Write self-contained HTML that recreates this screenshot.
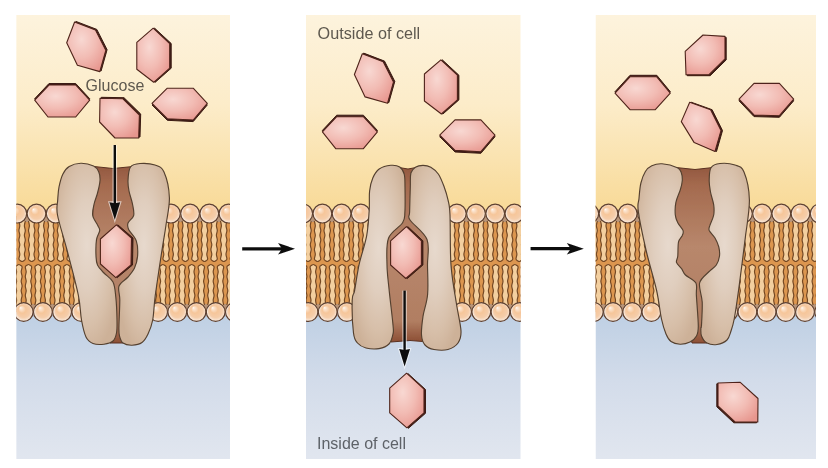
<!DOCTYPE html><html><head><meta charset="utf-8"><style>html,body{margin:0;padding:0;background:#fff;width:828px;height:468px;overflow:hidden}svg{display:block}text{font-family:"Liberation Sans",sans-serif}</style></head><body>
<svg width="828" height="468" viewBox="0 0 828 468">
<defs>
<linearGradient id="bgTop" x1="0" y1="15" x2="0" y2="215" gradientUnits="userSpaceOnUse"><stop offset="0" stop-color="#fdf3dd"/><stop offset="0.45" stop-color="#fcecc9"/><stop offset="1" stop-color="#f8d995"/></linearGradient>
<linearGradient id="bgBot" x1="0" y1="305" x2="0" y2="459" gradientUnits="userSpaceOnUse"><stop offset="0" stop-color="#bccee3"/><stop offset="0.5" stop-color="#d3dcea"/><stop offset="1" stop-color="#e1e6ef"/></linearGradient>
<radialGradient id="head" cx="0.55" cy="0.5" r="0.5" fx="0.33" fy="0.27"><stop offset="0" stop-color="#ffffff"/><stop offset="0.1" stop-color="#fce8d6"/><stop offset="0.4" stop-color="#f6c69a"/><stop offset="0.72" stop-color="#f5cdaa"/><stop offset="1" stop-color="#faede2"/></radialGradient>
<radialGradient id="hex" cx="0.38" cy="0.35" r="0.75"><stop offset="0" stop-color="#f8d8d2"/><stop offset="0.5" stop-color="#f2bcb4"/><stop offset="1" stop-color="#e7968e"/></radialGradient>
<radialGradient id="lobe" cx="0.5" cy="0.45" r="0.6"><stop offset="0" stop-color="#e7d9cd"/><stop offset="0.4" stop-color="#e0cebe"/><stop offset="0.75" stop-color="#d7bfa9"/><stop offset="1" stop-color="#cdb198"/></radialGradient>
<linearGradient id="chan" x1="0" y1="0" x2="0" y2="1"><stop offset="0" stop-color="#935840"/><stop offset="0.1" stop-color="#a46a4e"/><stop offset="0.45" stop-color="#b8876c"/><stop offset="0.88" stop-color="#b17e62"/><stop offset="1" stop-color="#8c4e34"/></linearGradient>
<clipPath id="cp0"><rect x="16.2" y="15" width="213.8" height="444"/></clipPath>
<clipPath id="cp1"><rect x="306.0" y="15" width="214.5" height="444"/></clipPath>
<clipPath id="cp2"><rect x="595.5" y="15" width="220.5" height="444"/></clipPath>
<filter id="soft" x="-1%" y="-1%" width="102%" height="102%"><feGaussianBlur stdDeviation="0.6"/></filter>
</defs>
<g filter="url(#soft)">
<g clip-path="url(#cp0)">
<rect x="16.2" y="15" width="213.8" height="215" fill="url(#bgTop)"/>
<rect x="16.2" y="300" width="213.8" height="159" fill="url(#bgBot)"/>
<rect x="16.2" y="216" width="213.8" height="96" fill="#dc9650"/>
<rect x="16.2" y="216" width="213.8" height="6" fill="#b89478"/>
<rect x="16.2" y="304" width="213.8" height="6" fill="#b89478"/>
<path d="M-9.9,221.0 C-9.7,221.8 -9.0,224.2 -9.0,225.8 C-9.0,227.3 -9.9,228.9 -9.9,230.5 C-9.9,232.1 -9.0,233.7 -9.0,235.2 C-9.0,236.8 -9.9,238.4 -9.9,240.0 C-9.9,241.6 -9.0,243.2 -9.0,244.8 C-9.0,246.3 -9.9,247.9 -9.9,249.5 C-9.9,251.1 -9.0,252.7 -9.0,254.2 C-9.0,255.8 -10.0,257.9 -9.9,259.0 C-9.8,260.1 -8.8,260.3 -8.3,260.7 C-7.8,261.1 -7.2,261.5 -6.7,261.5 C-6.2,261.5 -5.6,261.1 -5.1,260.7 C-4.6,260.3 -3.6,260.1 -3.5,259.0 C-3.4,257.9 -4.4,255.8 -4.4,254.2 C-4.4,252.7 -3.5,251.1 -3.5,249.5 C-3.5,247.9 -4.4,246.3 -4.4,244.8 C-4.4,243.2 -3.5,241.6 -3.5,240.0 C-3.5,238.4 -4.4,236.8 -4.4,235.2 C-4.4,233.7 -3.5,232.1 -3.5,230.5 C-3.5,228.9 -4.4,227.3 -4.4,225.8 C-4.4,224.2 -3.6,221.8 -3.5,221.0" fill="#f3cf9f" stroke="#744824" stroke-width="1.2"/>
<path d="M-0.3,221.0 C-0.1,221.8 0.6,224.2 0.6,225.8 C0.6,227.3 -0.3,228.9 -0.3,230.5 C-0.3,232.1 0.6,233.7 0.6,235.2 C0.6,236.8 -0.3,238.4 -0.3,240.0 C-0.3,241.6 0.6,243.2 0.6,244.8 C0.6,246.3 -0.3,247.9 -0.3,249.5 C-0.3,251.1 0.6,252.7 0.6,254.2 C0.6,255.8 -0.4,257.9 -0.3,259.0 C-0.2,260.1 0.8,260.3 1.3,260.7 C1.8,261.1 2.4,261.5 2.9,261.5 C3.4,261.5 4.0,261.1 4.5,260.7 C5.0,260.3 6.0,260.1 6.1,259.0 C6.2,257.9 5.2,255.8 5.2,254.2 C5.2,252.7 6.1,251.1 6.1,249.5 C6.1,247.9 5.2,246.3 5.2,244.8 C5.2,243.2 6.1,241.6 6.1,240.0 C6.1,238.4 5.2,236.8 5.2,235.2 C5.2,233.7 6.1,232.1 6.1,230.5 C6.1,228.9 5.2,227.3 5.2,225.8 C5.2,224.2 6.0,221.8 6.1,221.0" fill="#f3cf9f" stroke="#744824" stroke-width="1.2"/>
<path d="M9.3,221.0 C9.5,221.8 10.2,224.2 10.2,225.8 C10.2,227.3 9.3,228.9 9.3,230.5 C9.3,232.1 10.2,233.7 10.2,235.2 C10.2,236.8 9.3,238.4 9.3,240.0 C9.3,241.6 10.2,243.2 10.2,244.8 C10.2,246.3 9.3,247.9 9.3,249.5 C9.3,251.1 10.2,252.7 10.2,254.2 C10.2,255.8 9.2,257.9 9.3,259.0 C9.4,260.1 10.4,260.3 10.9,260.7 C11.4,261.1 12.0,261.5 12.5,261.5 C13.0,261.5 13.6,261.1 14.1,260.7 C14.6,260.3 15.6,260.1 15.7,259.0 C15.8,257.9 14.8,255.8 14.8,254.2 C14.8,252.7 15.7,251.1 15.7,249.5 C15.7,247.9 14.8,246.3 14.8,244.8 C14.8,243.2 15.7,241.6 15.7,240.0 C15.7,238.4 14.8,236.8 14.8,235.2 C14.8,233.7 15.7,232.1 15.7,230.5 C15.7,228.9 14.8,227.3 14.8,225.8 C14.8,224.2 15.5,221.8 15.7,221.0" fill="#f3cf9f" stroke="#744824" stroke-width="1.2"/>
<path d="M18.9,221.0 C19.1,221.8 19.8,224.2 19.8,225.8 C19.8,227.3 18.9,228.9 18.9,230.5 C18.9,232.1 19.8,233.7 19.8,235.2 C19.8,236.8 18.9,238.4 18.9,240.0 C18.9,241.6 19.8,243.2 19.8,244.8 C19.8,246.3 18.9,247.9 18.9,249.5 C18.9,251.1 19.8,252.7 19.8,254.2 C19.8,255.8 18.8,257.9 18.9,259.0 C19.0,260.1 20.0,260.3 20.5,260.7 C21.0,261.1 21.6,261.5 22.1,261.5 C22.6,261.5 23.2,261.1 23.7,260.7 C24.2,260.3 25.2,260.1 25.3,259.0 C25.4,257.9 24.4,255.8 24.4,254.2 C24.4,252.7 25.3,251.1 25.3,249.5 C25.3,247.9 24.4,246.3 24.4,244.8 C24.4,243.2 25.3,241.6 25.3,240.0 C25.3,238.4 24.4,236.8 24.4,235.2 C24.4,233.7 25.3,232.1 25.3,230.5 C25.3,228.9 24.4,227.3 24.4,225.8 C24.4,224.2 25.2,221.8 25.3,221.0" fill="#f3cf9f" stroke="#744824" stroke-width="1.2"/>
<path d="M28.5,221.0 C28.6,221.8 29.4,224.2 29.4,225.8 C29.4,227.3 28.5,228.9 28.5,230.5 C28.5,232.1 29.4,233.7 29.4,235.2 C29.4,236.8 28.5,238.4 28.5,240.0 C28.5,241.6 29.4,243.2 29.4,244.8 C29.4,246.3 28.5,247.9 28.5,249.5 C28.5,251.1 29.4,252.7 29.4,254.2 C29.4,255.8 28.4,257.9 28.5,259.0 C28.6,260.1 29.6,260.3 30.1,260.7 C30.6,261.1 31.2,261.5 31.7,261.5 C32.2,261.5 32.8,261.1 33.3,260.7 C33.8,260.3 34.8,260.1 34.9,259.0 C35.0,257.9 34.0,255.8 34.0,254.2 C34.0,252.7 34.9,251.1 34.9,249.5 C34.9,247.9 34.0,246.3 34.0,244.8 C34.0,243.2 34.9,241.6 34.9,240.0 C34.9,238.4 34.0,236.8 34.0,235.2 C34.0,233.7 34.9,232.1 34.9,230.5 C34.9,228.9 34.0,227.3 34.0,225.8 C34.0,224.2 34.8,221.8 34.9,221.0" fill="#f3cf9f" stroke="#744824" stroke-width="1.2"/>
<path d="M38.1,221.0 C38.2,221.8 39.0,224.2 39.0,225.8 C39.0,227.3 38.1,228.9 38.1,230.5 C38.1,232.1 39.0,233.7 39.0,235.2 C39.0,236.8 38.1,238.4 38.1,240.0 C38.1,241.6 39.0,243.2 39.0,244.8 C39.0,246.3 38.1,247.9 38.1,249.5 C38.1,251.1 39.0,252.7 39.0,254.2 C39.0,255.8 38.0,257.9 38.1,259.0 C38.2,260.1 39.2,260.3 39.7,260.7 C40.2,261.1 40.8,261.5 41.3,261.5 C41.8,261.5 42.4,261.1 42.9,260.7 C43.4,260.3 44.4,260.1 44.5,259.0 C44.6,257.9 43.6,255.8 43.6,254.2 C43.6,252.7 44.5,251.1 44.5,249.5 C44.5,247.9 43.6,246.3 43.6,244.8 C43.6,243.2 44.5,241.6 44.5,240.0 C44.5,238.4 43.6,236.8 43.6,235.2 C43.6,233.7 44.5,232.1 44.5,230.5 C44.5,228.9 43.6,227.3 43.6,225.8 C43.6,224.2 44.4,221.8 44.5,221.0" fill="#f3cf9f" stroke="#744824" stroke-width="1.2"/>
<path d="M47.7,221.0 C47.9,221.8 48.6,224.2 48.6,225.8 C48.6,227.3 47.7,228.9 47.7,230.5 C47.7,232.1 48.6,233.7 48.6,235.2 C48.6,236.8 47.7,238.4 47.7,240.0 C47.7,241.6 48.6,243.2 48.6,244.8 C48.6,246.3 47.7,247.9 47.7,249.5 C47.7,251.1 48.6,252.7 48.6,254.2 C48.6,255.8 47.6,257.9 47.7,259.0 C47.8,260.1 48.8,260.3 49.3,260.7 C49.8,261.1 50.4,261.5 50.9,261.5 C51.4,261.5 52.0,261.1 52.5,260.7 C53.0,260.3 54.0,260.1 54.1,259.0 C54.2,257.9 53.2,255.8 53.2,254.2 C53.2,252.7 54.1,251.1 54.1,249.5 C54.1,247.9 53.2,246.3 53.2,244.8 C53.2,243.2 54.1,241.6 54.1,240.0 C54.1,238.4 53.2,236.8 53.2,235.2 C53.2,233.7 54.1,232.1 54.1,230.5 C54.1,228.9 53.2,227.3 53.2,225.8 C53.2,224.2 54.0,221.8 54.1,221.0" fill="#f3cf9f" stroke="#744824" stroke-width="1.2"/>
<path d="M57.3,221.0 C57.4,221.8 58.2,224.2 58.2,225.8 C58.2,227.3 57.3,228.9 57.3,230.5 C57.3,232.1 58.2,233.7 58.2,235.2 C58.2,236.8 57.3,238.4 57.3,240.0 C57.3,241.6 58.2,243.2 58.2,244.8 C58.2,246.3 57.3,247.9 57.3,249.5 C57.3,251.1 58.2,252.7 58.2,254.2 C58.2,255.8 57.2,257.9 57.3,259.0 C57.4,260.1 58.4,260.3 58.9,260.7 C59.4,261.1 60.0,261.5 60.5,261.5 C61.0,261.5 61.6,261.1 62.1,260.7 C62.6,260.3 63.6,260.1 63.7,259.0 C63.8,257.9 62.8,255.8 62.8,254.2 C62.8,252.7 63.7,251.1 63.7,249.5 C63.7,247.9 62.8,246.3 62.8,244.8 C62.8,243.2 63.7,241.6 63.7,240.0 C63.7,238.4 62.8,236.8 62.8,235.2 C62.8,233.7 63.7,232.1 63.7,230.5 C63.7,228.9 62.8,227.3 62.8,225.8 C62.8,224.2 63.6,221.8 63.7,221.0" fill="#f3cf9f" stroke="#744824" stroke-width="1.2"/>
<path d="M66.9,221.0 C67.1,221.8 67.8,224.2 67.8,225.8 C67.8,227.3 66.9,228.9 66.9,230.5 C66.9,232.1 67.8,233.7 67.8,235.2 C67.8,236.8 66.9,238.4 66.9,240.0 C66.9,241.6 67.8,243.2 67.8,244.8 C67.8,246.3 66.9,247.9 66.9,249.5 C66.9,251.1 67.8,252.7 67.8,254.2 C67.8,255.8 66.8,257.9 66.9,259.0 C67.0,260.1 68.0,260.3 68.5,260.7 C69.0,261.1 69.6,261.5 70.1,261.5 C70.6,261.5 71.2,261.1 71.7,260.7 C72.2,260.3 73.2,260.1 73.3,259.0 C73.4,257.9 72.4,255.8 72.4,254.2 C72.4,252.7 73.3,251.1 73.3,249.5 C73.3,247.9 72.4,246.3 72.4,244.8 C72.4,243.2 73.3,241.6 73.3,240.0 C73.3,238.4 72.4,236.8 72.4,235.2 C72.4,233.7 73.3,232.1 73.3,230.5 C73.3,228.9 72.4,227.3 72.4,225.8 C72.4,224.2 73.2,221.8 73.3,221.0" fill="#f3cf9f" stroke="#744824" stroke-width="1.2"/>
<path d="M76.5,221.0 C76.7,221.8 77.4,224.2 77.4,225.8 C77.4,227.3 76.5,228.9 76.5,230.5 C76.5,232.1 77.4,233.7 77.4,235.2 C77.4,236.8 76.5,238.4 76.5,240.0 C76.5,241.6 77.4,243.2 77.4,244.8 C77.4,246.3 76.5,247.9 76.5,249.5 C76.5,251.1 77.4,252.7 77.4,254.2 C77.4,255.8 76.4,257.9 76.5,259.0 C76.6,260.1 77.6,260.3 78.1,260.7 C78.6,261.1 79.2,261.5 79.7,261.5 C80.2,261.5 80.8,261.1 81.3,260.7 C81.8,260.3 82.8,260.1 82.9,259.0 C83.0,257.9 82.0,255.8 82.0,254.2 C82.0,252.7 82.9,251.1 82.9,249.5 C82.9,247.9 82.0,246.3 82.0,244.8 C82.0,243.2 82.9,241.6 82.9,240.0 C82.9,238.4 82.0,236.8 82.0,235.2 C82.0,233.7 82.9,232.1 82.9,230.5 C82.9,228.9 82.0,227.3 82.0,225.8 C82.0,224.2 82.8,221.8 82.9,221.0" fill="#f3cf9f" stroke="#744824" stroke-width="1.2"/>
<path d="M86.1,221.0 C86.3,221.8 87.0,224.2 87.0,225.8 C87.0,227.3 86.1,228.9 86.1,230.5 C86.1,232.1 87.0,233.7 87.0,235.2 C87.0,236.8 86.1,238.4 86.1,240.0 C86.1,241.6 87.0,243.2 87.0,244.8 C87.0,246.3 86.1,247.9 86.1,249.5 C86.1,251.1 87.0,252.7 87.0,254.2 C87.0,255.8 86.0,257.9 86.1,259.0 C86.2,260.1 87.2,260.3 87.7,260.7 C88.2,261.1 88.8,261.5 89.3,261.5 C89.8,261.5 90.4,261.1 90.9,260.7 C91.4,260.3 92.4,260.1 92.5,259.0 C92.6,257.9 91.6,255.8 91.6,254.2 C91.6,252.7 92.5,251.1 92.5,249.5 C92.5,247.9 91.6,246.3 91.6,244.8 C91.6,243.2 92.5,241.6 92.5,240.0 C92.5,238.4 91.6,236.8 91.6,235.2 C91.6,233.7 92.5,232.1 92.5,230.5 C92.5,228.9 91.6,227.3 91.6,225.8 C91.6,224.2 92.4,221.8 92.5,221.0" fill="#f3cf9f" stroke="#744824" stroke-width="1.2"/>
<path d="M95.7,221.0 C95.9,221.8 96.6,224.2 96.6,225.8 C96.6,227.3 95.7,228.9 95.7,230.5 C95.7,232.1 96.6,233.7 96.6,235.2 C96.6,236.8 95.7,238.4 95.7,240.0 C95.7,241.6 96.6,243.2 96.6,244.8 C96.6,246.3 95.7,247.9 95.7,249.5 C95.7,251.1 96.6,252.7 96.6,254.2 C96.6,255.8 95.6,257.9 95.7,259.0 C95.8,260.1 96.8,260.3 97.3,260.7 C97.8,261.1 98.4,261.5 98.9,261.5 C99.4,261.5 100.0,261.1 100.5,260.7 C101.0,260.3 102.0,260.1 102.1,259.0 C102.2,257.9 101.2,255.8 101.2,254.2 C101.2,252.7 102.1,251.1 102.1,249.5 C102.1,247.9 101.2,246.3 101.2,244.8 C101.2,243.2 102.1,241.6 102.1,240.0 C102.1,238.4 101.2,236.8 101.2,235.2 C101.2,233.7 102.1,232.1 102.1,230.5 C102.1,228.9 101.2,227.3 101.2,225.8 C101.2,224.2 102.0,221.8 102.1,221.0" fill="#f3cf9f" stroke="#744824" stroke-width="1.2"/>
<path d="M105.3,221.0 C105.5,221.8 106.2,224.2 106.2,225.8 C106.2,227.3 105.3,228.9 105.3,230.5 C105.3,232.1 106.2,233.7 106.2,235.2 C106.2,236.8 105.3,238.4 105.3,240.0 C105.3,241.6 106.2,243.2 106.2,244.8 C106.2,246.3 105.3,247.9 105.3,249.5 C105.3,251.1 106.2,252.7 106.2,254.2 C106.2,255.8 105.2,257.9 105.3,259.0 C105.4,260.1 106.4,260.3 106.9,260.7 C107.4,261.1 108.0,261.5 108.5,261.5 C109.0,261.5 109.6,261.1 110.1,260.7 C110.6,260.3 111.6,260.1 111.7,259.0 C111.8,257.9 110.8,255.8 110.8,254.2 C110.8,252.7 111.7,251.1 111.7,249.5 C111.7,247.9 110.8,246.3 110.8,244.8 C110.8,243.2 111.7,241.6 111.7,240.0 C111.7,238.4 110.8,236.8 110.8,235.2 C110.8,233.7 111.7,232.1 111.7,230.5 C111.7,228.9 110.8,227.3 110.8,225.8 C110.8,224.2 111.6,221.8 111.7,221.0" fill="#f3cf9f" stroke="#744824" stroke-width="1.2"/>
<path d="M114.9,221.0 C115.1,221.8 115.8,224.2 115.8,225.8 C115.8,227.3 114.9,228.9 114.9,230.5 C114.9,232.1 115.8,233.7 115.8,235.2 C115.8,236.8 114.9,238.4 114.9,240.0 C114.9,241.6 115.8,243.2 115.8,244.8 C115.8,246.3 114.9,247.9 114.9,249.5 C114.9,251.1 115.8,252.7 115.8,254.2 C115.8,255.8 114.8,257.9 114.9,259.0 C115.0,260.1 116.0,260.3 116.5,260.7 C117.0,261.1 117.6,261.5 118.1,261.5 C118.6,261.5 119.2,261.1 119.7,260.7 C120.2,260.3 121.2,260.1 121.3,259.0 C121.4,257.9 120.4,255.8 120.4,254.2 C120.4,252.7 121.3,251.1 121.3,249.5 C121.3,247.9 120.4,246.3 120.4,244.8 C120.4,243.2 121.3,241.6 121.3,240.0 C121.3,238.4 120.4,236.8 120.4,235.2 C120.4,233.7 121.3,232.1 121.3,230.5 C121.3,228.9 120.4,227.3 120.4,225.8 C120.4,224.2 121.2,221.8 121.3,221.0" fill="#f3cf9f" stroke="#744824" stroke-width="1.2"/>
<path d="M124.5,221.0 C124.7,221.8 125.4,224.2 125.4,225.8 C125.4,227.3 124.5,228.9 124.5,230.5 C124.5,232.1 125.4,233.7 125.4,235.2 C125.4,236.8 124.5,238.4 124.5,240.0 C124.5,241.6 125.4,243.2 125.4,244.8 C125.4,246.3 124.5,247.9 124.5,249.5 C124.5,251.1 125.4,252.7 125.4,254.2 C125.4,255.8 124.4,257.9 124.5,259.0 C124.6,260.1 125.6,260.3 126.1,260.7 C126.6,261.1 127.2,261.5 127.7,261.5 C128.2,261.5 128.8,261.1 129.3,260.7 C129.8,260.3 130.8,260.1 130.9,259.0 C131.0,257.9 130.0,255.8 130.0,254.2 C130.0,252.7 130.9,251.1 130.9,249.5 C130.9,247.9 130.0,246.3 130.0,244.8 C130.0,243.2 130.9,241.6 130.9,240.0 C130.9,238.4 130.0,236.8 130.0,235.2 C130.0,233.7 130.9,232.1 130.9,230.5 C130.9,228.9 130.0,227.3 130.0,225.8 C130.0,224.2 130.8,221.8 130.9,221.0" fill="#f3cf9f" stroke="#744824" stroke-width="1.2"/>
<path d="M134.1,221.0 C134.3,221.8 135.0,224.2 135.0,225.8 C135.0,227.3 134.1,228.9 134.1,230.5 C134.1,232.1 135.0,233.7 135.0,235.2 C135.0,236.8 134.1,238.4 134.1,240.0 C134.1,241.6 135.0,243.2 135.0,244.8 C135.0,246.3 134.1,247.9 134.1,249.5 C134.1,251.1 135.0,252.7 135.0,254.2 C135.0,255.8 134.0,257.9 134.1,259.0 C134.2,260.1 135.2,260.3 135.7,260.7 C136.2,261.1 136.8,261.5 137.3,261.5 C137.8,261.5 138.4,261.1 138.9,260.7 C139.4,260.3 140.4,260.1 140.5,259.0 C140.6,257.9 139.6,255.8 139.6,254.2 C139.6,252.7 140.5,251.1 140.5,249.5 C140.5,247.9 139.6,246.3 139.6,244.8 C139.6,243.2 140.5,241.6 140.5,240.0 C140.5,238.4 139.6,236.8 139.6,235.2 C139.6,233.7 140.5,232.1 140.5,230.5 C140.5,228.9 139.6,227.3 139.6,225.8 C139.6,224.2 140.3,221.8 140.5,221.0" fill="#f3cf9f" stroke="#744824" stroke-width="1.2"/>
<path d="M143.7,221.0 C143.8,221.8 144.6,224.2 144.6,225.8 C144.6,227.3 143.7,228.9 143.7,230.5 C143.7,232.1 144.6,233.7 144.6,235.2 C144.6,236.8 143.7,238.4 143.7,240.0 C143.7,241.6 144.6,243.2 144.6,244.8 C144.6,246.3 143.7,247.9 143.7,249.5 C143.7,251.1 144.6,252.7 144.6,254.2 C144.6,255.8 143.6,257.9 143.7,259.0 C143.8,260.1 144.8,260.3 145.3,260.7 C145.8,261.1 146.4,261.5 146.9,261.5 C147.4,261.5 148.0,261.1 148.5,260.7 C149.0,260.3 150.0,260.1 150.1,259.0 C150.2,257.9 149.2,255.8 149.2,254.2 C149.2,252.7 150.1,251.1 150.1,249.5 C150.1,247.9 149.2,246.3 149.2,244.8 C149.2,243.2 150.1,241.6 150.1,240.0 C150.1,238.4 149.2,236.8 149.2,235.2 C149.2,233.7 150.1,232.1 150.1,230.5 C150.1,228.9 149.2,227.3 149.2,225.8 C149.2,224.2 149.9,221.8 150.1,221.0" fill="#f3cf9f" stroke="#744824" stroke-width="1.2"/>
<path d="M153.3,221.0 C153.5,221.8 154.2,224.2 154.2,225.8 C154.2,227.3 153.3,228.9 153.3,230.5 C153.3,232.1 154.2,233.7 154.2,235.2 C154.2,236.8 153.3,238.4 153.3,240.0 C153.3,241.6 154.2,243.2 154.2,244.8 C154.2,246.3 153.3,247.9 153.3,249.5 C153.3,251.1 154.2,252.7 154.2,254.2 C154.2,255.8 153.2,257.9 153.3,259.0 C153.4,260.1 154.4,260.3 154.9,260.7 C155.4,261.1 156.0,261.5 156.5,261.5 C157.0,261.5 157.6,261.1 158.1,260.7 C158.6,260.3 159.6,260.1 159.7,259.0 C159.8,257.9 158.8,255.8 158.8,254.2 C158.8,252.7 159.7,251.1 159.7,249.5 C159.7,247.9 158.8,246.3 158.8,244.8 C158.8,243.2 159.7,241.6 159.7,240.0 C159.7,238.4 158.8,236.8 158.8,235.2 C158.8,233.7 159.7,232.1 159.7,230.5 C159.7,228.9 158.8,227.3 158.8,225.8 C158.8,224.2 159.5,221.8 159.7,221.0" fill="#f3cf9f" stroke="#744824" stroke-width="1.2"/>
<path d="M162.9,221.0 C163.0,221.8 163.8,224.2 163.8,225.8 C163.8,227.3 162.9,228.9 162.9,230.5 C162.9,232.1 163.8,233.7 163.8,235.2 C163.8,236.8 162.9,238.4 162.9,240.0 C162.9,241.6 163.8,243.2 163.8,244.8 C163.8,246.3 162.9,247.9 162.9,249.5 C162.9,251.1 163.8,252.7 163.8,254.2 C163.8,255.8 162.8,257.9 162.9,259.0 C163.0,260.1 164.0,260.3 164.5,260.7 C165.0,261.1 165.6,261.5 166.1,261.5 C166.6,261.5 167.2,261.1 167.7,260.7 C168.2,260.3 169.2,260.1 169.3,259.0 C169.4,257.9 168.4,255.8 168.4,254.2 C168.4,252.7 169.3,251.1 169.3,249.5 C169.3,247.9 168.4,246.3 168.4,244.8 C168.4,243.2 169.3,241.6 169.3,240.0 C169.3,238.4 168.4,236.8 168.4,235.2 C168.4,233.7 169.3,232.1 169.3,230.5 C169.3,228.9 168.4,227.3 168.4,225.8 C168.4,224.2 169.1,221.8 169.3,221.0" fill="#f3cf9f" stroke="#744824" stroke-width="1.2"/>
<path d="M172.5,221.0 C172.7,221.8 173.4,224.2 173.4,225.8 C173.4,227.3 172.5,228.9 172.5,230.5 C172.5,232.1 173.4,233.7 173.4,235.2 C173.4,236.8 172.5,238.4 172.5,240.0 C172.5,241.6 173.4,243.2 173.4,244.8 C173.4,246.3 172.5,247.9 172.5,249.5 C172.5,251.1 173.4,252.7 173.4,254.2 C173.4,255.8 172.4,257.9 172.5,259.0 C172.6,260.1 173.6,260.3 174.1,260.7 C174.6,261.1 175.2,261.5 175.7,261.5 C176.2,261.5 176.8,261.1 177.3,260.7 C177.8,260.3 178.8,260.1 178.9,259.0 C179.0,257.9 178.0,255.8 178.0,254.2 C178.0,252.7 178.9,251.1 178.9,249.5 C178.9,247.9 178.0,246.3 178.0,244.8 C178.0,243.2 178.9,241.6 178.9,240.0 C178.9,238.4 178.0,236.8 178.0,235.2 C178.0,233.7 178.9,232.1 178.9,230.5 C178.9,228.9 178.0,227.3 178.0,225.8 C178.0,224.2 178.7,221.8 178.9,221.0" fill="#f3cf9f" stroke="#744824" stroke-width="1.2"/>
<path d="M182.1,221.0 C182.2,221.8 183.0,224.2 183.0,225.8 C183.0,227.3 182.1,228.9 182.1,230.5 C182.1,232.1 183.0,233.7 183.0,235.2 C183.0,236.8 182.1,238.4 182.1,240.0 C182.1,241.6 183.0,243.2 183.0,244.8 C183.0,246.3 182.1,247.9 182.1,249.5 C182.1,251.1 183.0,252.7 183.0,254.2 C183.0,255.8 182.0,257.9 182.1,259.0 C182.2,260.1 183.2,260.3 183.7,260.7 C184.2,261.1 184.8,261.5 185.3,261.5 C185.8,261.5 186.4,261.1 186.9,260.7 C187.4,260.3 188.4,260.1 188.5,259.0 C188.6,257.9 187.6,255.8 187.6,254.2 C187.6,252.7 188.5,251.1 188.5,249.5 C188.5,247.9 187.6,246.3 187.6,244.8 C187.6,243.2 188.5,241.6 188.5,240.0 C188.5,238.4 187.6,236.8 187.6,235.2 C187.6,233.7 188.5,232.1 188.5,230.5 C188.5,228.9 187.6,227.3 187.6,225.8 C187.6,224.2 188.3,221.8 188.5,221.0" fill="#f3cf9f" stroke="#744824" stroke-width="1.2"/>
<path d="M191.7,221.0 C191.8,221.8 192.6,224.2 192.6,225.8 C192.6,227.3 191.7,228.9 191.7,230.5 C191.7,232.1 192.6,233.7 192.6,235.2 C192.6,236.8 191.7,238.4 191.7,240.0 C191.7,241.6 192.6,243.2 192.6,244.8 C192.6,246.3 191.7,247.9 191.7,249.5 C191.7,251.1 192.6,252.7 192.6,254.2 C192.6,255.8 191.6,257.9 191.7,259.0 C191.8,260.1 192.8,260.3 193.3,260.7 C193.8,261.1 194.4,261.5 194.9,261.5 C195.4,261.5 196.0,261.1 196.5,260.7 C197.0,260.3 198.0,260.1 198.1,259.0 C198.2,257.9 197.2,255.8 197.2,254.2 C197.2,252.7 198.1,251.1 198.1,249.5 C198.1,247.9 197.2,246.3 197.2,244.8 C197.2,243.2 198.1,241.6 198.1,240.0 C198.1,238.4 197.2,236.8 197.2,235.2 C197.2,233.7 198.1,232.1 198.1,230.5 C198.1,228.9 197.2,227.3 197.2,225.8 C197.2,224.2 197.9,221.8 198.1,221.0" fill="#f3cf9f" stroke="#744824" stroke-width="1.2"/>
<path d="M201.3,221.0 C201.4,221.8 202.2,224.2 202.2,225.8 C202.2,227.3 201.3,228.9 201.3,230.5 C201.3,232.1 202.2,233.7 202.2,235.2 C202.2,236.8 201.3,238.4 201.3,240.0 C201.3,241.6 202.2,243.2 202.2,244.8 C202.2,246.3 201.3,247.9 201.3,249.5 C201.3,251.1 202.2,252.7 202.2,254.2 C202.2,255.8 201.2,257.9 201.3,259.0 C201.4,260.1 202.4,260.3 202.9,260.7 C203.4,261.1 204.0,261.5 204.5,261.5 C205.0,261.5 205.6,261.1 206.1,260.7 C206.6,260.3 207.6,260.1 207.7,259.0 C207.8,257.9 206.8,255.8 206.8,254.2 C206.8,252.7 207.7,251.1 207.7,249.5 C207.7,247.9 206.8,246.3 206.8,244.8 C206.8,243.2 207.7,241.6 207.7,240.0 C207.7,238.4 206.8,236.8 206.8,235.2 C206.8,233.7 207.7,232.1 207.7,230.5 C207.7,228.9 206.8,227.3 206.8,225.8 C206.8,224.2 207.5,221.8 207.7,221.0" fill="#f3cf9f" stroke="#744824" stroke-width="1.2"/>
<path d="M210.9,221.0 C211.0,221.8 211.8,224.2 211.8,225.8 C211.8,227.3 210.9,228.9 210.9,230.5 C210.9,232.1 211.8,233.7 211.8,235.2 C211.8,236.8 210.9,238.4 210.9,240.0 C210.9,241.6 211.8,243.2 211.8,244.8 C211.8,246.3 210.9,247.9 210.9,249.5 C210.9,251.1 211.8,252.7 211.8,254.2 C211.8,255.8 210.8,257.9 210.9,259.0 C211.0,260.1 212.0,260.3 212.5,260.7 C213.0,261.1 213.6,261.5 214.1,261.5 C214.6,261.5 215.2,261.1 215.7,260.7 C216.2,260.3 217.2,260.1 217.3,259.0 C217.4,257.9 216.4,255.8 216.4,254.2 C216.4,252.7 217.3,251.1 217.3,249.5 C217.3,247.9 216.4,246.3 216.4,244.8 C216.4,243.2 217.3,241.6 217.3,240.0 C217.3,238.4 216.4,236.8 216.4,235.2 C216.4,233.7 217.3,232.1 217.3,230.5 C217.3,228.9 216.4,227.3 216.4,225.8 C216.4,224.2 217.1,221.8 217.3,221.0" fill="#f3cf9f" stroke="#744824" stroke-width="1.2"/>
<path d="M220.5,221.0 C220.6,221.8 221.4,224.2 221.4,225.8 C221.4,227.3 220.5,228.9 220.5,230.5 C220.5,232.1 221.4,233.7 221.4,235.2 C221.4,236.8 220.5,238.4 220.5,240.0 C220.5,241.6 221.4,243.2 221.4,244.8 C221.4,246.3 220.5,247.9 220.5,249.5 C220.5,251.1 221.4,252.7 221.4,254.2 C221.4,255.8 220.4,257.9 220.5,259.0 C220.6,260.1 221.6,260.3 222.1,260.7 C222.6,261.1 223.2,261.5 223.7,261.5 C224.2,261.5 224.8,261.1 225.3,260.7 C225.8,260.3 226.8,260.1 226.9,259.0 C227.0,257.9 226.0,255.8 226.0,254.2 C226.0,252.7 226.9,251.1 226.9,249.5 C226.9,247.9 226.0,246.3 226.0,244.8 C226.0,243.2 226.9,241.6 226.9,240.0 C226.9,238.4 226.0,236.8 226.0,235.2 C226.0,233.7 226.9,232.1 226.9,230.5 C226.9,228.9 226.0,227.3 226.0,225.8 C226.0,224.2 226.7,221.8 226.9,221.0" fill="#f3cf9f" stroke="#744824" stroke-width="1.2"/>
<path d="M230.1,221.0 C230.2,221.8 231.0,224.2 231.0,225.8 C231.0,227.3 230.1,228.9 230.1,230.5 C230.1,232.1 231.0,233.7 231.0,235.2 C231.0,236.8 230.1,238.4 230.1,240.0 C230.1,241.6 231.0,243.2 231.0,244.8 C231.0,246.3 230.1,247.9 230.1,249.5 C230.1,251.1 231.0,252.7 231.0,254.2 C231.0,255.8 230.0,257.9 230.1,259.0 C230.2,260.1 231.2,260.3 231.7,260.7 C232.2,261.1 232.8,261.5 233.3,261.5 C233.8,261.5 234.4,261.1 234.9,260.7 C235.4,260.3 236.4,260.1 236.5,259.0 C236.6,257.9 235.6,255.8 235.6,254.2 C235.6,252.7 236.5,251.1 236.5,249.5 C236.5,247.9 235.6,246.3 235.6,244.8 C235.6,243.2 236.5,241.6 236.5,240.0 C236.5,238.4 235.6,236.8 235.6,235.2 C235.6,233.7 236.5,232.1 236.5,230.5 C236.5,228.9 235.6,227.3 235.6,225.8 C235.6,224.2 236.3,221.8 236.5,221.0" fill="#f3cf9f" stroke="#744824" stroke-width="1.2"/>
<path d="M239.7,221.0 C239.8,221.8 240.6,224.2 240.6,225.8 C240.6,227.3 239.7,228.9 239.7,230.5 C239.7,232.1 240.6,233.7 240.6,235.2 C240.6,236.8 239.7,238.4 239.7,240.0 C239.7,241.6 240.6,243.2 240.6,244.8 C240.6,246.3 239.7,247.9 239.7,249.5 C239.7,251.1 240.6,252.7 240.6,254.2 C240.6,255.8 239.6,257.9 239.7,259.0 C239.8,260.1 240.8,260.3 241.3,260.7 C241.8,261.1 242.4,261.5 242.9,261.5 C243.4,261.5 244.0,261.1 244.5,260.7 C245.0,260.3 246.0,260.1 246.1,259.0 C246.2,257.9 245.2,255.8 245.2,254.2 C245.2,252.7 246.1,251.1 246.1,249.5 C246.1,247.9 245.2,246.3 245.2,244.8 C245.2,243.2 246.1,241.6 246.1,240.0 C246.1,238.4 245.2,236.8 245.2,235.2 C245.2,233.7 246.1,232.1 246.1,230.5 C246.1,228.9 245.2,227.3 245.2,225.8 C245.2,224.2 245.9,221.8 246.1,221.0" fill="#f3cf9f" stroke="#744824" stroke-width="1.2"/>
<path d="M249.3,221.0 C249.4,221.8 250.2,224.2 250.2,225.8 C250.2,227.3 249.3,228.9 249.3,230.5 C249.3,232.1 250.2,233.7 250.2,235.2 C250.2,236.8 249.3,238.4 249.3,240.0 C249.3,241.6 250.2,243.2 250.2,244.8 C250.2,246.3 249.3,247.9 249.3,249.5 C249.3,251.1 250.2,252.7 250.2,254.2 C250.2,255.8 249.2,257.9 249.3,259.0 C249.4,260.1 250.4,260.3 250.9,260.7 C251.4,261.1 252.0,261.5 252.5,261.5 C253.0,261.5 253.6,261.1 254.1,260.7 C254.6,260.3 255.6,260.1 255.7,259.0 C255.8,257.9 254.8,255.8 254.8,254.2 C254.8,252.7 255.7,251.1 255.7,249.5 C255.7,247.9 254.8,246.3 254.8,244.8 C254.8,243.2 255.7,241.6 255.7,240.0 C255.7,238.4 254.8,236.8 254.8,235.2 C254.8,233.7 255.7,232.1 255.7,230.5 C255.7,228.9 254.8,227.3 254.8,225.8 C254.8,224.2 255.5,221.8 255.7,221.0" fill="#f3cf9f" stroke="#744824" stroke-width="1.2"/>
<path d="M-3.5,305.0 C-3.4,304.2 -2.6,301.8 -2.6,300.2 C-2.6,298.7 -3.5,297.1 -3.5,295.5 C-3.5,293.9 -2.6,292.3 -2.6,290.8 C-2.6,289.2 -3.5,287.6 -3.5,286.0 C-3.5,284.4 -2.6,282.8 -2.6,281.2 C-2.6,279.7 -3.5,278.1 -3.5,276.5 C-3.5,274.9 -2.6,273.3 -2.6,271.8 C-2.6,270.2 -3.6,268.1 -3.5,267.0 C-3.4,265.9 -2.4,265.7 -1.9,265.3 C-1.4,264.9 -0.8,264.5 -0.3,264.5 C0.2,264.5 0.8,264.9 1.3,265.3 C1.8,265.7 2.8,265.9 2.9,267.0 C3.0,268.1 2.0,270.2 2.0,271.8 C2.0,273.3 2.9,274.9 2.9,276.5 C2.9,278.1 2.0,279.7 2.0,281.2 C2.0,282.8 2.9,284.4 2.9,286.0 C2.9,287.6 2.0,289.2 2.0,290.8 C2.0,292.3 2.9,293.9 2.9,295.5 C2.9,297.1 2.0,298.7 2.0,300.2 C2.0,301.8 2.7,304.2 2.9,305.0" fill="#f3cf9f" stroke="#744824" stroke-width="1.2"/>
<path d="M6.1,305.0 C6.2,304.2 7.0,301.8 7.0,300.2 C7.0,298.7 6.1,297.1 6.1,295.5 C6.1,293.9 7.0,292.3 7.0,290.8 C7.0,289.2 6.1,287.6 6.1,286.0 C6.1,284.4 7.0,282.8 7.0,281.2 C7.0,279.7 6.1,278.1 6.1,276.5 C6.1,274.9 7.0,273.3 7.0,271.8 C7.0,270.2 6.0,268.1 6.1,267.0 C6.2,265.9 7.2,265.7 7.7,265.3 C8.2,264.9 8.8,264.5 9.3,264.5 C9.8,264.5 10.4,264.9 10.9,265.3 C11.4,265.7 12.4,265.9 12.5,267.0 C12.6,268.1 11.6,270.2 11.6,271.8 C11.6,273.3 12.5,274.9 12.5,276.5 C12.5,278.1 11.6,279.7 11.6,281.2 C11.6,282.8 12.5,284.4 12.5,286.0 C12.5,287.6 11.6,289.2 11.6,290.8 C11.6,292.3 12.5,293.9 12.5,295.5 C12.5,297.1 11.6,298.7 11.6,300.2 C11.6,301.8 12.3,304.2 12.5,305.0" fill="#f3cf9f" stroke="#744824" stroke-width="1.2"/>
<path d="M15.7,305.0 C15.8,304.2 16.6,301.8 16.6,300.2 C16.6,298.7 15.7,297.1 15.7,295.5 C15.7,293.9 16.6,292.3 16.6,290.8 C16.6,289.2 15.7,287.6 15.7,286.0 C15.7,284.4 16.6,282.8 16.6,281.2 C16.6,279.7 15.7,278.1 15.7,276.5 C15.7,274.9 16.6,273.3 16.6,271.8 C16.6,270.2 15.6,268.1 15.7,267.0 C15.8,265.9 16.8,265.7 17.3,265.3 C17.8,264.9 18.4,264.5 18.9,264.5 C19.4,264.5 20.0,264.9 20.5,265.3 C21.0,265.7 22.0,265.9 22.1,267.0 C22.2,268.1 21.2,270.2 21.2,271.8 C21.2,273.3 22.1,274.9 22.1,276.5 C22.1,278.1 21.2,279.7 21.2,281.2 C21.2,282.8 22.1,284.4 22.1,286.0 C22.1,287.6 21.2,289.2 21.2,290.8 C21.2,292.3 22.1,293.9 22.1,295.5 C22.1,297.1 21.2,298.7 21.2,300.2 C21.2,301.8 21.9,304.2 22.1,305.0" fill="#f3cf9f" stroke="#744824" stroke-width="1.2"/>
<path d="M25.3,305.0 C25.4,304.2 26.2,301.8 26.2,300.2 C26.2,298.7 25.3,297.1 25.3,295.5 C25.3,293.9 26.2,292.3 26.2,290.8 C26.2,289.2 25.3,287.6 25.3,286.0 C25.3,284.4 26.2,282.8 26.2,281.2 C26.2,279.7 25.3,278.1 25.3,276.5 C25.3,274.9 26.2,273.3 26.2,271.8 C26.2,270.2 25.2,268.1 25.3,267.0 C25.4,265.9 26.4,265.7 26.9,265.3 C27.4,264.9 28.0,264.5 28.5,264.5 C29.0,264.5 29.6,264.9 30.1,265.3 C30.6,265.7 31.6,265.9 31.7,267.0 C31.8,268.1 30.8,270.2 30.8,271.8 C30.8,273.3 31.7,274.9 31.7,276.5 C31.7,278.1 30.8,279.7 30.8,281.2 C30.8,282.8 31.7,284.4 31.7,286.0 C31.7,287.6 30.8,289.2 30.8,290.8 C30.8,292.3 31.7,293.9 31.7,295.5 C31.7,297.1 30.8,298.7 30.8,300.2 C30.8,301.8 31.5,304.2 31.7,305.0" fill="#f3cf9f" stroke="#744824" stroke-width="1.2"/>
<path d="M34.9,305.0 C35.0,304.2 35.8,301.8 35.8,300.2 C35.8,298.7 34.9,297.1 34.9,295.5 C34.9,293.9 35.8,292.3 35.8,290.8 C35.8,289.2 34.9,287.6 34.9,286.0 C34.9,284.4 35.8,282.8 35.8,281.2 C35.8,279.7 34.9,278.1 34.9,276.5 C34.9,274.9 35.8,273.3 35.8,271.8 C35.8,270.2 34.8,268.1 34.9,267.0 C35.0,265.9 36.0,265.7 36.5,265.3 C37.0,264.9 37.6,264.5 38.1,264.5 C38.6,264.5 39.2,264.9 39.7,265.3 C40.2,265.7 41.2,265.9 41.3,267.0 C41.4,268.1 40.4,270.2 40.4,271.8 C40.4,273.3 41.3,274.9 41.3,276.5 C41.3,278.1 40.4,279.7 40.4,281.2 C40.4,282.8 41.3,284.4 41.3,286.0 C41.3,287.6 40.4,289.2 40.4,290.8 C40.4,292.3 41.3,293.9 41.3,295.5 C41.3,297.1 40.4,298.7 40.4,300.2 C40.4,301.8 41.1,304.2 41.3,305.0" fill="#f3cf9f" stroke="#744824" stroke-width="1.2"/>
<path d="M44.5,305.0 C44.6,304.2 45.4,301.8 45.4,300.2 C45.4,298.7 44.5,297.1 44.5,295.5 C44.5,293.9 45.4,292.3 45.4,290.8 C45.4,289.2 44.5,287.6 44.5,286.0 C44.5,284.4 45.4,282.8 45.4,281.2 C45.4,279.7 44.5,278.1 44.5,276.5 C44.5,274.9 45.4,273.3 45.4,271.8 C45.4,270.2 44.4,268.1 44.5,267.0 C44.6,265.9 45.6,265.7 46.1,265.3 C46.6,264.9 47.2,264.5 47.7,264.5 C48.2,264.5 48.8,264.9 49.3,265.3 C49.8,265.7 50.8,265.9 50.9,267.0 C51.0,268.1 50.0,270.2 50.0,271.8 C50.0,273.3 50.9,274.9 50.9,276.5 C50.9,278.1 50.0,279.7 50.0,281.2 C50.0,282.8 50.9,284.4 50.9,286.0 C50.9,287.6 50.0,289.2 50.0,290.8 C50.0,292.3 50.9,293.9 50.9,295.5 C50.9,297.1 50.0,298.7 50.0,300.2 C50.0,301.8 50.7,304.2 50.9,305.0" fill="#f3cf9f" stroke="#744824" stroke-width="1.2"/>
<path d="M54.1,305.0 C54.2,304.2 55.0,301.8 55.0,300.2 C55.0,298.7 54.1,297.1 54.1,295.5 C54.1,293.9 55.0,292.3 55.0,290.8 C55.0,289.2 54.1,287.6 54.1,286.0 C54.1,284.4 55.0,282.8 55.0,281.2 C55.0,279.7 54.1,278.1 54.1,276.5 C54.1,274.9 55.0,273.3 55.0,271.8 C55.0,270.2 54.0,268.1 54.1,267.0 C54.2,265.9 55.2,265.7 55.7,265.3 C56.2,264.9 56.8,264.5 57.3,264.5 C57.8,264.5 58.4,264.9 58.9,265.3 C59.4,265.7 60.4,265.9 60.5,267.0 C60.6,268.1 59.6,270.2 59.6,271.8 C59.6,273.3 60.5,274.9 60.5,276.5 C60.5,278.1 59.6,279.7 59.6,281.2 C59.6,282.8 60.5,284.4 60.5,286.0 C60.5,287.6 59.6,289.2 59.6,290.8 C59.6,292.3 60.5,293.9 60.5,295.5 C60.5,297.1 59.6,298.7 59.6,300.2 C59.6,301.8 60.3,304.2 60.5,305.0" fill="#f3cf9f" stroke="#744824" stroke-width="1.2"/>
<path d="M63.7,305.0 C63.8,304.2 64.6,301.8 64.6,300.2 C64.6,298.7 63.7,297.1 63.7,295.5 C63.7,293.9 64.6,292.3 64.6,290.8 C64.6,289.2 63.7,287.6 63.7,286.0 C63.7,284.4 64.6,282.8 64.6,281.2 C64.6,279.7 63.7,278.1 63.7,276.5 C63.7,274.9 64.6,273.3 64.6,271.8 C64.6,270.2 63.6,268.1 63.7,267.0 C63.8,265.9 64.8,265.7 65.3,265.3 C65.8,264.9 66.4,264.5 66.9,264.5 C67.4,264.5 68.0,264.9 68.5,265.3 C69.0,265.7 70.0,265.9 70.1,267.0 C70.2,268.1 69.2,270.2 69.2,271.8 C69.2,273.3 70.1,274.9 70.1,276.5 C70.1,278.1 69.2,279.7 69.2,281.2 C69.2,282.8 70.1,284.4 70.1,286.0 C70.1,287.6 69.2,289.2 69.2,290.8 C69.2,292.3 70.1,293.9 70.1,295.5 C70.1,297.1 69.2,298.7 69.2,300.2 C69.2,301.8 69.9,304.2 70.1,305.0" fill="#f3cf9f" stroke="#744824" stroke-width="1.2"/>
<path d="M73.3,305.0 C73.4,304.2 74.2,301.8 74.2,300.2 C74.2,298.7 73.3,297.1 73.3,295.5 C73.3,293.9 74.2,292.3 74.2,290.8 C74.2,289.2 73.3,287.6 73.3,286.0 C73.3,284.4 74.2,282.8 74.2,281.2 C74.2,279.7 73.3,278.1 73.3,276.5 C73.3,274.9 74.2,273.3 74.2,271.8 C74.2,270.2 73.2,268.1 73.3,267.0 C73.4,265.9 74.4,265.7 74.9,265.3 C75.4,264.9 76.0,264.5 76.5,264.5 C77.0,264.5 77.6,264.9 78.1,265.3 C78.6,265.7 79.6,265.9 79.7,267.0 C79.8,268.1 78.8,270.2 78.8,271.8 C78.8,273.3 79.7,274.9 79.7,276.5 C79.7,278.1 78.8,279.7 78.8,281.2 C78.8,282.8 79.7,284.4 79.7,286.0 C79.7,287.6 78.8,289.2 78.8,290.8 C78.8,292.3 79.7,293.9 79.7,295.5 C79.7,297.1 78.8,298.7 78.8,300.2 C78.8,301.8 79.5,304.2 79.7,305.0" fill="#f3cf9f" stroke="#744824" stroke-width="1.2"/>
<path d="M82.9,305.0 C83.0,304.2 83.8,301.8 83.8,300.2 C83.8,298.7 82.9,297.1 82.9,295.5 C82.9,293.9 83.8,292.3 83.8,290.8 C83.8,289.2 82.9,287.6 82.9,286.0 C82.9,284.4 83.8,282.8 83.8,281.2 C83.8,279.7 82.9,278.1 82.9,276.5 C82.9,274.9 83.8,273.3 83.8,271.8 C83.8,270.2 82.8,268.1 82.9,267.0 C83.0,265.9 84.0,265.7 84.5,265.3 C85.0,264.9 85.6,264.5 86.1,264.5 C86.6,264.5 87.2,264.9 87.7,265.3 C88.2,265.7 89.2,265.9 89.3,267.0 C89.4,268.1 88.4,270.2 88.4,271.8 C88.4,273.3 89.3,274.9 89.3,276.5 C89.3,278.1 88.4,279.7 88.4,281.2 C88.4,282.8 89.3,284.4 89.3,286.0 C89.3,287.6 88.4,289.2 88.4,290.8 C88.4,292.3 89.3,293.9 89.3,295.5 C89.3,297.1 88.4,298.7 88.4,300.2 C88.4,301.8 89.1,304.2 89.3,305.0" fill="#f3cf9f" stroke="#744824" stroke-width="1.2"/>
<path d="M92.5,305.0 C92.6,304.2 93.4,301.8 93.4,300.2 C93.4,298.7 92.5,297.1 92.5,295.5 C92.5,293.9 93.4,292.3 93.4,290.8 C93.4,289.2 92.5,287.6 92.5,286.0 C92.5,284.4 93.4,282.8 93.4,281.2 C93.4,279.7 92.5,278.1 92.5,276.5 C92.5,274.9 93.4,273.3 93.4,271.8 C93.4,270.2 92.4,268.1 92.5,267.0 C92.6,265.9 93.6,265.7 94.1,265.3 C94.6,264.9 95.2,264.5 95.7,264.5 C96.2,264.5 96.8,264.9 97.3,265.3 C97.8,265.7 98.8,265.9 98.9,267.0 C99.0,268.1 98.0,270.2 98.0,271.8 C98.0,273.3 98.9,274.9 98.9,276.5 C98.9,278.1 98.0,279.7 98.0,281.2 C98.0,282.8 98.9,284.4 98.9,286.0 C98.9,287.6 98.0,289.2 98.0,290.8 C98.0,292.3 98.9,293.9 98.9,295.5 C98.9,297.1 98.0,298.7 98.0,300.2 C98.0,301.8 98.7,304.2 98.9,305.0" fill="#f3cf9f" stroke="#744824" stroke-width="1.2"/>
<path d="M102.1,305.0 C102.2,304.2 103.0,301.8 103.0,300.2 C103.0,298.7 102.1,297.1 102.1,295.5 C102.1,293.9 103.0,292.3 103.0,290.8 C103.0,289.2 102.1,287.6 102.1,286.0 C102.1,284.4 103.0,282.8 103.0,281.2 C103.0,279.7 102.1,278.1 102.1,276.5 C102.1,274.9 103.0,273.3 103.0,271.8 C103.0,270.2 102.0,268.1 102.1,267.0 C102.2,265.9 103.2,265.7 103.7,265.3 C104.2,264.9 104.8,264.5 105.3,264.5 C105.8,264.5 106.4,264.9 106.9,265.3 C107.4,265.7 108.4,265.9 108.5,267.0 C108.6,268.1 107.6,270.2 107.6,271.8 C107.6,273.3 108.5,274.9 108.5,276.5 C108.5,278.1 107.6,279.7 107.6,281.2 C107.6,282.8 108.5,284.4 108.5,286.0 C108.5,287.6 107.6,289.2 107.6,290.8 C107.6,292.3 108.5,293.9 108.5,295.5 C108.5,297.1 107.6,298.7 107.6,300.2 C107.6,301.8 108.3,304.2 108.5,305.0" fill="#f3cf9f" stroke="#744824" stroke-width="1.2"/>
<path d="M111.7,305.0 C111.8,304.2 112.6,301.8 112.6,300.2 C112.6,298.7 111.7,297.1 111.7,295.5 C111.7,293.9 112.6,292.3 112.6,290.8 C112.6,289.2 111.7,287.6 111.7,286.0 C111.7,284.4 112.6,282.8 112.6,281.2 C112.6,279.7 111.7,278.1 111.7,276.5 C111.7,274.9 112.6,273.3 112.6,271.8 C112.6,270.2 111.6,268.1 111.7,267.0 C111.8,265.9 112.8,265.7 113.3,265.3 C113.8,264.9 114.4,264.5 114.9,264.5 C115.4,264.5 116.0,264.9 116.5,265.3 C117.0,265.7 118.0,265.9 118.1,267.0 C118.2,268.1 117.2,270.2 117.2,271.8 C117.2,273.3 118.1,274.9 118.1,276.5 C118.1,278.1 117.2,279.7 117.2,281.2 C117.2,282.8 118.1,284.4 118.1,286.0 C118.1,287.6 117.2,289.2 117.2,290.8 C117.2,292.3 118.1,293.9 118.1,295.5 C118.1,297.1 117.2,298.7 117.2,300.2 C117.2,301.8 117.9,304.2 118.1,305.0" fill="#f3cf9f" stroke="#744824" stroke-width="1.2"/>
<path d="M121.3,305.0 C121.4,304.2 122.2,301.8 122.2,300.2 C122.2,298.7 121.3,297.1 121.3,295.5 C121.3,293.9 122.2,292.3 122.2,290.8 C122.2,289.2 121.3,287.6 121.3,286.0 C121.3,284.4 122.2,282.8 122.2,281.2 C122.2,279.7 121.3,278.1 121.3,276.5 C121.3,274.9 122.2,273.3 122.2,271.8 C122.2,270.2 121.2,268.1 121.3,267.0 C121.4,265.9 122.4,265.7 122.9,265.3 C123.4,264.9 124.0,264.5 124.5,264.5 C125.0,264.5 125.6,264.9 126.1,265.3 C126.6,265.7 127.6,265.9 127.7,267.0 C127.8,268.1 126.8,270.2 126.8,271.8 C126.8,273.3 127.7,274.9 127.7,276.5 C127.7,278.1 126.8,279.7 126.8,281.2 C126.8,282.8 127.7,284.4 127.7,286.0 C127.7,287.6 126.8,289.2 126.8,290.8 C126.8,292.3 127.7,293.9 127.7,295.5 C127.7,297.1 126.8,298.7 126.8,300.2 C126.8,301.8 127.5,304.2 127.7,305.0" fill="#f3cf9f" stroke="#744824" stroke-width="1.2"/>
<path d="M130.9,305.0 C131.0,304.2 131.8,301.8 131.8,300.2 C131.8,298.7 130.9,297.1 130.9,295.5 C130.9,293.9 131.8,292.3 131.8,290.8 C131.8,289.2 130.9,287.6 130.9,286.0 C130.9,284.4 131.8,282.8 131.8,281.2 C131.8,279.7 130.9,278.1 130.9,276.5 C130.9,274.9 131.8,273.3 131.8,271.8 C131.8,270.2 130.8,268.1 130.9,267.0 C131.0,265.9 132.0,265.7 132.5,265.3 C133.0,264.9 133.6,264.5 134.1,264.5 C134.6,264.5 135.2,264.9 135.7,265.3 C136.2,265.7 137.2,265.9 137.3,267.0 C137.4,268.1 136.4,270.2 136.4,271.8 C136.4,273.3 137.3,274.9 137.3,276.5 C137.3,278.1 136.4,279.7 136.4,281.2 C136.4,282.8 137.3,284.4 137.3,286.0 C137.3,287.6 136.4,289.2 136.4,290.8 C136.4,292.3 137.3,293.9 137.3,295.5 C137.3,297.1 136.4,298.7 136.4,300.2 C136.4,301.8 137.1,304.2 137.3,305.0" fill="#f3cf9f" stroke="#744824" stroke-width="1.2"/>
<path d="M140.5,305.0 C140.7,304.2 141.4,301.8 141.4,300.2 C141.4,298.7 140.5,297.1 140.5,295.5 C140.5,293.9 141.4,292.3 141.4,290.8 C141.4,289.2 140.5,287.6 140.5,286.0 C140.5,284.4 141.4,282.8 141.4,281.2 C141.4,279.7 140.5,278.1 140.5,276.5 C140.5,274.9 141.4,273.3 141.4,271.8 C141.4,270.2 140.4,268.1 140.5,267.0 C140.6,265.9 141.6,265.7 142.1,265.3 C142.6,264.9 143.2,264.5 143.7,264.5 C144.2,264.5 144.8,264.9 145.3,265.3 C145.8,265.7 146.8,265.9 146.9,267.0 C147.0,268.1 146.0,270.2 146.0,271.8 C146.0,273.3 146.9,274.9 146.9,276.5 C146.9,278.1 146.0,279.7 146.0,281.2 C146.0,282.8 146.9,284.4 146.9,286.0 C146.9,287.6 146.0,289.2 146.0,290.8 C146.0,292.3 146.9,293.9 146.9,295.5 C146.9,297.1 146.0,298.7 146.0,300.2 C146.0,301.8 146.7,304.2 146.9,305.0" fill="#f3cf9f" stroke="#744824" stroke-width="1.2"/>
<path d="M150.1,305.0 C150.2,304.2 151.0,301.8 151.0,300.2 C151.0,298.7 150.1,297.1 150.1,295.5 C150.1,293.9 151.0,292.3 151.0,290.8 C151.0,289.2 150.1,287.6 150.1,286.0 C150.1,284.4 151.0,282.8 151.0,281.2 C151.0,279.7 150.1,278.1 150.1,276.5 C150.1,274.9 151.0,273.3 151.0,271.8 C151.0,270.2 150.0,268.1 150.1,267.0 C150.2,265.9 151.2,265.7 151.7,265.3 C152.2,264.9 152.8,264.5 153.3,264.5 C153.8,264.5 154.4,264.9 154.9,265.3 C155.4,265.7 156.4,265.9 156.5,267.0 C156.6,268.1 155.6,270.2 155.6,271.8 C155.6,273.3 156.5,274.9 156.5,276.5 C156.5,278.1 155.6,279.7 155.6,281.2 C155.6,282.8 156.5,284.4 156.5,286.0 C156.5,287.6 155.6,289.2 155.6,290.8 C155.6,292.3 156.5,293.9 156.5,295.5 C156.5,297.1 155.6,298.7 155.6,300.2 C155.6,301.8 156.3,304.2 156.5,305.0" fill="#f3cf9f" stroke="#744824" stroke-width="1.2"/>
<path d="M159.7,305.0 C159.8,304.2 160.6,301.8 160.6,300.2 C160.6,298.7 159.7,297.1 159.7,295.5 C159.7,293.9 160.6,292.3 160.6,290.8 C160.6,289.2 159.7,287.6 159.7,286.0 C159.7,284.4 160.6,282.8 160.6,281.2 C160.6,279.7 159.7,278.1 159.7,276.5 C159.7,274.9 160.6,273.3 160.6,271.8 C160.6,270.2 159.6,268.1 159.7,267.0 C159.8,265.9 160.8,265.7 161.3,265.3 C161.8,264.9 162.4,264.5 162.9,264.5 C163.4,264.5 164.0,264.9 164.5,265.3 C165.0,265.7 166.0,265.9 166.1,267.0 C166.2,268.1 165.2,270.2 165.2,271.8 C165.2,273.3 166.1,274.9 166.1,276.5 C166.1,278.1 165.2,279.7 165.2,281.2 C165.2,282.8 166.1,284.4 166.1,286.0 C166.1,287.6 165.2,289.2 165.2,290.8 C165.2,292.3 166.1,293.9 166.1,295.5 C166.1,297.1 165.2,298.7 165.2,300.2 C165.2,301.8 165.9,304.2 166.1,305.0" fill="#f3cf9f" stroke="#744824" stroke-width="1.2"/>
<path d="M169.3,305.0 C169.4,304.2 170.2,301.8 170.2,300.2 C170.2,298.7 169.3,297.1 169.3,295.5 C169.3,293.9 170.2,292.3 170.2,290.8 C170.2,289.2 169.3,287.6 169.3,286.0 C169.3,284.4 170.2,282.8 170.2,281.2 C170.2,279.7 169.3,278.1 169.3,276.5 C169.3,274.9 170.2,273.3 170.2,271.8 C170.2,270.2 169.2,268.1 169.3,267.0 C169.4,265.9 170.4,265.7 170.9,265.3 C171.4,264.9 172.0,264.5 172.5,264.5 C173.0,264.5 173.6,264.9 174.1,265.3 C174.6,265.7 175.6,265.9 175.7,267.0 C175.8,268.1 174.8,270.2 174.8,271.8 C174.8,273.3 175.7,274.9 175.7,276.5 C175.7,278.1 174.8,279.7 174.8,281.2 C174.8,282.8 175.7,284.4 175.7,286.0 C175.7,287.6 174.8,289.2 174.8,290.8 C174.8,292.3 175.7,293.9 175.7,295.5 C175.7,297.1 174.8,298.7 174.8,300.2 C174.8,301.8 175.5,304.2 175.7,305.0" fill="#f3cf9f" stroke="#744824" stroke-width="1.2"/>
<path d="M178.9,305.0 C179.0,304.2 179.8,301.8 179.8,300.2 C179.8,298.7 178.9,297.1 178.9,295.5 C178.9,293.9 179.8,292.3 179.8,290.8 C179.8,289.2 178.9,287.6 178.9,286.0 C178.9,284.4 179.8,282.8 179.8,281.2 C179.8,279.7 178.9,278.1 178.9,276.5 C178.9,274.9 179.8,273.3 179.8,271.8 C179.8,270.2 178.8,268.1 178.9,267.0 C179.0,265.9 180.0,265.7 180.5,265.3 C181.0,264.9 181.6,264.5 182.1,264.5 C182.6,264.5 183.2,264.9 183.7,265.3 C184.2,265.7 185.2,265.9 185.3,267.0 C185.4,268.1 184.4,270.2 184.4,271.8 C184.4,273.3 185.3,274.9 185.3,276.5 C185.3,278.1 184.4,279.7 184.4,281.2 C184.4,282.8 185.3,284.4 185.3,286.0 C185.3,287.6 184.4,289.2 184.4,290.8 C184.4,292.3 185.3,293.9 185.3,295.5 C185.3,297.1 184.4,298.7 184.4,300.2 C184.4,301.8 185.1,304.2 185.3,305.0" fill="#f3cf9f" stroke="#744824" stroke-width="1.2"/>
<path d="M188.5,305.0 C188.6,304.2 189.4,301.8 189.4,300.2 C189.4,298.7 188.5,297.1 188.5,295.5 C188.5,293.9 189.4,292.3 189.4,290.8 C189.4,289.2 188.5,287.6 188.5,286.0 C188.5,284.4 189.4,282.8 189.4,281.2 C189.4,279.7 188.5,278.1 188.5,276.5 C188.5,274.9 189.4,273.3 189.4,271.8 C189.4,270.2 188.4,268.1 188.5,267.0 C188.6,265.9 189.6,265.7 190.1,265.3 C190.6,264.9 191.2,264.5 191.7,264.5 C192.2,264.5 192.8,264.9 193.3,265.3 C193.8,265.7 194.8,265.9 194.9,267.0 C195.0,268.1 194.0,270.2 194.0,271.8 C194.0,273.3 194.9,274.9 194.9,276.5 C194.9,278.1 194.0,279.7 194.0,281.2 C194.0,282.8 194.9,284.4 194.9,286.0 C194.9,287.6 194.0,289.2 194.0,290.8 C194.0,292.3 194.9,293.9 194.9,295.5 C194.9,297.1 194.0,298.7 194.0,300.2 C194.0,301.8 194.7,304.2 194.9,305.0" fill="#f3cf9f" stroke="#744824" stroke-width="1.2"/>
<path d="M198.1,305.0 C198.2,304.2 199.0,301.8 199.0,300.2 C199.0,298.7 198.1,297.1 198.1,295.5 C198.1,293.9 199.0,292.3 199.0,290.8 C199.0,289.2 198.1,287.6 198.1,286.0 C198.1,284.4 199.0,282.8 199.0,281.2 C199.0,279.7 198.1,278.1 198.1,276.5 C198.1,274.9 199.0,273.3 199.0,271.8 C199.0,270.2 198.0,268.1 198.1,267.0 C198.2,265.9 199.2,265.7 199.7,265.3 C200.2,264.9 200.8,264.5 201.3,264.5 C201.8,264.5 202.4,264.9 202.9,265.3 C203.4,265.7 204.4,265.9 204.5,267.0 C204.6,268.1 203.6,270.2 203.6,271.8 C203.6,273.3 204.5,274.9 204.5,276.5 C204.5,278.1 203.6,279.7 203.6,281.2 C203.6,282.8 204.5,284.4 204.5,286.0 C204.5,287.6 203.6,289.2 203.6,290.8 C203.6,292.3 204.5,293.9 204.5,295.5 C204.5,297.1 203.6,298.7 203.6,300.2 C203.6,301.8 204.3,304.2 204.5,305.0" fill="#f3cf9f" stroke="#744824" stroke-width="1.2"/>
<path d="M207.7,305.0 C207.8,304.2 208.6,301.8 208.6,300.2 C208.6,298.7 207.7,297.1 207.7,295.5 C207.7,293.9 208.6,292.3 208.6,290.8 C208.6,289.2 207.7,287.6 207.7,286.0 C207.7,284.4 208.6,282.8 208.6,281.2 C208.6,279.7 207.7,278.1 207.7,276.5 C207.7,274.9 208.6,273.3 208.6,271.8 C208.6,270.2 207.6,268.1 207.7,267.0 C207.8,265.9 208.8,265.7 209.3,265.3 C209.8,264.9 210.4,264.5 210.9,264.5 C211.4,264.5 212.0,264.9 212.5,265.3 C213.0,265.7 214.0,265.9 214.1,267.0 C214.2,268.1 213.2,270.2 213.2,271.8 C213.2,273.3 214.1,274.9 214.1,276.5 C214.1,278.1 213.2,279.7 213.2,281.2 C213.2,282.8 214.1,284.4 214.1,286.0 C214.1,287.6 213.2,289.2 213.2,290.8 C213.2,292.3 214.1,293.9 214.1,295.5 C214.1,297.1 213.2,298.7 213.2,300.2 C213.2,301.8 213.9,304.2 214.1,305.0" fill="#f3cf9f" stroke="#744824" stroke-width="1.2"/>
<path d="M217.3,305.0 C217.4,304.2 218.2,301.8 218.2,300.2 C218.2,298.7 217.3,297.1 217.3,295.5 C217.3,293.9 218.2,292.3 218.2,290.8 C218.2,289.2 217.3,287.6 217.3,286.0 C217.3,284.4 218.2,282.8 218.2,281.2 C218.2,279.7 217.3,278.1 217.3,276.5 C217.3,274.9 218.2,273.3 218.2,271.8 C218.2,270.2 217.2,268.1 217.3,267.0 C217.4,265.9 218.4,265.7 218.9,265.3 C219.4,264.9 220.0,264.5 220.5,264.5 C221.0,264.5 221.6,264.9 222.1,265.3 C222.6,265.7 223.6,265.9 223.7,267.0 C223.8,268.1 222.8,270.2 222.8,271.8 C222.8,273.3 223.7,274.9 223.7,276.5 C223.7,278.1 222.8,279.7 222.8,281.2 C222.8,282.8 223.7,284.4 223.7,286.0 C223.7,287.6 222.8,289.2 222.8,290.8 C222.8,292.3 223.7,293.9 223.7,295.5 C223.7,297.1 222.8,298.7 222.8,300.2 C222.8,301.8 223.5,304.2 223.7,305.0" fill="#f3cf9f" stroke="#744824" stroke-width="1.2"/>
<path d="M226.9,305.0 C227.0,304.2 227.8,301.8 227.8,300.2 C227.8,298.7 226.9,297.1 226.9,295.5 C226.9,293.9 227.8,292.3 227.8,290.8 C227.8,289.2 226.9,287.6 226.9,286.0 C226.9,284.4 227.8,282.8 227.8,281.2 C227.8,279.7 226.9,278.1 226.9,276.5 C226.9,274.9 227.8,273.3 227.8,271.8 C227.8,270.2 226.8,268.1 226.9,267.0 C227.0,265.9 228.0,265.7 228.5,265.3 C229.0,264.9 229.6,264.5 230.1,264.5 C230.6,264.5 231.2,264.9 231.7,265.3 C232.2,265.7 233.2,265.9 233.3,267.0 C233.4,268.1 232.4,270.2 232.4,271.8 C232.4,273.3 233.3,274.9 233.3,276.5 C233.3,278.1 232.4,279.7 232.4,281.2 C232.4,282.8 233.3,284.4 233.3,286.0 C233.3,287.6 232.4,289.2 232.4,290.8 C232.4,292.3 233.3,293.9 233.3,295.5 C233.3,297.1 232.4,298.7 232.4,300.2 C232.4,301.8 233.1,304.2 233.3,305.0" fill="#f3cf9f" stroke="#744824" stroke-width="1.2"/>
<path d="M236.5,305.0 C236.6,304.2 237.4,301.8 237.4,300.2 C237.4,298.7 236.5,297.1 236.5,295.5 C236.5,293.9 237.4,292.3 237.4,290.8 C237.4,289.2 236.5,287.6 236.5,286.0 C236.5,284.4 237.4,282.8 237.4,281.2 C237.4,279.7 236.5,278.1 236.5,276.5 C236.5,274.9 237.4,273.3 237.4,271.8 C237.4,270.2 236.4,268.1 236.5,267.0 C236.6,265.9 237.6,265.7 238.1,265.3 C238.6,264.9 239.2,264.5 239.7,264.5 C240.2,264.5 240.8,264.9 241.3,265.3 C241.8,265.7 242.8,265.9 242.9,267.0 C243.0,268.1 242.0,270.2 242.0,271.8 C242.0,273.3 242.9,274.9 242.9,276.5 C242.9,278.1 242.0,279.7 242.0,281.2 C242.0,282.8 242.9,284.4 242.9,286.0 C242.9,287.6 242.0,289.2 242.0,290.8 C242.0,292.3 242.9,293.9 242.9,295.5 C242.9,297.1 242.0,298.7 242.0,300.2 C242.0,301.8 242.7,304.2 242.9,305.0" fill="#f3cf9f" stroke="#744824" stroke-width="1.2"/>
<circle cx="-1.9" cy="213.6" r="9.4" fill="url(#head)" stroke="#5e4030" stroke-width="1.2"/>
<circle cx="17.3" cy="213.6" r="9.4" fill="url(#head)" stroke="#5e4030" stroke-width="1.2"/>
<circle cx="36.5" cy="213.6" r="9.4" fill="url(#head)" stroke="#5e4030" stroke-width="1.2"/>
<circle cx="55.7" cy="213.6" r="9.4" fill="url(#head)" stroke="#5e4030" stroke-width="1.2"/>
<circle cx="74.9" cy="213.6" r="9.4" fill="url(#head)" stroke="#5e4030" stroke-width="1.2"/>
<circle cx="94.1" cy="213.6" r="9.4" fill="url(#head)" stroke="#5e4030" stroke-width="1.2"/>
<circle cx="113.3" cy="213.6" r="9.4" fill="url(#head)" stroke="#5e4030" stroke-width="1.2"/>
<circle cx="132.5" cy="213.6" r="9.4" fill="url(#head)" stroke="#5e4030" stroke-width="1.2"/>
<circle cx="151.7" cy="213.6" r="9.4" fill="url(#head)" stroke="#5e4030" stroke-width="1.2"/>
<circle cx="170.9" cy="213.6" r="9.4" fill="url(#head)" stroke="#5e4030" stroke-width="1.2"/>
<circle cx="190.1" cy="213.6" r="9.4" fill="url(#head)" stroke="#5e4030" stroke-width="1.2"/>
<circle cx="209.3" cy="213.6" r="9.4" fill="url(#head)" stroke="#5e4030" stroke-width="1.2"/>
<circle cx="228.5" cy="213.6" r="9.4" fill="url(#head)" stroke="#5e4030" stroke-width="1.2"/>
<circle cx="247.7" cy="213.6" r="9.4" fill="url(#head)" stroke="#5e4030" stroke-width="1.2"/>
<circle cx="4.5" cy="312.0" r="9.4" fill="url(#head)" stroke="#5e4030" stroke-width="1.2"/>
<circle cx="23.7" cy="312.0" r="9.4" fill="url(#head)" stroke="#5e4030" stroke-width="1.2"/>
<circle cx="42.9" cy="312.0" r="9.4" fill="url(#head)" stroke="#5e4030" stroke-width="1.2"/>
<circle cx="62.1" cy="312.0" r="9.4" fill="url(#head)" stroke="#5e4030" stroke-width="1.2"/>
<circle cx="81.3" cy="312.0" r="9.4" fill="url(#head)" stroke="#5e4030" stroke-width="1.2"/>
<circle cx="100.5" cy="312.0" r="9.4" fill="url(#head)" stroke="#5e4030" stroke-width="1.2"/>
<circle cx="119.7" cy="312.0" r="9.4" fill="url(#head)" stroke="#5e4030" stroke-width="1.2"/>
<circle cx="138.9" cy="312.0" r="9.4" fill="url(#head)" stroke="#5e4030" stroke-width="1.2"/>
<circle cx="158.1" cy="312.0" r="9.4" fill="url(#head)" stroke="#5e4030" stroke-width="1.2"/>
<circle cx="177.3" cy="312.0" r="9.4" fill="url(#head)" stroke="#5e4030" stroke-width="1.2"/>
<circle cx="196.5" cy="312.0" r="9.4" fill="url(#head)" stroke="#5e4030" stroke-width="1.2"/>
<circle cx="215.7" cy="312.0" r="9.4" fill="url(#head)" stroke="#5e4030" stroke-width="1.2"/>
<circle cx="234.9" cy="312.0" r="9.4" fill="url(#head)" stroke="#5e4030" stroke-width="1.2"/>
</g>
<g clip-path="url(#cp1)">
<rect x="306.0" y="15" width="214.5" height="215" fill="url(#bgTop)"/>
<rect x="306.0" y="300" width="214.5" height="159" fill="url(#bgBot)"/>
<rect x="306.0" y="216" width="214.5" height="96" fill="#dc9650"/>
<rect x="306.0" y="216" width="214.5" height="6" fill="#b89478"/>
<rect x="306.0" y="304" width="214.5" height="6" fill="#b89478"/>
<path d="M295.2,221.0 C295.3,221.8 296.1,224.2 296.1,225.8 C296.1,227.3 295.2,228.9 295.2,230.5 C295.2,232.1 296.1,233.7 296.1,235.2 C296.1,236.8 295.2,238.4 295.2,240.0 C295.2,241.6 296.1,243.2 296.1,244.8 C296.1,246.3 295.2,247.9 295.2,249.5 C295.2,251.1 296.1,252.7 296.1,254.2 C296.1,255.8 295.1,257.9 295.2,259.0 C295.3,260.1 296.3,260.3 296.8,260.7 C297.3,261.1 297.9,261.5 298.4,261.5 C298.9,261.5 299.5,261.1 300.0,260.7 C300.5,260.3 301.5,260.1 301.6,259.0 C301.7,257.9 300.7,255.8 300.7,254.2 C300.7,252.7 301.6,251.1 301.6,249.5 C301.6,247.9 300.7,246.3 300.7,244.8 C300.7,243.2 301.6,241.6 301.6,240.0 C301.6,238.4 300.7,236.8 300.7,235.2 C300.7,233.7 301.6,232.1 301.6,230.5 C301.6,228.9 300.7,227.3 300.7,225.8 C300.7,224.2 301.4,221.8 301.6,221.0" fill="#f3cf9f" stroke="#744824" stroke-width="1.2"/>
<path d="M304.8,221.0 C304.9,221.8 305.7,224.2 305.7,225.8 C305.7,227.3 304.8,228.9 304.8,230.5 C304.8,232.1 305.7,233.7 305.7,235.2 C305.7,236.8 304.8,238.4 304.8,240.0 C304.8,241.6 305.7,243.2 305.7,244.8 C305.7,246.3 304.8,247.9 304.8,249.5 C304.8,251.1 305.7,252.7 305.7,254.2 C305.7,255.8 304.7,257.9 304.8,259.0 C304.9,260.1 305.9,260.3 306.4,260.7 C306.9,261.1 307.5,261.5 308.0,261.5 C308.5,261.5 309.1,261.1 309.6,260.7 C310.1,260.3 311.1,260.1 311.2,259.0 C311.3,257.9 310.3,255.8 310.3,254.2 C310.3,252.7 311.2,251.1 311.2,249.5 C311.2,247.9 310.3,246.3 310.3,244.8 C310.3,243.2 311.2,241.6 311.2,240.0 C311.2,238.4 310.3,236.8 310.3,235.2 C310.3,233.7 311.2,232.1 311.2,230.5 C311.2,228.9 310.3,227.3 310.3,225.8 C310.3,224.2 311.0,221.8 311.2,221.0" fill="#f3cf9f" stroke="#744824" stroke-width="1.2"/>
<path d="M314.4,221.0 C314.5,221.8 315.3,224.2 315.3,225.8 C315.3,227.3 314.4,228.9 314.4,230.5 C314.4,232.1 315.3,233.7 315.3,235.2 C315.3,236.8 314.4,238.4 314.4,240.0 C314.4,241.6 315.3,243.2 315.3,244.8 C315.3,246.3 314.4,247.9 314.4,249.5 C314.4,251.1 315.3,252.7 315.3,254.2 C315.3,255.8 314.3,257.9 314.4,259.0 C314.5,260.1 315.5,260.3 316.0,260.7 C316.5,261.1 317.1,261.5 317.6,261.5 C318.1,261.5 318.7,261.1 319.2,260.7 C319.7,260.3 320.7,260.1 320.8,259.0 C320.9,257.9 319.9,255.8 319.9,254.2 C319.9,252.7 320.8,251.1 320.8,249.5 C320.8,247.9 319.9,246.3 319.9,244.8 C319.9,243.2 320.8,241.6 320.8,240.0 C320.8,238.4 319.9,236.8 319.9,235.2 C319.9,233.7 320.8,232.1 320.8,230.5 C320.8,228.9 319.9,227.3 319.9,225.8 C319.9,224.2 320.6,221.8 320.8,221.0" fill="#f3cf9f" stroke="#744824" stroke-width="1.2"/>
<path d="M324.0,221.0 C324.1,221.8 324.9,224.2 324.9,225.8 C324.9,227.3 324.0,228.9 324.0,230.5 C324.0,232.1 324.9,233.7 324.9,235.2 C324.9,236.8 324.0,238.4 324.0,240.0 C324.0,241.6 324.9,243.2 324.9,244.8 C324.9,246.3 324.0,247.9 324.0,249.5 C324.0,251.1 324.9,252.7 324.9,254.2 C324.9,255.8 323.9,257.9 324.0,259.0 C324.1,260.1 325.1,260.3 325.6,260.7 C326.1,261.1 326.7,261.5 327.2,261.5 C327.7,261.5 328.3,261.1 328.8,260.7 C329.3,260.3 330.3,260.1 330.4,259.0 C330.5,257.9 329.5,255.8 329.5,254.2 C329.5,252.7 330.4,251.1 330.4,249.5 C330.4,247.9 329.5,246.3 329.5,244.8 C329.5,243.2 330.4,241.6 330.4,240.0 C330.4,238.4 329.5,236.8 329.5,235.2 C329.5,233.7 330.4,232.1 330.4,230.5 C330.4,228.9 329.5,227.3 329.5,225.8 C329.5,224.2 330.2,221.8 330.4,221.0" fill="#f3cf9f" stroke="#744824" stroke-width="1.2"/>
<path d="M333.6,221.0 C333.7,221.8 334.5,224.2 334.5,225.8 C334.5,227.3 333.6,228.9 333.6,230.5 C333.6,232.1 334.5,233.7 334.5,235.2 C334.5,236.8 333.6,238.4 333.6,240.0 C333.6,241.6 334.5,243.2 334.5,244.8 C334.5,246.3 333.6,247.9 333.6,249.5 C333.6,251.1 334.5,252.7 334.5,254.2 C334.5,255.8 333.5,257.9 333.6,259.0 C333.7,260.1 334.7,260.3 335.2,260.7 C335.7,261.1 336.3,261.5 336.8,261.5 C337.3,261.5 337.9,261.1 338.4,260.7 C338.9,260.3 339.9,260.1 340.0,259.0 C340.1,257.9 339.1,255.8 339.1,254.2 C339.1,252.7 340.0,251.1 340.0,249.5 C340.0,247.9 339.1,246.3 339.1,244.8 C339.1,243.2 340.0,241.6 340.0,240.0 C340.0,238.4 339.1,236.8 339.1,235.2 C339.1,233.7 340.0,232.1 340.0,230.5 C340.0,228.9 339.1,227.3 339.1,225.8 C339.1,224.2 339.8,221.8 340.0,221.0" fill="#f3cf9f" stroke="#744824" stroke-width="1.2"/>
<path d="M343.2,221.0 C343.3,221.8 344.1,224.2 344.1,225.8 C344.1,227.3 343.2,228.9 343.2,230.5 C343.2,232.1 344.1,233.7 344.1,235.2 C344.1,236.8 343.2,238.4 343.2,240.0 C343.2,241.6 344.1,243.2 344.1,244.8 C344.1,246.3 343.2,247.9 343.2,249.5 C343.2,251.1 344.1,252.7 344.1,254.2 C344.1,255.8 343.1,257.9 343.2,259.0 C343.3,260.1 344.3,260.3 344.8,260.7 C345.3,261.1 345.9,261.5 346.4,261.5 C346.9,261.5 347.5,261.1 348.0,260.7 C348.5,260.3 349.5,260.1 349.6,259.0 C349.7,257.9 348.7,255.8 348.7,254.2 C348.7,252.7 349.6,251.1 349.6,249.5 C349.6,247.9 348.7,246.3 348.7,244.8 C348.7,243.2 349.6,241.6 349.6,240.0 C349.6,238.4 348.7,236.8 348.7,235.2 C348.7,233.7 349.6,232.1 349.6,230.5 C349.6,228.9 348.7,227.3 348.7,225.8 C348.7,224.2 349.4,221.8 349.6,221.0" fill="#f3cf9f" stroke="#744824" stroke-width="1.2"/>
<path d="M352.8,221.0 C352.9,221.8 353.7,224.2 353.7,225.8 C353.7,227.3 352.8,228.9 352.8,230.5 C352.8,232.1 353.7,233.7 353.7,235.2 C353.7,236.8 352.8,238.4 352.8,240.0 C352.8,241.6 353.7,243.2 353.7,244.8 C353.7,246.3 352.8,247.9 352.8,249.5 C352.8,251.1 353.7,252.7 353.7,254.2 C353.7,255.8 352.7,257.9 352.8,259.0 C352.9,260.1 353.9,260.3 354.4,260.7 C354.9,261.1 355.5,261.5 356.0,261.5 C356.5,261.5 357.1,261.1 357.6,260.7 C358.1,260.3 359.1,260.1 359.2,259.0 C359.3,257.9 358.3,255.8 358.3,254.2 C358.3,252.7 359.2,251.1 359.2,249.5 C359.2,247.9 358.3,246.3 358.3,244.8 C358.3,243.2 359.2,241.6 359.2,240.0 C359.2,238.4 358.3,236.8 358.3,235.2 C358.3,233.7 359.2,232.1 359.2,230.5 C359.2,228.9 358.3,227.3 358.3,225.8 C358.3,224.2 359.0,221.8 359.2,221.0" fill="#f3cf9f" stroke="#744824" stroke-width="1.2"/>
<path d="M362.4,221.0 C362.5,221.8 363.3,224.2 363.3,225.8 C363.3,227.3 362.4,228.9 362.4,230.5 C362.4,232.1 363.3,233.7 363.3,235.2 C363.3,236.8 362.4,238.4 362.4,240.0 C362.4,241.6 363.3,243.2 363.3,244.8 C363.3,246.3 362.4,247.9 362.4,249.5 C362.4,251.1 363.3,252.7 363.3,254.2 C363.3,255.8 362.3,257.9 362.4,259.0 C362.5,260.1 363.5,260.3 364.0,260.7 C364.5,261.1 365.1,261.5 365.6,261.5 C366.1,261.5 366.7,261.1 367.2,260.7 C367.7,260.3 368.7,260.1 368.8,259.0 C368.9,257.9 367.9,255.8 367.9,254.2 C367.9,252.7 368.8,251.1 368.8,249.5 C368.8,247.9 367.9,246.3 367.9,244.8 C367.9,243.2 368.8,241.6 368.8,240.0 C368.8,238.4 367.9,236.8 367.9,235.2 C367.9,233.7 368.8,232.1 368.8,230.5 C368.8,228.9 367.9,227.3 367.9,225.8 C367.9,224.2 368.6,221.8 368.8,221.0" fill="#f3cf9f" stroke="#744824" stroke-width="1.2"/>
<path d="M372.0,221.0 C372.1,221.8 372.9,224.2 372.9,225.8 C372.9,227.3 372.0,228.9 372.0,230.5 C372.0,232.1 372.9,233.7 372.9,235.2 C372.9,236.8 372.0,238.4 372.0,240.0 C372.0,241.6 372.9,243.2 372.9,244.8 C372.9,246.3 372.0,247.9 372.0,249.5 C372.0,251.1 372.9,252.7 372.9,254.2 C372.9,255.8 371.9,257.9 372.0,259.0 C372.1,260.1 373.1,260.3 373.6,260.7 C374.1,261.1 374.7,261.5 375.2,261.5 C375.7,261.5 376.3,261.1 376.8,260.7 C377.3,260.3 378.3,260.1 378.4,259.0 C378.5,257.9 377.5,255.8 377.5,254.2 C377.5,252.7 378.4,251.1 378.4,249.5 C378.4,247.9 377.5,246.3 377.5,244.8 C377.5,243.2 378.4,241.6 378.4,240.0 C378.4,238.4 377.5,236.8 377.5,235.2 C377.5,233.7 378.4,232.1 378.4,230.5 C378.4,228.9 377.5,227.3 377.5,225.8 C377.5,224.2 378.2,221.8 378.4,221.0" fill="#f3cf9f" stroke="#744824" stroke-width="1.2"/>
<path d="M381.6,221.0 C381.7,221.8 382.5,224.2 382.5,225.8 C382.5,227.3 381.6,228.9 381.6,230.5 C381.6,232.1 382.5,233.7 382.5,235.2 C382.5,236.8 381.6,238.4 381.6,240.0 C381.6,241.6 382.5,243.2 382.5,244.8 C382.5,246.3 381.6,247.9 381.6,249.5 C381.6,251.1 382.5,252.7 382.5,254.2 C382.5,255.8 381.5,257.9 381.6,259.0 C381.7,260.1 382.7,260.3 383.2,260.7 C383.7,261.1 384.3,261.5 384.8,261.5 C385.3,261.5 385.9,261.1 386.4,260.7 C386.9,260.3 387.9,260.1 388.0,259.0 C388.1,257.9 387.1,255.8 387.1,254.2 C387.1,252.7 388.0,251.1 388.0,249.5 C388.0,247.9 387.1,246.3 387.1,244.8 C387.1,243.2 388.0,241.6 388.0,240.0 C388.0,238.4 387.1,236.8 387.1,235.2 C387.1,233.7 388.0,232.1 388.0,230.5 C388.0,228.9 387.1,227.3 387.1,225.8 C387.1,224.2 387.8,221.8 388.0,221.0" fill="#f3cf9f" stroke="#744824" stroke-width="1.2"/>
<path d="M391.2,221.0 C391.3,221.8 392.1,224.2 392.1,225.8 C392.1,227.3 391.2,228.9 391.2,230.5 C391.2,232.1 392.1,233.7 392.1,235.2 C392.1,236.8 391.2,238.4 391.2,240.0 C391.2,241.6 392.1,243.2 392.1,244.8 C392.1,246.3 391.2,247.9 391.2,249.5 C391.2,251.1 392.1,252.7 392.1,254.2 C392.1,255.8 391.1,257.9 391.2,259.0 C391.3,260.1 392.3,260.3 392.8,260.7 C393.3,261.1 393.9,261.5 394.4,261.5 C394.9,261.5 395.5,261.1 396.0,260.7 C396.5,260.3 397.5,260.1 397.6,259.0 C397.7,257.9 396.7,255.8 396.7,254.2 C396.7,252.7 397.6,251.1 397.6,249.5 C397.6,247.9 396.7,246.3 396.7,244.8 C396.7,243.2 397.6,241.6 397.6,240.0 C397.6,238.4 396.7,236.8 396.7,235.2 C396.7,233.7 397.6,232.1 397.6,230.5 C397.6,228.9 396.7,227.3 396.7,225.8 C396.7,224.2 397.4,221.8 397.6,221.0" fill="#f3cf9f" stroke="#744824" stroke-width="1.2"/>
<path d="M400.8,221.0 C400.9,221.8 401.7,224.2 401.7,225.8 C401.7,227.3 400.8,228.9 400.8,230.5 C400.8,232.1 401.7,233.7 401.7,235.2 C401.7,236.8 400.8,238.4 400.8,240.0 C400.8,241.6 401.7,243.2 401.7,244.8 C401.7,246.3 400.8,247.9 400.8,249.5 C400.8,251.1 401.7,252.7 401.7,254.2 C401.7,255.8 400.7,257.9 400.8,259.0 C400.9,260.1 401.9,260.3 402.4,260.7 C402.9,261.1 403.5,261.5 404.0,261.5 C404.5,261.5 405.1,261.1 405.6,260.7 C406.1,260.3 407.1,260.1 407.2,259.0 C407.3,257.9 406.3,255.8 406.3,254.2 C406.3,252.7 407.2,251.1 407.2,249.5 C407.2,247.9 406.3,246.3 406.3,244.8 C406.3,243.2 407.2,241.6 407.2,240.0 C407.2,238.4 406.3,236.8 406.3,235.2 C406.3,233.7 407.2,232.1 407.2,230.5 C407.2,228.9 406.3,227.3 406.3,225.8 C406.3,224.2 407.0,221.8 407.2,221.0" fill="#f3cf9f" stroke="#744824" stroke-width="1.2"/>
<path d="M410.4,221.0 C410.5,221.8 411.3,224.2 411.3,225.8 C411.3,227.3 410.4,228.9 410.4,230.5 C410.4,232.1 411.3,233.7 411.3,235.2 C411.3,236.8 410.4,238.4 410.4,240.0 C410.4,241.6 411.3,243.2 411.3,244.8 C411.3,246.3 410.4,247.9 410.4,249.5 C410.4,251.1 411.3,252.7 411.3,254.2 C411.3,255.8 410.3,257.9 410.4,259.0 C410.5,260.1 411.5,260.3 412.0,260.7 C412.5,261.1 413.1,261.5 413.6,261.5 C414.1,261.5 414.7,261.1 415.2,260.7 C415.7,260.3 416.7,260.1 416.8,259.0 C416.9,257.9 415.9,255.8 415.9,254.2 C415.9,252.7 416.8,251.1 416.8,249.5 C416.8,247.9 415.9,246.3 415.9,244.8 C415.9,243.2 416.8,241.6 416.8,240.0 C416.8,238.4 415.9,236.8 415.9,235.2 C415.9,233.7 416.8,232.1 416.8,230.5 C416.8,228.9 415.9,227.3 415.9,225.8 C415.9,224.2 416.6,221.8 416.8,221.0" fill="#f3cf9f" stroke="#744824" stroke-width="1.2"/>
<path d="M420.0,221.0 C420.1,221.8 420.9,224.2 420.9,225.8 C420.9,227.3 420.0,228.9 420.0,230.5 C420.0,232.1 420.9,233.7 420.9,235.2 C420.9,236.8 420.0,238.4 420.0,240.0 C420.0,241.6 420.9,243.2 420.9,244.8 C420.9,246.3 420.0,247.9 420.0,249.5 C420.0,251.1 420.9,252.7 420.9,254.2 C420.9,255.8 419.9,257.9 420.0,259.0 C420.1,260.1 421.1,260.3 421.6,260.7 C422.1,261.1 422.7,261.5 423.2,261.5 C423.7,261.5 424.3,261.1 424.8,260.7 C425.3,260.3 426.3,260.1 426.4,259.0 C426.5,257.9 425.5,255.8 425.5,254.2 C425.5,252.7 426.4,251.1 426.4,249.5 C426.4,247.9 425.5,246.3 425.5,244.8 C425.5,243.2 426.4,241.6 426.4,240.0 C426.4,238.4 425.5,236.8 425.5,235.2 C425.5,233.7 426.4,232.1 426.4,230.5 C426.4,228.9 425.5,227.3 425.5,225.8 C425.5,224.2 426.2,221.8 426.4,221.0" fill="#f3cf9f" stroke="#744824" stroke-width="1.2"/>
<path d="M429.6,221.0 C429.7,221.8 430.5,224.2 430.5,225.8 C430.5,227.3 429.6,228.9 429.6,230.5 C429.6,232.1 430.5,233.7 430.5,235.2 C430.5,236.8 429.6,238.4 429.6,240.0 C429.6,241.6 430.5,243.2 430.5,244.8 C430.5,246.3 429.6,247.9 429.6,249.5 C429.6,251.1 430.5,252.7 430.5,254.2 C430.5,255.8 429.5,257.9 429.6,259.0 C429.7,260.1 430.7,260.3 431.2,260.7 C431.7,261.1 432.3,261.5 432.8,261.5 C433.3,261.5 433.9,261.1 434.4,260.7 C434.9,260.3 435.9,260.1 436.0,259.0 C436.1,257.9 435.1,255.8 435.1,254.2 C435.1,252.7 436.0,251.1 436.0,249.5 C436.0,247.9 435.1,246.3 435.1,244.8 C435.1,243.2 436.0,241.6 436.0,240.0 C436.0,238.4 435.1,236.8 435.1,235.2 C435.1,233.7 436.0,232.1 436.0,230.5 C436.0,228.9 435.1,227.3 435.1,225.8 C435.1,224.2 435.8,221.8 436.0,221.0" fill="#f3cf9f" stroke="#744824" stroke-width="1.2"/>
<path d="M439.2,221.0 C439.3,221.8 440.1,224.2 440.1,225.8 C440.1,227.3 439.2,228.9 439.2,230.5 C439.2,232.1 440.1,233.7 440.1,235.2 C440.1,236.8 439.2,238.4 439.2,240.0 C439.2,241.6 440.1,243.2 440.1,244.8 C440.1,246.3 439.2,247.9 439.2,249.5 C439.2,251.1 440.1,252.7 440.1,254.2 C440.1,255.8 439.1,257.9 439.2,259.0 C439.3,260.1 440.3,260.3 440.8,260.7 C441.3,261.1 441.9,261.5 442.4,261.5 C442.9,261.5 443.5,261.1 444.0,260.7 C444.5,260.3 445.5,260.1 445.6,259.0 C445.7,257.9 444.7,255.8 444.7,254.2 C444.7,252.7 445.6,251.1 445.6,249.5 C445.6,247.9 444.7,246.3 444.7,244.8 C444.7,243.2 445.6,241.6 445.6,240.0 C445.6,238.4 444.7,236.8 444.7,235.2 C444.7,233.7 445.6,232.1 445.6,230.5 C445.6,228.9 444.7,227.3 444.7,225.8 C444.7,224.2 445.4,221.8 445.6,221.0" fill="#f3cf9f" stroke="#744824" stroke-width="1.2"/>
<path d="M448.8,221.0 C448.9,221.8 449.7,224.2 449.7,225.8 C449.7,227.3 448.8,228.9 448.8,230.5 C448.8,232.1 449.7,233.7 449.7,235.2 C449.7,236.8 448.8,238.4 448.8,240.0 C448.8,241.6 449.7,243.2 449.7,244.8 C449.7,246.3 448.8,247.9 448.8,249.5 C448.8,251.1 449.7,252.7 449.7,254.2 C449.7,255.8 448.7,257.9 448.8,259.0 C448.9,260.1 449.9,260.3 450.4,260.7 C450.9,261.1 451.5,261.5 452.0,261.5 C452.5,261.5 453.1,261.1 453.6,260.7 C454.1,260.3 455.1,260.1 455.2,259.0 C455.3,257.9 454.3,255.8 454.3,254.2 C454.3,252.7 455.2,251.1 455.2,249.5 C455.2,247.9 454.3,246.3 454.3,244.8 C454.3,243.2 455.2,241.6 455.2,240.0 C455.2,238.4 454.3,236.8 454.3,235.2 C454.3,233.7 455.2,232.1 455.2,230.5 C455.2,228.9 454.3,227.3 454.3,225.8 C454.3,224.2 455.0,221.8 455.2,221.0" fill="#f3cf9f" stroke="#744824" stroke-width="1.2"/>
<path d="M458.4,221.0 C458.5,221.8 459.3,224.2 459.3,225.8 C459.3,227.3 458.4,228.9 458.4,230.5 C458.4,232.1 459.3,233.7 459.3,235.2 C459.3,236.8 458.4,238.4 458.4,240.0 C458.4,241.6 459.3,243.2 459.3,244.8 C459.3,246.3 458.4,247.9 458.4,249.5 C458.4,251.1 459.3,252.7 459.3,254.2 C459.3,255.8 458.3,257.9 458.4,259.0 C458.5,260.1 459.5,260.3 460.0,260.7 C460.5,261.1 461.1,261.5 461.6,261.5 C462.1,261.5 462.7,261.1 463.2,260.7 C463.7,260.3 464.7,260.1 464.8,259.0 C464.9,257.9 463.9,255.8 463.9,254.2 C463.9,252.7 464.8,251.1 464.8,249.5 C464.8,247.9 463.9,246.3 463.9,244.8 C463.9,243.2 464.8,241.6 464.8,240.0 C464.8,238.4 463.9,236.8 463.9,235.2 C463.9,233.7 464.8,232.1 464.8,230.5 C464.8,228.9 463.9,227.3 463.9,225.8 C463.9,224.2 464.6,221.8 464.8,221.0" fill="#f3cf9f" stroke="#744824" stroke-width="1.2"/>
<path d="M468.0,221.0 C468.1,221.8 468.9,224.2 468.9,225.8 C468.9,227.3 468.0,228.9 468.0,230.5 C468.0,232.1 468.9,233.7 468.9,235.2 C468.9,236.8 468.0,238.4 468.0,240.0 C468.0,241.6 468.9,243.2 468.9,244.8 C468.9,246.3 468.0,247.9 468.0,249.5 C468.0,251.1 468.9,252.7 468.9,254.2 C468.9,255.8 467.9,257.9 468.0,259.0 C468.1,260.1 469.1,260.3 469.6,260.7 C470.1,261.1 470.7,261.5 471.2,261.5 C471.7,261.5 472.3,261.1 472.8,260.7 C473.3,260.3 474.3,260.1 474.4,259.0 C474.5,257.9 473.5,255.8 473.5,254.2 C473.5,252.7 474.4,251.1 474.4,249.5 C474.4,247.9 473.5,246.3 473.5,244.8 C473.5,243.2 474.4,241.6 474.4,240.0 C474.4,238.4 473.5,236.8 473.5,235.2 C473.5,233.7 474.4,232.1 474.4,230.5 C474.4,228.9 473.5,227.3 473.5,225.8 C473.5,224.2 474.2,221.8 474.4,221.0" fill="#f3cf9f" stroke="#744824" stroke-width="1.2"/>
<path d="M477.6,221.0 C477.7,221.8 478.5,224.2 478.5,225.8 C478.5,227.3 477.6,228.9 477.6,230.5 C477.6,232.1 478.5,233.7 478.5,235.2 C478.5,236.8 477.6,238.4 477.6,240.0 C477.6,241.6 478.5,243.2 478.5,244.8 C478.5,246.3 477.6,247.9 477.6,249.5 C477.6,251.1 478.5,252.7 478.5,254.2 C478.5,255.8 477.5,257.9 477.6,259.0 C477.7,260.1 478.7,260.3 479.2,260.7 C479.7,261.1 480.3,261.5 480.8,261.5 C481.3,261.5 481.9,261.1 482.4,260.7 C482.9,260.3 483.9,260.1 484.0,259.0 C484.1,257.9 483.1,255.8 483.1,254.2 C483.1,252.7 484.0,251.1 484.0,249.5 C484.0,247.9 483.1,246.3 483.1,244.8 C483.1,243.2 484.0,241.6 484.0,240.0 C484.0,238.4 483.1,236.8 483.1,235.2 C483.1,233.7 484.0,232.1 484.0,230.5 C484.0,228.9 483.1,227.3 483.1,225.8 C483.1,224.2 483.8,221.8 484.0,221.0" fill="#f3cf9f" stroke="#744824" stroke-width="1.2"/>
<path d="M487.2,221.0 C487.3,221.8 488.1,224.2 488.1,225.8 C488.1,227.3 487.2,228.9 487.2,230.5 C487.2,232.1 488.1,233.7 488.1,235.2 C488.1,236.8 487.2,238.4 487.2,240.0 C487.2,241.6 488.1,243.2 488.1,244.8 C488.1,246.3 487.2,247.9 487.2,249.5 C487.2,251.1 488.1,252.7 488.1,254.2 C488.1,255.8 487.1,257.9 487.2,259.0 C487.3,260.1 488.3,260.3 488.8,260.7 C489.3,261.1 489.9,261.5 490.4,261.5 C490.9,261.5 491.5,261.1 492.0,260.7 C492.5,260.3 493.5,260.1 493.6,259.0 C493.7,257.9 492.7,255.8 492.7,254.2 C492.7,252.7 493.6,251.1 493.6,249.5 C493.6,247.9 492.7,246.3 492.7,244.8 C492.7,243.2 493.6,241.6 493.6,240.0 C493.6,238.4 492.7,236.8 492.7,235.2 C492.7,233.7 493.6,232.1 493.6,230.5 C493.6,228.9 492.7,227.3 492.7,225.8 C492.7,224.2 493.4,221.8 493.6,221.0" fill="#f3cf9f" stroke="#744824" stroke-width="1.2"/>
<path d="M496.8,221.0 C496.9,221.8 497.7,224.2 497.7,225.8 C497.7,227.3 496.8,228.9 496.8,230.5 C496.8,232.1 497.7,233.7 497.7,235.2 C497.7,236.8 496.8,238.4 496.8,240.0 C496.8,241.6 497.7,243.2 497.7,244.8 C497.7,246.3 496.8,247.9 496.8,249.5 C496.8,251.1 497.7,252.7 497.7,254.2 C497.7,255.8 496.7,257.9 496.8,259.0 C496.9,260.1 497.9,260.3 498.4,260.7 C498.9,261.1 499.5,261.5 500.0,261.5 C500.5,261.5 501.1,261.1 501.6,260.7 C502.1,260.3 503.1,260.1 503.2,259.0 C503.3,257.9 502.3,255.8 502.3,254.2 C502.3,252.7 503.2,251.1 503.2,249.5 C503.2,247.9 502.3,246.3 502.3,244.8 C502.3,243.2 503.2,241.6 503.2,240.0 C503.2,238.4 502.3,236.8 502.3,235.2 C502.3,233.7 503.2,232.1 503.2,230.5 C503.2,228.9 502.3,227.3 502.3,225.8 C502.3,224.2 503.0,221.8 503.2,221.0" fill="#f3cf9f" stroke="#744824" stroke-width="1.2"/>
<path d="M506.4,221.0 C506.5,221.8 507.3,224.2 507.3,225.8 C507.3,227.3 506.4,228.9 506.4,230.5 C506.4,232.1 507.3,233.7 507.3,235.2 C507.3,236.8 506.4,238.4 506.4,240.0 C506.4,241.6 507.3,243.2 507.3,244.8 C507.3,246.3 506.4,247.9 506.4,249.5 C506.4,251.1 507.3,252.7 507.3,254.2 C507.3,255.8 506.3,257.9 506.4,259.0 C506.5,260.1 507.5,260.3 508.0,260.7 C508.5,261.1 509.1,261.5 509.6,261.5 C510.1,261.5 510.7,261.1 511.2,260.7 C511.7,260.3 512.7,260.1 512.8,259.0 C512.9,257.9 511.9,255.8 511.9,254.2 C511.9,252.7 512.8,251.1 512.8,249.5 C512.8,247.9 511.9,246.3 511.9,244.8 C511.9,243.2 512.8,241.6 512.8,240.0 C512.8,238.4 511.9,236.8 511.9,235.2 C511.9,233.7 512.8,232.1 512.8,230.5 C512.8,228.9 511.9,227.3 511.9,225.8 C511.9,224.2 512.6,221.8 512.8,221.0" fill="#f3cf9f" stroke="#744824" stroke-width="1.2"/>
<path d="M516.0,221.0 C516.1,221.8 516.9,224.2 516.9,225.8 C516.9,227.3 516.0,228.9 516.0,230.5 C516.0,232.1 516.9,233.7 516.9,235.2 C516.9,236.8 516.0,238.4 516.0,240.0 C516.0,241.6 516.9,243.2 516.9,244.8 C516.9,246.3 516.0,247.9 516.0,249.5 C516.0,251.1 516.9,252.7 516.9,254.2 C516.9,255.8 515.9,257.9 516.0,259.0 C516.1,260.1 517.1,260.3 517.6,260.7 C518.1,261.1 518.7,261.5 519.2,261.5 C519.7,261.5 520.3,261.1 520.8,260.7 C521.3,260.3 522.3,260.1 522.4,259.0 C522.5,257.9 521.5,255.8 521.5,254.2 C521.5,252.7 522.4,251.1 522.4,249.5 C522.4,247.9 521.5,246.3 521.5,244.8 C521.5,243.2 522.4,241.6 522.4,240.0 C522.4,238.4 521.5,236.8 521.5,235.2 C521.5,233.7 522.4,232.1 522.4,230.5 C522.4,228.9 521.5,227.3 521.5,225.8 C521.5,224.2 522.2,221.8 522.4,221.0" fill="#f3cf9f" stroke="#744824" stroke-width="1.2"/>
<path d="M525.6,221.0 C525.7,221.8 526.5,224.2 526.5,225.8 C526.5,227.3 525.6,228.9 525.6,230.5 C525.6,232.1 526.5,233.7 526.5,235.2 C526.5,236.8 525.6,238.4 525.6,240.0 C525.6,241.6 526.5,243.2 526.5,244.8 C526.5,246.3 525.6,247.9 525.6,249.5 C525.6,251.1 526.5,252.7 526.5,254.2 C526.5,255.8 525.5,257.9 525.6,259.0 C525.7,260.1 526.7,260.3 527.2,260.7 C527.7,261.1 528.3,261.5 528.8,261.5 C529.3,261.5 529.9,261.1 530.4,260.7 C530.9,260.3 531.9,260.1 532.0,259.0 C532.1,257.9 531.1,255.8 531.1,254.2 C531.1,252.7 532.0,251.1 532.0,249.5 C532.0,247.9 531.1,246.3 531.1,244.8 C531.1,243.2 532.0,241.6 532.0,240.0 C532.0,238.4 531.1,236.8 531.1,235.2 C531.1,233.7 532.0,232.1 532.0,230.5 C532.0,228.9 531.1,227.3 531.1,225.8 C531.1,224.2 531.8,221.8 532.0,221.0" fill="#f3cf9f" stroke="#744824" stroke-width="1.2"/>
<path d="M535.2,221.0 C535.3,221.8 536.1,224.2 536.1,225.8 C536.1,227.3 535.2,228.9 535.2,230.5 C535.2,232.1 536.1,233.7 536.1,235.2 C536.1,236.8 535.2,238.4 535.2,240.0 C535.2,241.6 536.1,243.2 536.1,244.8 C536.1,246.3 535.2,247.9 535.2,249.5 C535.2,251.1 536.1,252.7 536.1,254.2 C536.1,255.8 535.1,257.9 535.2,259.0 C535.3,260.1 536.3,260.3 536.8,260.7 C537.3,261.1 537.9,261.5 538.4,261.5 C538.9,261.5 539.5,261.1 540.0,260.7 C540.5,260.3 541.5,260.1 541.6,259.0 C541.7,257.9 540.7,255.8 540.7,254.2 C540.7,252.7 541.6,251.1 541.6,249.5 C541.6,247.9 540.7,246.3 540.7,244.8 C540.7,243.2 541.6,241.6 541.6,240.0 C541.6,238.4 540.7,236.8 540.7,235.2 C540.7,233.7 541.6,232.1 541.6,230.5 C541.6,228.9 540.7,227.3 540.7,225.8 C540.7,224.2 541.4,221.8 541.6,221.0" fill="#f3cf9f" stroke="#744824" stroke-width="1.2"/>
<path d="M281.3,305.0 C281.4,304.2 282.2,301.8 282.2,300.2 C282.2,298.7 281.3,297.1 281.3,295.5 C281.3,293.9 282.2,292.3 282.2,290.8 C282.2,289.2 281.3,287.6 281.3,286.0 C281.3,284.4 282.2,282.8 282.2,281.2 C282.2,279.7 281.3,278.1 281.3,276.5 C281.3,274.9 282.2,273.3 282.2,271.8 C282.2,270.2 281.2,268.1 281.3,267.0 C281.4,265.9 282.4,265.7 282.9,265.3 C283.4,264.9 284.0,264.5 284.5,264.5 C285.0,264.5 285.6,264.9 286.1,265.3 C286.6,265.7 287.6,265.9 287.7,267.0 C287.8,268.1 286.8,270.2 286.8,271.8 C286.8,273.3 287.7,274.9 287.7,276.5 C287.7,278.1 286.8,279.7 286.8,281.2 C286.8,282.8 287.7,284.4 287.7,286.0 C287.7,287.6 286.8,289.2 286.8,290.8 C286.8,292.3 287.7,293.9 287.7,295.5 C287.7,297.1 286.8,298.7 286.8,300.2 C286.8,301.8 287.5,304.2 287.7,305.0" fill="#f3cf9f" stroke="#744824" stroke-width="1.2"/>
<path d="M290.9,305.0 C291.0,304.2 291.8,301.8 291.8,300.2 C291.8,298.7 290.9,297.1 290.9,295.5 C290.9,293.9 291.8,292.3 291.8,290.8 C291.8,289.2 290.9,287.6 290.9,286.0 C290.9,284.4 291.8,282.8 291.8,281.2 C291.8,279.7 290.9,278.1 290.9,276.5 C290.9,274.9 291.8,273.3 291.8,271.8 C291.8,270.2 290.8,268.1 290.9,267.0 C291.0,265.9 292.0,265.7 292.5,265.3 C293.0,264.9 293.6,264.5 294.1,264.5 C294.6,264.5 295.2,264.9 295.7,265.3 C296.2,265.7 297.2,265.9 297.3,267.0 C297.4,268.1 296.4,270.2 296.4,271.8 C296.4,273.3 297.3,274.9 297.3,276.5 C297.3,278.1 296.4,279.7 296.4,281.2 C296.4,282.8 297.3,284.4 297.3,286.0 C297.3,287.6 296.4,289.2 296.4,290.8 C296.4,292.3 297.3,293.9 297.3,295.5 C297.3,297.1 296.4,298.7 296.4,300.2 C296.4,301.8 297.1,304.2 297.3,305.0" fill="#f3cf9f" stroke="#744824" stroke-width="1.2"/>
<path d="M300.5,305.0 C300.6,304.2 301.4,301.8 301.4,300.2 C301.4,298.7 300.5,297.1 300.5,295.5 C300.5,293.9 301.4,292.3 301.4,290.8 C301.4,289.2 300.5,287.6 300.5,286.0 C300.5,284.4 301.4,282.8 301.4,281.2 C301.4,279.7 300.5,278.1 300.5,276.5 C300.5,274.9 301.4,273.3 301.4,271.8 C301.4,270.2 300.4,268.1 300.5,267.0 C300.6,265.9 301.6,265.7 302.1,265.3 C302.6,264.9 303.2,264.5 303.7,264.5 C304.2,264.5 304.8,264.9 305.3,265.3 C305.8,265.7 306.8,265.9 306.9,267.0 C307.0,268.1 306.0,270.2 306.0,271.8 C306.0,273.3 306.9,274.9 306.9,276.5 C306.9,278.1 306.0,279.7 306.0,281.2 C306.0,282.8 306.9,284.4 306.9,286.0 C306.9,287.6 306.0,289.2 306.0,290.8 C306.0,292.3 306.9,293.9 306.9,295.5 C306.9,297.1 306.0,298.7 306.0,300.2 C306.0,301.8 306.7,304.2 306.9,305.0" fill="#f3cf9f" stroke="#744824" stroke-width="1.2"/>
<path d="M310.1,305.0 C310.2,304.2 311.0,301.8 311.0,300.2 C311.0,298.7 310.1,297.1 310.1,295.5 C310.1,293.9 311.0,292.3 311.0,290.8 C311.0,289.2 310.1,287.6 310.1,286.0 C310.1,284.4 311.0,282.8 311.0,281.2 C311.0,279.7 310.1,278.1 310.1,276.5 C310.1,274.9 311.0,273.3 311.0,271.8 C311.0,270.2 310.0,268.1 310.1,267.0 C310.2,265.9 311.2,265.7 311.7,265.3 C312.2,264.9 312.8,264.5 313.3,264.5 C313.8,264.5 314.4,264.9 314.9,265.3 C315.4,265.7 316.4,265.9 316.5,267.0 C316.6,268.1 315.6,270.2 315.6,271.8 C315.6,273.3 316.5,274.9 316.5,276.5 C316.5,278.1 315.6,279.7 315.6,281.2 C315.6,282.8 316.5,284.4 316.5,286.0 C316.5,287.6 315.6,289.2 315.6,290.8 C315.6,292.3 316.5,293.9 316.5,295.5 C316.5,297.1 315.6,298.7 315.6,300.2 C315.6,301.8 316.3,304.2 316.5,305.0" fill="#f3cf9f" stroke="#744824" stroke-width="1.2"/>
<path d="M319.7,305.0 C319.8,304.2 320.6,301.8 320.6,300.2 C320.6,298.7 319.7,297.1 319.7,295.5 C319.7,293.9 320.6,292.3 320.6,290.8 C320.6,289.2 319.7,287.6 319.7,286.0 C319.7,284.4 320.6,282.8 320.6,281.2 C320.6,279.7 319.7,278.1 319.7,276.5 C319.7,274.9 320.6,273.3 320.6,271.8 C320.6,270.2 319.6,268.1 319.7,267.0 C319.8,265.9 320.8,265.7 321.3,265.3 C321.8,264.9 322.4,264.5 322.9,264.5 C323.4,264.5 324.0,264.9 324.5,265.3 C325.0,265.7 326.0,265.9 326.1,267.0 C326.2,268.1 325.2,270.2 325.2,271.8 C325.2,273.3 326.1,274.9 326.1,276.5 C326.1,278.1 325.2,279.7 325.2,281.2 C325.2,282.8 326.1,284.4 326.1,286.0 C326.1,287.6 325.2,289.2 325.2,290.8 C325.2,292.3 326.1,293.9 326.1,295.5 C326.1,297.1 325.2,298.7 325.2,300.2 C325.2,301.8 325.9,304.2 326.1,305.0" fill="#f3cf9f" stroke="#744824" stroke-width="1.2"/>
<path d="M329.3,305.0 C329.4,304.2 330.2,301.8 330.2,300.2 C330.2,298.7 329.3,297.1 329.3,295.5 C329.3,293.9 330.2,292.3 330.2,290.8 C330.2,289.2 329.3,287.6 329.3,286.0 C329.3,284.4 330.2,282.8 330.2,281.2 C330.2,279.7 329.3,278.1 329.3,276.5 C329.3,274.9 330.2,273.3 330.2,271.8 C330.2,270.2 329.2,268.1 329.3,267.0 C329.4,265.9 330.4,265.7 330.9,265.3 C331.4,264.9 332.0,264.5 332.5,264.5 C333.0,264.5 333.6,264.9 334.1,265.3 C334.6,265.7 335.6,265.9 335.7,267.0 C335.8,268.1 334.8,270.2 334.8,271.8 C334.8,273.3 335.7,274.9 335.7,276.5 C335.7,278.1 334.8,279.7 334.8,281.2 C334.8,282.8 335.7,284.4 335.7,286.0 C335.7,287.6 334.8,289.2 334.8,290.8 C334.8,292.3 335.7,293.9 335.7,295.5 C335.7,297.1 334.8,298.7 334.8,300.2 C334.8,301.8 335.5,304.2 335.7,305.0" fill="#f3cf9f" stroke="#744824" stroke-width="1.2"/>
<path d="M338.9,305.0 C339.0,304.2 339.8,301.8 339.8,300.2 C339.8,298.7 338.9,297.1 338.9,295.5 C338.9,293.9 339.8,292.3 339.8,290.8 C339.8,289.2 338.9,287.6 338.9,286.0 C338.9,284.4 339.8,282.8 339.8,281.2 C339.8,279.7 338.9,278.1 338.9,276.5 C338.9,274.9 339.8,273.3 339.8,271.8 C339.8,270.2 338.8,268.1 338.9,267.0 C339.0,265.9 340.0,265.7 340.5,265.3 C341.0,264.9 341.6,264.5 342.1,264.5 C342.6,264.5 343.2,264.9 343.7,265.3 C344.2,265.7 345.2,265.9 345.3,267.0 C345.4,268.1 344.4,270.2 344.4,271.8 C344.4,273.3 345.3,274.9 345.3,276.5 C345.3,278.1 344.4,279.7 344.4,281.2 C344.4,282.8 345.3,284.4 345.3,286.0 C345.3,287.6 344.4,289.2 344.4,290.8 C344.4,292.3 345.3,293.9 345.3,295.5 C345.3,297.1 344.4,298.7 344.4,300.2 C344.4,301.8 345.1,304.2 345.3,305.0" fill="#f3cf9f" stroke="#744824" stroke-width="1.2"/>
<path d="M348.5,305.0 C348.6,304.2 349.4,301.8 349.4,300.2 C349.4,298.7 348.5,297.1 348.5,295.5 C348.5,293.9 349.4,292.3 349.4,290.8 C349.4,289.2 348.5,287.6 348.5,286.0 C348.5,284.4 349.4,282.8 349.4,281.2 C349.4,279.7 348.5,278.1 348.5,276.5 C348.5,274.9 349.4,273.3 349.4,271.8 C349.4,270.2 348.4,268.1 348.5,267.0 C348.6,265.9 349.6,265.7 350.1,265.3 C350.6,264.9 351.2,264.5 351.7,264.5 C352.2,264.5 352.8,264.9 353.3,265.3 C353.8,265.7 354.8,265.9 354.9,267.0 C355.0,268.1 354.0,270.2 354.0,271.8 C354.0,273.3 354.9,274.9 354.9,276.5 C354.9,278.1 354.0,279.7 354.0,281.2 C354.0,282.8 354.9,284.4 354.9,286.0 C354.9,287.6 354.0,289.2 354.0,290.8 C354.0,292.3 354.9,293.9 354.9,295.5 C354.9,297.1 354.0,298.7 354.0,300.2 C354.0,301.8 354.7,304.2 354.9,305.0" fill="#f3cf9f" stroke="#744824" stroke-width="1.2"/>
<path d="M358.1,305.0 C358.2,304.2 359.0,301.8 359.0,300.2 C359.0,298.7 358.1,297.1 358.1,295.5 C358.1,293.9 359.0,292.3 359.0,290.8 C359.0,289.2 358.1,287.6 358.1,286.0 C358.1,284.4 359.0,282.8 359.0,281.2 C359.0,279.7 358.1,278.1 358.1,276.5 C358.1,274.9 359.0,273.3 359.0,271.8 C359.0,270.2 358.0,268.1 358.1,267.0 C358.2,265.9 359.2,265.7 359.7,265.3 C360.2,264.9 360.8,264.5 361.3,264.5 C361.8,264.5 362.4,264.9 362.9,265.3 C363.4,265.7 364.4,265.9 364.5,267.0 C364.6,268.1 363.6,270.2 363.6,271.8 C363.6,273.3 364.5,274.9 364.5,276.5 C364.5,278.1 363.6,279.7 363.6,281.2 C363.6,282.8 364.5,284.4 364.5,286.0 C364.5,287.6 363.6,289.2 363.6,290.8 C363.6,292.3 364.5,293.9 364.5,295.5 C364.5,297.1 363.6,298.7 363.6,300.2 C363.6,301.8 364.3,304.2 364.5,305.0" fill="#f3cf9f" stroke="#744824" stroke-width="1.2"/>
<path d="M367.7,305.0 C367.8,304.2 368.6,301.8 368.6,300.2 C368.6,298.7 367.7,297.1 367.7,295.5 C367.7,293.9 368.6,292.3 368.6,290.8 C368.6,289.2 367.7,287.6 367.7,286.0 C367.7,284.4 368.6,282.8 368.6,281.2 C368.6,279.7 367.7,278.1 367.7,276.5 C367.7,274.9 368.6,273.3 368.6,271.8 C368.6,270.2 367.6,268.1 367.7,267.0 C367.8,265.9 368.8,265.7 369.3,265.3 C369.8,264.9 370.4,264.5 370.9,264.5 C371.4,264.5 372.0,264.9 372.5,265.3 C373.0,265.7 374.0,265.9 374.1,267.0 C374.2,268.1 373.2,270.2 373.2,271.8 C373.2,273.3 374.1,274.9 374.1,276.5 C374.1,278.1 373.2,279.7 373.2,281.2 C373.2,282.8 374.1,284.4 374.1,286.0 C374.1,287.6 373.2,289.2 373.2,290.8 C373.2,292.3 374.1,293.9 374.1,295.5 C374.1,297.1 373.2,298.7 373.2,300.2 C373.2,301.8 373.9,304.2 374.1,305.0" fill="#f3cf9f" stroke="#744824" stroke-width="1.2"/>
<path d="M377.3,305.0 C377.4,304.2 378.2,301.8 378.2,300.2 C378.2,298.7 377.3,297.1 377.3,295.5 C377.3,293.9 378.2,292.3 378.2,290.8 C378.2,289.2 377.3,287.6 377.3,286.0 C377.3,284.4 378.2,282.8 378.2,281.2 C378.2,279.7 377.3,278.1 377.3,276.5 C377.3,274.9 378.2,273.3 378.2,271.8 C378.2,270.2 377.2,268.1 377.3,267.0 C377.4,265.9 378.4,265.7 378.9,265.3 C379.4,264.9 380.0,264.5 380.5,264.5 C381.0,264.5 381.6,264.9 382.1,265.3 C382.6,265.7 383.6,265.9 383.7,267.0 C383.8,268.1 382.8,270.2 382.8,271.8 C382.8,273.3 383.7,274.9 383.7,276.5 C383.7,278.1 382.8,279.7 382.8,281.2 C382.8,282.8 383.7,284.4 383.7,286.0 C383.7,287.6 382.8,289.2 382.8,290.8 C382.8,292.3 383.7,293.9 383.7,295.5 C383.7,297.1 382.8,298.7 382.8,300.2 C382.8,301.8 383.5,304.2 383.7,305.0" fill="#f3cf9f" stroke="#744824" stroke-width="1.2"/>
<path d="M386.9,305.0 C387.0,304.2 387.8,301.8 387.8,300.2 C387.8,298.7 386.9,297.1 386.9,295.5 C386.9,293.9 387.8,292.3 387.8,290.8 C387.8,289.2 386.9,287.6 386.9,286.0 C386.9,284.4 387.8,282.8 387.8,281.2 C387.8,279.7 386.9,278.1 386.9,276.5 C386.9,274.9 387.8,273.3 387.8,271.8 C387.8,270.2 386.8,268.1 386.9,267.0 C387.0,265.9 388.0,265.7 388.5,265.3 C389.0,264.9 389.6,264.5 390.1,264.5 C390.6,264.5 391.2,264.9 391.7,265.3 C392.2,265.7 393.2,265.9 393.3,267.0 C393.4,268.1 392.4,270.2 392.4,271.8 C392.4,273.3 393.3,274.9 393.3,276.5 C393.3,278.1 392.4,279.7 392.4,281.2 C392.4,282.8 393.3,284.4 393.3,286.0 C393.3,287.6 392.4,289.2 392.4,290.8 C392.4,292.3 393.3,293.9 393.3,295.5 C393.3,297.1 392.4,298.7 392.4,300.2 C392.4,301.8 393.1,304.2 393.3,305.0" fill="#f3cf9f" stroke="#744824" stroke-width="1.2"/>
<path d="M396.5,305.0 C396.6,304.2 397.4,301.8 397.4,300.2 C397.4,298.7 396.5,297.1 396.5,295.5 C396.5,293.9 397.4,292.3 397.4,290.8 C397.4,289.2 396.5,287.6 396.5,286.0 C396.5,284.4 397.4,282.8 397.4,281.2 C397.4,279.7 396.5,278.1 396.5,276.5 C396.5,274.9 397.4,273.3 397.4,271.8 C397.4,270.2 396.4,268.1 396.5,267.0 C396.6,265.9 397.6,265.7 398.1,265.3 C398.6,264.9 399.2,264.5 399.7,264.5 C400.2,264.5 400.8,264.9 401.3,265.3 C401.8,265.7 402.8,265.9 402.9,267.0 C403.0,268.1 402.0,270.2 402.0,271.8 C402.0,273.3 402.9,274.9 402.9,276.5 C402.9,278.1 402.0,279.7 402.0,281.2 C402.0,282.8 402.9,284.4 402.9,286.0 C402.9,287.6 402.0,289.2 402.0,290.8 C402.0,292.3 402.9,293.9 402.9,295.5 C402.9,297.1 402.0,298.7 402.0,300.2 C402.0,301.8 402.7,304.2 402.9,305.0" fill="#f3cf9f" stroke="#744824" stroke-width="1.2"/>
<path d="M406.1,305.0 C406.2,304.2 407.0,301.8 407.0,300.2 C407.0,298.7 406.1,297.1 406.1,295.5 C406.1,293.9 407.0,292.3 407.0,290.8 C407.0,289.2 406.1,287.6 406.1,286.0 C406.1,284.4 407.0,282.8 407.0,281.2 C407.0,279.7 406.1,278.1 406.1,276.5 C406.1,274.9 407.0,273.3 407.0,271.8 C407.0,270.2 406.0,268.1 406.1,267.0 C406.2,265.9 407.2,265.7 407.7,265.3 C408.2,264.9 408.8,264.5 409.3,264.5 C409.8,264.5 410.4,264.9 410.9,265.3 C411.4,265.7 412.4,265.9 412.5,267.0 C412.6,268.1 411.6,270.2 411.6,271.8 C411.6,273.3 412.5,274.9 412.5,276.5 C412.5,278.1 411.6,279.7 411.6,281.2 C411.6,282.8 412.5,284.4 412.5,286.0 C412.5,287.6 411.6,289.2 411.6,290.8 C411.6,292.3 412.5,293.9 412.5,295.5 C412.5,297.1 411.6,298.7 411.6,300.2 C411.6,301.8 412.3,304.2 412.5,305.0" fill="#f3cf9f" stroke="#744824" stroke-width="1.2"/>
<path d="M415.7,305.0 C415.8,304.2 416.6,301.8 416.6,300.2 C416.6,298.7 415.7,297.1 415.7,295.5 C415.7,293.9 416.6,292.3 416.6,290.8 C416.6,289.2 415.7,287.6 415.7,286.0 C415.7,284.4 416.6,282.8 416.6,281.2 C416.6,279.7 415.7,278.1 415.7,276.5 C415.7,274.9 416.6,273.3 416.6,271.8 C416.6,270.2 415.6,268.1 415.7,267.0 C415.8,265.9 416.8,265.7 417.3,265.3 C417.8,264.9 418.4,264.5 418.9,264.5 C419.4,264.5 420.0,264.9 420.5,265.3 C421.0,265.7 422.0,265.9 422.1,267.0 C422.2,268.1 421.2,270.2 421.2,271.8 C421.2,273.3 422.1,274.9 422.1,276.5 C422.1,278.1 421.2,279.7 421.2,281.2 C421.2,282.8 422.1,284.4 422.1,286.0 C422.1,287.6 421.2,289.2 421.2,290.8 C421.2,292.3 422.1,293.9 422.1,295.5 C422.1,297.1 421.2,298.7 421.2,300.2 C421.2,301.8 421.9,304.2 422.1,305.0" fill="#f3cf9f" stroke="#744824" stroke-width="1.2"/>
<path d="M425.3,305.0 C425.4,304.2 426.2,301.8 426.2,300.2 C426.2,298.7 425.3,297.1 425.3,295.5 C425.3,293.9 426.2,292.3 426.2,290.8 C426.2,289.2 425.3,287.6 425.3,286.0 C425.3,284.4 426.2,282.8 426.2,281.2 C426.2,279.7 425.3,278.1 425.3,276.5 C425.3,274.9 426.2,273.3 426.2,271.8 C426.2,270.2 425.2,268.1 425.3,267.0 C425.4,265.9 426.4,265.7 426.9,265.3 C427.4,264.9 428.0,264.5 428.5,264.5 C429.0,264.5 429.6,264.9 430.1,265.3 C430.6,265.7 431.6,265.9 431.7,267.0 C431.8,268.1 430.8,270.2 430.8,271.8 C430.8,273.3 431.7,274.9 431.7,276.5 C431.7,278.1 430.8,279.7 430.8,281.2 C430.8,282.8 431.7,284.4 431.7,286.0 C431.7,287.6 430.8,289.2 430.8,290.8 C430.8,292.3 431.7,293.9 431.7,295.5 C431.7,297.1 430.8,298.7 430.8,300.2 C430.8,301.8 431.5,304.2 431.7,305.0" fill="#f3cf9f" stroke="#744824" stroke-width="1.2"/>
<path d="M434.9,305.0 C435.0,304.2 435.8,301.8 435.8,300.2 C435.8,298.7 434.9,297.1 434.9,295.5 C434.9,293.9 435.8,292.3 435.8,290.8 C435.8,289.2 434.9,287.6 434.9,286.0 C434.9,284.4 435.8,282.8 435.8,281.2 C435.8,279.7 434.9,278.1 434.9,276.5 C434.9,274.9 435.8,273.3 435.8,271.8 C435.8,270.2 434.8,268.1 434.9,267.0 C435.0,265.9 436.0,265.7 436.5,265.3 C437.0,264.9 437.6,264.5 438.1,264.5 C438.6,264.5 439.2,264.9 439.7,265.3 C440.2,265.7 441.2,265.9 441.3,267.0 C441.4,268.1 440.4,270.2 440.4,271.8 C440.4,273.3 441.3,274.9 441.3,276.5 C441.3,278.1 440.4,279.7 440.4,281.2 C440.4,282.8 441.3,284.4 441.3,286.0 C441.3,287.6 440.4,289.2 440.4,290.8 C440.4,292.3 441.3,293.9 441.3,295.5 C441.3,297.1 440.4,298.7 440.4,300.2 C440.4,301.8 441.1,304.2 441.3,305.0" fill="#f3cf9f" stroke="#744824" stroke-width="1.2"/>
<path d="M444.5,305.0 C444.6,304.2 445.4,301.8 445.4,300.2 C445.4,298.7 444.5,297.1 444.5,295.5 C444.5,293.9 445.4,292.3 445.4,290.8 C445.4,289.2 444.5,287.6 444.5,286.0 C444.5,284.4 445.4,282.8 445.4,281.2 C445.4,279.7 444.5,278.1 444.5,276.5 C444.5,274.9 445.4,273.3 445.4,271.8 C445.4,270.2 444.4,268.1 444.5,267.0 C444.6,265.9 445.6,265.7 446.1,265.3 C446.6,264.9 447.2,264.5 447.7,264.5 C448.2,264.5 448.8,264.9 449.3,265.3 C449.8,265.7 450.8,265.9 450.9,267.0 C451.0,268.1 450.0,270.2 450.0,271.8 C450.0,273.3 450.9,274.9 450.9,276.5 C450.9,278.1 450.0,279.7 450.0,281.2 C450.0,282.8 450.9,284.4 450.9,286.0 C450.9,287.6 450.0,289.2 450.0,290.8 C450.0,292.3 450.9,293.9 450.9,295.5 C450.9,297.1 450.0,298.7 450.0,300.2 C450.0,301.8 450.7,304.2 450.9,305.0" fill="#f3cf9f" stroke="#744824" stroke-width="1.2"/>
<path d="M454.1,305.0 C454.2,304.2 455.0,301.8 455.0,300.2 C455.0,298.7 454.1,297.1 454.1,295.5 C454.1,293.9 455.0,292.3 455.0,290.8 C455.0,289.2 454.1,287.6 454.1,286.0 C454.1,284.4 455.0,282.8 455.0,281.2 C455.0,279.7 454.1,278.1 454.1,276.5 C454.1,274.9 455.0,273.3 455.0,271.8 C455.0,270.2 454.0,268.1 454.1,267.0 C454.2,265.9 455.2,265.7 455.7,265.3 C456.2,264.9 456.8,264.5 457.3,264.5 C457.8,264.5 458.4,264.9 458.9,265.3 C459.4,265.7 460.4,265.9 460.5,267.0 C460.6,268.1 459.6,270.2 459.6,271.8 C459.6,273.3 460.5,274.9 460.5,276.5 C460.5,278.1 459.6,279.7 459.6,281.2 C459.6,282.8 460.5,284.4 460.5,286.0 C460.5,287.6 459.6,289.2 459.6,290.8 C459.6,292.3 460.5,293.9 460.5,295.5 C460.5,297.1 459.6,298.7 459.6,300.2 C459.6,301.8 460.3,304.2 460.5,305.0" fill="#f3cf9f" stroke="#744824" stroke-width="1.2"/>
<path d="M463.7,305.0 C463.8,304.2 464.6,301.8 464.6,300.2 C464.6,298.7 463.7,297.1 463.7,295.5 C463.7,293.9 464.6,292.3 464.6,290.8 C464.6,289.2 463.7,287.6 463.7,286.0 C463.7,284.4 464.6,282.8 464.6,281.2 C464.6,279.7 463.7,278.1 463.7,276.5 C463.7,274.9 464.6,273.3 464.6,271.8 C464.6,270.2 463.6,268.1 463.7,267.0 C463.8,265.9 464.8,265.7 465.3,265.3 C465.8,264.9 466.4,264.5 466.9,264.5 C467.4,264.5 468.0,264.9 468.5,265.3 C469.0,265.7 470.0,265.9 470.1,267.0 C470.2,268.1 469.2,270.2 469.2,271.8 C469.2,273.3 470.1,274.9 470.1,276.5 C470.1,278.1 469.2,279.7 469.2,281.2 C469.2,282.8 470.1,284.4 470.1,286.0 C470.1,287.6 469.2,289.2 469.2,290.8 C469.2,292.3 470.1,293.9 470.1,295.5 C470.1,297.1 469.2,298.7 469.2,300.2 C469.2,301.8 469.9,304.2 470.1,305.0" fill="#f3cf9f" stroke="#744824" stroke-width="1.2"/>
<path d="M473.3,305.0 C473.4,304.2 474.2,301.8 474.2,300.2 C474.2,298.7 473.3,297.1 473.3,295.5 C473.3,293.9 474.2,292.3 474.2,290.8 C474.2,289.2 473.3,287.6 473.3,286.0 C473.3,284.4 474.2,282.8 474.2,281.2 C474.2,279.7 473.3,278.1 473.3,276.5 C473.3,274.9 474.2,273.3 474.2,271.8 C474.2,270.2 473.2,268.1 473.3,267.0 C473.4,265.9 474.4,265.7 474.9,265.3 C475.4,264.9 476.0,264.5 476.5,264.5 C477.0,264.5 477.6,264.9 478.1,265.3 C478.6,265.7 479.6,265.9 479.7,267.0 C479.8,268.1 478.8,270.2 478.8,271.8 C478.8,273.3 479.7,274.9 479.7,276.5 C479.7,278.1 478.8,279.7 478.8,281.2 C478.8,282.8 479.7,284.4 479.7,286.0 C479.7,287.6 478.8,289.2 478.8,290.8 C478.8,292.3 479.7,293.9 479.7,295.5 C479.7,297.1 478.8,298.7 478.8,300.2 C478.8,301.8 479.5,304.2 479.7,305.0" fill="#f3cf9f" stroke="#744824" stroke-width="1.2"/>
<path d="M482.9,305.0 C483.0,304.2 483.8,301.8 483.8,300.2 C483.8,298.7 482.9,297.1 482.9,295.5 C482.9,293.9 483.8,292.3 483.8,290.8 C483.8,289.2 482.9,287.6 482.9,286.0 C482.9,284.4 483.8,282.8 483.8,281.2 C483.8,279.7 482.9,278.1 482.9,276.5 C482.9,274.9 483.8,273.3 483.8,271.8 C483.8,270.2 482.8,268.1 482.9,267.0 C483.0,265.9 484.0,265.7 484.5,265.3 C485.0,264.9 485.6,264.5 486.1,264.5 C486.6,264.5 487.2,264.9 487.7,265.3 C488.2,265.7 489.2,265.9 489.3,267.0 C489.4,268.1 488.4,270.2 488.4,271.8 C488.4,273.3 489.3,274.9 489.3,276.5 C489.3,278.1 488.4,279.7 488.4,281.2 C488.4,282.8 489.3,284.4 489.3,286.0 C489.3,287.6 488.4,289.2 488.4,290.8 C488.4,292.3 489.3,293.9 489.3,295.5 C489.3,297.1 488.4,298.7 488.4,300.2 C488.4,301.8 489.1,304.2 489.3,305.0" fill="#f3cf9f" stroke="#744824" stroke-width="1.2"/>
<path d="M492.5,305.0 C492.6,304.2 493.4,301.8 493.4,300.2 C493.4,298.7 492.5,297.1 492.5,295.5 C492.5,293.9 493.4,292.3 493.4,290.8 C493.4,289.2 492.5,287.6 492.5,286.0 C492.5,284.4 493.4,282.8 493.4,281.2 C493.4,279.7 492.5,278.1 492.5,276.5 C492.5,274.9 493.4,273.3 493.4,271.8 C493.4,270.2 492.4,268.1 492.5,267.0 C492.6,265.9 493.6,265.7 494.1,265.3 C494.6,264.9 495.2,264.5 495.7,264.5 C496.2,264.5 496.8,264.9 497.3,265.3 C497.8,265.7 498.8,265.9 498.9,267.0 C499.0,268.1 498.0,270.2 498.0,271.8 C498.0,273.3 498.9,274.9 498.9,276.5 C498.9,278.1 498.0,279.7 498.0,281.2 C498.0,282.8 498.9,284.4 498.9,286.0 C498.9,287.6 498.0,289.2 498.0,290.8 C498.0,292.3 498.9,293.9 498.9,295.5 C498.9,297.1 498.0,298.7 498.0,300.2 C498.0,301.8 498.7,304.2 498.9,305.0" fill="#f3cf9f" stroke="#744824" stroke-width="1.2"/>
<path d="M502.1,305.0 C502.2,304.2 503.0,301.8 503.0,300.2 C503.0,298.7 502.1,297.1 502.1,295.5 C502.1,293.9 503.0,292.3 503.0,290.8 C503.0,289.2 502.1,287.6 502.1,286.0 C502.1,284.4 503.0,282.8 503.0,281.2 C503.0,279.7 502.1,278.1 502.1,276.5 C502.1,274.9 503.0,273.3 503.0,271.8 C503.0,270.2 502.0,268.1 502.1,267.0 C502.2,265.9 503.2,265.7 503.7,265.3 C504.2,264.9 504.8,264.5 505.3,264.5 C505.8,264.5 506.4,264.9 506.9,265.3 C507.4,265.7 508.4,265.9 508.5,267.0 C508.6,268.1 507.6,270.2 507.6,271.8 C507.6,273.3 508.5,274.9 508.5,276.5 C508.5,278.1 507.6,279.7 507.6,281.2 C507.6,282.8 508.5,284.4 508.5,286.0 C508.5,287.6 507.6,289.2 507.6,290.8 C507.6,292.3 508.5,293.9 508.5,295.5 C508.5,297.1 507.6,298.7 507.6,300.2 C507.6,301.8 508.3,304.2 508.5,305.0" fill="#f3cf9f" stroke="#744824" stroke-width="1.2"/>
<path d="M511.7,305.0 C511.8,304.2 512.6,301.8 512.6,300.2 C512.6,298.7 511.7,297.1 511.7,295.5 C511.7,293.9 512.6,292.3 512.6,290.8 C512.6,289.2 511.7,287.6 511.7,286.0 C511.7,284.4 512.6,282.8 512.6,281.2 C512.6,279.7 511.7,278.1 511.7,276.5 C511.7,274.9 512.6,273.3 512.6,271.8 C512.6,270.2 511.6,268.1 511.7,267.0 C511.8,265.9 512.8,265.7 513.3,265.3 C513.8,264.9 514.4,264.5 514.9,264.5 C515.4,264.5 516.0,264.9 516.5,265.3 C517.0,265.7 518.0,265.9 518.1,267.0 C518.2,268.1 517.2,270.2 517.2,271.8 C517.2,273.3 518.1,274.9 518.1,276.5 C518.1,278.1 517.2,279.7 517.2,281.2 C517.2,282.8 518.1,284.4 518.1,286.0 C518.1,287.6 517.2,289.2 517.2,290.8 C517.2,292.3 518.1,293.9 518.1,295.5 C518.1,297.1 517.2,298.7 517.2,300.2 C517.2,301.8 517.9,304.2 518.1,305.0" fill="#f3cf9f" stroke="#744824" stroke-width="1.2"/>
<path d="M521.3,305.0 C521.4,304.2 522.2,301.8 522.2,300.2 C522.2,298.7 521.3,297.1 521.3,295.5 C521.3,293.9 522.2,292.3 522.2,290.8 C522.2,289.2 521.3,287.6 521.3,286.0 C521.3,284.4 522.2,282.8 522.2,281.2 C522.2,279.7 521.3,278.1 521.3,276.5 C521.3,274.9 522.2,273.3 522.2,271.8 C522.2,270.2 521.2,268.1 521.3,267.0 C521.4,265.9 522.4,265.7 522.9,265.3 C523.4,264.9 524.0,264.5 524.5,264.5 C525.0,264.5 525.6,264.9 526.1,265.3 C526.6,265.7 527.6,265.9 527.7,267.0 C527.8,268.1 526.8,270.2 526.8,271.8 C526.8,273.3 527.7,274.9 527.7,276.5 C527.7,278.1 526.8,279.7 526.8,281.2 C526.8,282.8 527.7,284.4 527.7,286.0 C527.7,287.6 526.8,289.2 526.8,290.8 C526.8,292.3 527.7,293.9 527.7,295.5 C527.7,297.1 526.8,298.7 526.8,300.2 C526.8,301.8 527.5,304.2 527.7,305.0" fill="#f3cf9f" stroke="#744824" stroke-width="1.2"/>
<path d="M530.9,305.0 C531.0,304.2 531.8,301.8 531.8,300.2 C531.8,298.7 530.9,297.1 530.9,295.5 C530.9,293.9 531.8,292.3 531.8,290.8 C531.8,289.2 530.9,287.6 530.9,286.0 C530.9,284.4 531.8,282.8 531.8,281.2 C531.8,279.7 530.9,278.1 530.9,276.5 C530.9,274.9 531.8,273.3 531.8,271.8 C531.8,270.2 530.8,268.1 530.9,267.0 C531.0,265.9 532.0,265.7 532.5,265.3 C533.0,264.9 533.6,264.5 534.1,264.5 C534.6,264.5 535.2,264.9 535.7,265.3 C536.2,265.7 537.2,265.9 537.3,267.0 C537.4,268.1 536.4,270.2 536.4,271.8 C536.4,273.3 537.3,274.9 537.3,276.5 C537.3,278.1 536.4,279.7 536.4,281.2 C536.4,282.8 537.3,284.4 537.3,286.0 C537.3,287.6 536.4,289.2 536.4,290.8 C536.4,292.3 537.3,293.9 537.3,295.5 C537.3,297.1 536.4,298.7 536.4,300.2 C536.4,301.8 537.1,304.2 537.3,305.0" fill="#f3cf9f" stroke="#744824" stroke-width="1.2"/>
<path d="M540.5,305.0 C540.6,304.2 541.4,301.8 541.4,300.2 C541.4,298.7 540.5,297.1 540.5,295.5 C540.5,293.9 541.4,292.3 541.4,290.8 C541.4,289.2 540.5,287.6 540.5,286.0 C540.5,284.4 541.4,282.8 541.4,281.2 C541.4,279.7 540.5,278.1 540.5,276.5 C540.5,274.9 541.4,273.3 541.4,271.8 C541.4,270.2 540.4,268.1 540.5,267.0 C540.6,265.9 541.6,265.7 542.1,265.3 C542.6,264.9 543.2,264.5 543.7,264.5 C544.2,264.5 544.8,264.9 545.3,265.3 C545.8,265.7 546.8,265.9 546.9,267.0 C547.0,268.1 546.0,270.2 546.0,271.8 C546.0,273.3 546.9,274.9 546.9,276.5 C546.9,278.1 546.0,279.7 546.0,281.2 C546.0,282.8 546.9,284.4 546.9,286.0 C546.9,287.6 546.0,289.2 546.0,290.8 C546.0,292.3 546.9,293.9 546.9,295.5 C546.9,297.1 546.0,298.7 546.0,300.2 C546.0,301.8 546.7,304.2 546.9,305.0" fill="#f3cf9f" stroke="#744824" stroke-width="1.2"/>
<circle cx="303.2" cy="213.6" r="9.4" fill="url(#head)" stroke="#5e4030" stroke-width="1.2"/>
<circle cx="322.4" cy="213.6" r="9.4" fill="url(#head)" stroke="#5e4030" stroke-width="1.2"/>
<circle cx="341.6" cy="213.6" r="9.4" fill="url(#head)" stroke="#5e4030" stroke-width="1.2"/>
<circle cx="360.8" cy="213.6" r="9.4" fill="url(#head)" stroke="#5e4030" stroke-width="1.2"/>
<circle cx="380.0" cy="213.6" r="9.4" fill="url(#head)" stroke="#5e4030" stroke-width="1.2"/>
<circle cx="399.2" cy="213.6" r="9.4" fill="url(#head)" stroke="#5e4030" stroke-width="1.2"/>
<circle cx="418.4" cy="213.6" r="9.4" fill="url(#head)" stroke="#5e4030" stroke-width="1.2"/>
<circle cx="437.6" cy="213.6" r="9.4" fill="url(#head)" stroke="#5e4030" stroke-width="1.2"/>
<circle cx="456.8" cy="213.6" r="9.4" fill="url(#head)" stroke="#5e4030" stroke-width="1.2"/>
<circle cx="476.0" cy="213.6" r="9.4" fill="url(#head)" stroke="#5e4030" stroke-width="1.2"/>
<circle cx="495.2" cy="213.6" r="9.4" fill="url(#head)" stroke="#5e4030" stroke-width="1.2"/>
<circle cx="514.4" cy="213.6" r="9.4" fill="url(#head)" stroke="#5e4030" stroke-width="1.2"/>
<circle cx="533.6" cy="213.6" r="9.4" fill="url(#head)" stroke="#5e4030" stroke-width="1.2"/>
<circle cx="289.3" cy="312.0" r="9.4" fill="url(#head)" stroke="#5e4030" stroke-width="1.2"/>
<circle cx="308.5" cy="312.0" r="9.4" fill="url(#head)" stroke="#5e4030" stroke-width="1.2"/>
<circle cx="327.7" cy="312.0" r="9.4" fill="url(#head)" stroke="#5e4030" stroke-width="1.2"/>
<circle cx="346.9" cy="312.0" r="9.4" fill="url(#head)" stroke="#5e4030" stroke-width="1.2"/>
<circle cx="366.1" cy="312.0" r="9.4" fill="url(#head)" stroke="#5e4030" stroke-width="1.2"/>
<circle cx="385.3" cy="312.0" r="9.4" fill="url(#head)" stroke="#5e4030" stroke-width="1.2"/>
<circle cx="404.5" cy="312.0" r="9.4" fill="url(#head)" stroke="#5e4030" stroke-width="1.2"/>
<circle cx="423.7" cy="312.0" r="9.4" fill="url(#head)" stroke="#5e4030" stroke-width="1.2"/>
<circle cx="442.9" cy="312.0" r="9.4" fill="url(#head)" stroke="#5e4030" stroke-width="1.2"/>
<circle cx="462.1" cy="312.0" r="9.4" fill="url(#head)" stroke="#5e4030" stroke-width="1.2"/>
<circle cx="481.3" cy="312.0" r="9.4" fill="url(#head)" stroke="#5e4030" stroke-width="1.2"/>
<circle cx="500.5" cy="312.0" r="9.4" fill="url(#head)" stroke="#5e4030" stroke-width="1.2"/>
<circle cx="519.7" cy="312.0" r="9.4" fill="url(#head)" stroke="#5e4030" stroke-width="1.2"/>
<circle cx="538.9" cy="312.0" r="9.4" fill="url(#head)" stroke="#5e4030" stroke-width="1.2"/>
</g>
<g clip-path="url(#cp2)">
<rect x="595.5" y="15" width="220.5" height="215" fill="url(#bgTop)"/>
<rect x="595.5" y="300" width="220.5" height="159" fill="url(#bgBot)"/>
<rect x="595.5" y="216" width="220.5" height="96" fill="#dc9650"/>
<rect x="595.5" y="216" width="220.5" height="6" fill="#b89478"/>
<rect x="595.5" y="304" width="220.5" height="6" fill="#b89478"/>
<path d="M581.3,221.0 C581.5,221.8 582.2,224.2 582.2,225.8 C582.2,227.3 581.3,228.9 581.3,230.5 C581.3,232.1 582.2,233.7 582.2,235.2 C582.2,236.8 581.3,238.4 581.3,240.0 C581.3,241.6 582.2,243.2 582.2,244.8 C582.2,246.3 581.3,247.9 581.3,249.5 C581.3,251.1 582.2,252.7 582.2,254.2 C582.2,255.8 581.2,257.9 581.3,259.0 C581.4,260.1 582.4,260.3 582.9,260.7 C583.4,261.1 584.0,261.5 584.5,261.5 C585.0,261.5 585.6,261.1 586.1,260.7 C586.6,260.3 587.6,260.1 587.7,259.0 C587.8,257.9 586.8,255.8 586.8,254.2 C586.8,252.7 587.7,251.1 587.7,249.5 C587.7,247.9 586.8,246.3 586.8,244.8 C586.8,243.2 587.7,241.6 587.7,240.0 C587.7,238.4 586.8,236.8 586.8,235.2 C586.8,233.7 587.7,232.1 587.7,230.5 C587.7,228.9 586.8,227.3 586.8,225.8 C586.8,224.2 587.6,221.8 587.7,221.0" fill="#f3cf9f" stroke="#744824" stroke-width="1.2"/>
<path d="M590.9,221.0 C591.1,221.8 591.8,224.2 591.8,225.8 C591.8,227.3 590.9,228.9 590.9,230.5 C590.9,232.1 591.8,233.7 591.8,235.2 C591.8,236.8 590.9,238.4 590.9,240.0 C590.9,241.6 591.8,243.2 591.8,244.8 C591.8,246.3 590.9,247.9 590.9,249.5 C590.9,251.1 591.8,252.7 591.8,254.2 C591.8,255.8 590.8,257.9 590.9,259.0 C591.0,260.1 592.0,260.3 592.5,260.7 C593.0,261.1 593.6,261.5 594.1,261.5 C594.6,261.5 595.2,261.1 595.7,260.7 C596.2,260.3 597.2,260.1 597.3,259.0 C597.4,257.9 596.4,255.8 596.4,254.2 C596.4,252.7 597.3,251.1 597.3,249.5 C597.3,247.9 596.4,246.3 596.4,244.8 C596.4,243.2 597.3,241.6 597.3,240.0 C597.3,238.4 596.4,236.8 596.4,235.2 C596.4,233.7 597.3,232.1 597.3,230.5 C597.3,228.9 596.4,227.3 596.4,225.8 C596.4,224.2 597.2,221.8 597.3,221.0" fill="#f3cf9f" stroke="#744824" stroke-width="1.2"/>
<path d="M600.5,221.0 C600.7,221.8 601.4,224.2 601.4,225.8 C601.4,227.3 600.5,228.9 600.5,230.5 C600.5,232.1 601.4,233.7 601.4,235.2 C601.4,236.8 600.5,238.4 600.5,240.0 C600.5,241.6 601.4,243.2 601.4,244.8 C601.4,246.3 600.5,247.9 600.5,249.5 C600.5,251.1 601.4,252.7 601.4,254.2 C601.4,255.8 600.4,257.9 600.5,259.0 C600.6,260.1 601.6,260.3 602.1,260.7 C602.6,261.1 603.2,261.5 603.7,261.5 C604.2,261.5 604.8,261.1 605.3,260.7 C605.8,260.3 606.8,260.1 606.9,259.0 C607.0,257.9 606.0,255.8 606.0,254.2 C606.0,252.7 606.9,251.1 606.9,249.5 C606.9,247.9 606.0,246.3 606.0,244.8 C606.0,243.2 606.9,241.6 606.9,240.0 C606.9,238.4 606.0,236.8 606.0,235.2 C606.0,233.7 606.9,232.1 606.9,230.5 C606.9,228.9 606.0,227.3 606.0,225.8 C606.0,224.2 606.8,221.8 606.9,221.0" fill="#f3cf9f" stroke="#744824" stroke-width="1.2"/>
<path d="M610.1,221.0 C610.3,221.8 611.0,224.2 611.0,225.8 C611.0,227.3 610.1,228.9 610.1,230.5 C610.1,232.1 611.0,233.7 611.0,235.2 C611.0,236.8 610.1,238.4 610.1,240.0 C610.1,241.6 611.0,243.2 611.0,244.8 C611.0,246.3 610.1,247.9 610.1,249.5 C610.1,251.1 611.0,252.7 611.0,254.2 C611.0,255.8 610.0,257.9 610.1,259.0 C610.2,260.1 611.2,260.3 611.7,260.7 C612.2,261.1 612.8,261.5 613.3,261.5 C613.8,261.5 614.4,261.1 614.9,260.7 C615.4,260.3 616.4,260.1 616.5,259.0 C616.6,257.9 615.6,255.8 615.6,254.2 C615.6,252.7 616.5,251.1 616.5,249.5 C616.5,247.9 615.6,246.3 615.6,244.8 C615.6,243.2 616.5,241.6 616.5,240.0 C616.5,238.4 615.6,236.8 615.6,235.2 C615.6,233.7 616.5,232.1 616.5,230.5 C616.5,228.9 615.6,227.3 615.6,225.8 C615.6,224.2 616.4,221.8 616.5,221.0" fill="#f3cf9f" stroke="#744824" stroke-width="1.2"/>
<path d="M619.7,221.0 C619.9,221.8 620.6,224.2 620.6,225.8 C620.6,227.3 619.7,228.9 619.7,230.5 C619.7,232.1 620.6,233.7 620.6,235.2 C620.6,236.8 619.7,238.4 619.7,240.0 C619.7,241.6 620.6,243.2 620.6,244.8 C620.6,246.3 619.7,247.9 619.7,249.5 C619.7,251.1 620.6,252.7 620.6,254.2 C620.6,255.8 619.6,257.9 619.7,259.0 C619.8,260.1 620.8,260.3 621.3,260.7 C621.8,261.1 622.4,261.5 622.9,261.5 C623.4,261.5 624.0,261.1 624.5,260.7 C625.0,260.3 626.0,260.1 626.1,259.0 C626.2,257.9 625.2,255.8 625.2,254.2 C625.2,252.7 626.1,251.1 626.1,249.5 C626.1,247.9 625.2,246.3 625.2,244.8 C625.2,243.2 626.1,241.6 626.1,240.0 C626.1,238.4 625.2,236.8 625.2,235.2 C625.2,233.7 626.1,232.1 626.1,230.5 C626.1,228.9 625.2,227.3 625.2,225.8 C625.2,224.2 626.0,221.8 626.1,221.0" fill="#f3cf9f" stroke="#744824" stroke-width="1.2"/>
<path d="M629.3,221.0 C629.5,221.8 630.2,224.2 630.2,225.8 C630.2,227.3 629.3,228.9 629.3,230.5 C629.3,232.1 630.2,233.7 630.2,235.2 C630.2,236.8 629.3,238.4 629.3,240.0 C629.3,241.6 630.2,243.2 630.2,244.8 C630.2,246.3 629.3,247.9 629.3,249.5 C629.3,251.1 630.2,252.7 630.2,254.2 C630.2,255.8 629.2,257.9 629.3,259.0 C629.4,260.1 630.4,260.3 630.9,260.7 C631.4,261.1 632.0,261.5 632.5,261.5 C633.0,261.5 633.6,261.1 634.1,260.7 C634.6,260.3 635.6,260.1 635.7,259.0 C635.8,257.9 634.8,255.8 634.8,254.2 C634.8,252.7 635.7,251.1 635.7,249.5 C635.7,247.9 634.8,246.3 634.8,244.8 C634.8,243.2 635.7,241.6 635.7,240.0 C635.7,238.4 634.8,236.8 634.8,235.2 C634.8,233.7 635.7,232.1 635.7,230.5 C635.7,228.9 634.8,227.3 634.8,225.8 C634.8,224.2 635.6,221.8 635.7,221.0" fill="#f3cf9f" stroke="#744824" stroke-width="1.2"/>
<path d="M638.9,221.0 C639.1,221.8 639.8,224.2 639.8,225.8 C639.8,227.3 638.9,228.9 638.9,230.5 C638.9,232.1 639.8,233.7 639.8,235.2 C639.8,236.8 638.9,238.4 638.9,240.0 C638.9,241.6 639.8,243.2 639.8,244.8 C639.8,246.3 638.9,247.9 638.9,249.5 C638.9,251.1 639.8,252.7 639.8,254.2 C639.8,255.8 638.8,257.9 638.9,259.0 C639.0,260.1 640.0,260.3 640.5,260.7 C641.0,261.1 641.6,261.5 642.1,261.5 C642.6,261.5 643.2,261.1 643.7,260.7 C644.2,260.3 645.2,260.1 645.3,259.0 C645.4,257.9 644.4,255.8 644.4,254.2 C644.4,252.7 645.3,251.1 645.3,249.5 C645.3,247.9 644.4,246.3 644.4,244.8 C644.4,243.2 645.3,241.6 645.3,240.0 C645.3,238.4 644.4,236.8 644.4,235.2 C644.4,233.7 645.3,232.1 645.3,230.5 C645.3,228.9 644.4,227.3 644.4,225.8 C644.4,224.2 645.2,221.8 645.3,221.0" fill="#f3cf9f" stroke="#744824" stroke-width="1.2"/>
<path d="M648.5,221.0 C648.7,221.8 649.4,224.2 649.4,225.8 C649.4,227.3 648.5,228.9 648.5,230.5 C648.5,232.1 649.4,233.7 649.4,235.2 C649.4,236.8 648.5,238.4 648.5,240.0 C648.5,241.6 649.4,243.2 649.4,244.8 C649.4,246.3 648.5,247.9 648.5,249.5 C648.5,251.1 649.4,252.7 649.4,254.2 C649.4,255.8 648.4,257.9 648.5,259.0 C648.6,260.1 649.6,260.3 650.1,260.7 C650.6,261.1 651.2,261.5 651.7,261.5 C652.2,261.5 652.8,261.1 653.3,260.7 C653.8,260.3 654.8,260.1 654.9,259.0 C655.0,257.9 654.0,255.8 654.0,254.2 C654.0,252.7 654.9,251.1 654.9,249.5 C654.9,247.9 654.0,246.3 654.0,244.8 C654.0,243.2 654.9,241.6 654.9,240.0 C654.9,238.4 654.0,236.8 654.0,235.2 C654.0,233.7 654.9,232.1 654.9,230.5 C654.9,228.9 654.0,227.3 654.0,225.8 C654.0,224.2 654.8,221.8 654.9,221.0" fill="#f3cf9f" stroke="#744824" stroke-width="1.2"/>
<path d="M658.1,221.0 C658.3,221.8 659.0,224.2 659.0,225.8 C659.0,227.3 658.1,228.9 658.1,230.5 C658.1,232.1 659.0,233.7 659.0,235.2 C659.0,236.8 658.1,238.4 658.1,240.0 C658.1,241.6 659.0,243.2 659.0,244.8 C659.0,246.3 658.1,247.9 658.1,249.5 C658.1,251.1 659.0,252.7 659.0,254.2 C659.0,255.8 658.0,257.9 658.1,259.0 C658.2,260.1 659.2,260.3 659.7,260.7 C660.2,261.1 660.8,261.5 661.3,261.5 C661.8,261.5 662.4,261.1 662.9,260.7 C663.4,260.3 664.4,260.1 664.5,259.0 C664.6,257.9 663.6,255.8 663.6,254.2 C663.6,252.7 664.5,251.1 664.5,249.5 C664.5,247.9 663.6,246.3 663.6,244.8 C663.6,243.2 664.5,241.6 664.5,240.0 C664.5,238.4 663.6,236.8 663.6,235.2 C663.6,233.7 664.5,232.1 664.5,230.5 C664.5,228.9 663.6,227.3 663.6,225.8 C663.6,224.2 664.4,221.8 664.5,221.0" fill="#f3cf9f" stroke="#744824" stroke-width="1.2"/>
<path d="M667.7,221.0 C667.9,221.8 668.6,224.2 668.6,225.8 C668.6,227.3 667.7,228.9 667.7,230.5 C667.7,232.1 668.6,233.7 668.6,235.2 C668.6,236.8 667.7,238.4 667.7,240.0 C667.7,241.6 668.6,243.2 668.6,244.8 C668.6,246.3 667.7,247.9 667.7,249.5 C667.7,251.1 668.6,252.7 668.6,254.2 C668.6,255.8 667.6,257.9 667.7,259.0 C667.8,260.1 668.8,260.3 669.3,260.7 C669.8,261.1 670.4,261.5 670.9,261.5 C671.4,261.5 672.0,261.1 672.5,260.7 C673.0,260.3 674.0,260.1 674.1,259.0 C674.2,257.9 673.2,255.8 673.2,254.2 C673.2,252.7 674.1,251.1 674.1,249.5 C674.1,247.9 673.2,246.3 673.2,244.8 C673.2,243.2 674.1,241.6 674.1,240.0 C674.1,238.4 673.2,236.8 673.2,235.2 C673.2,233.7 674.1,232.1 674.1,230.5 C674.1,228.9 673.2,227.3 673.2,225.8 C673.2,224.2 674.0,221.8 674.1,221.0" fill="#f3cf9f" stroke="#744824" stroke-width="1.2"/>
<path d="M677.3,221.0 C677.5,221.8 678.2,224.2 678.2,225.8 C678.2,227.3 677.3,228.9 677.3,230.5 C677.3,232.1 678.2,233.7 678.2,235.2 C678.2,236.8 677.3,238.4 677.3,240.0 C677.3,241.6 678.2,243.2 678.2,244.8 C678.2,246.3 677.3,247.9 677.3,249.5 C677.3,251.1 678.2,252.7 678.2,254.2 C678.2,255.8 677.2,257.9 677.3,259.0 C677.4,260.1 678.4,260.3 678.9,260.7 C679.4,261.1 680.0,261.5 680.5,261.5 C681.0,261.5 681.6,261.1 682.1,260.7 C682.6,260.3 683.6,260.1 683.7,259.0 C683.8,257.9 682.8,255.8 682.8,254.2 C682.8,252.7 683.7,251.1 683.7,249.5 C683.7,247.9 682.8,246.3 682.8,244.8 C682.8,243.2 683.7,241.6 683.7,240.0 C683.7,238.4 682.8,236.8 682.8,235.2 C682.8,233.7 683.7,232.1 683.7,230.5 C683.7,228.9 682.8,227.3 682.8,225.8 C682.8,224.2 683.6,221.8 683.7,221.0" fill="#f3cf9f" stroke="#744824" stroke-width="1.2"/>
<path d="M686.9,221.0 C687.1,221.8 687.8,224.2 687.8,225.8 C687.8,227.3 686.9,228.9 686.9,230.5 C686.9,232.1 687.8,233.7 687.8,235.2 C687.8,236.8 686.9,238.4 686.9,240.0 C686.9,241.6 687.8,243.2 687.8,244.8 C687.8,246.3 686.9,247.9 686.9,249.5 C686.9,251.1 687.8,252.7 687.8,254.2 C687.8,255.8 686.8,257.9 686.9,259.0 C687.0,260.1 688.0,260.3 688.5,260.7 C689.0,261.1 689.6,261.5 690.1,261.5 C690.6,261.5 691.2,261.1 691.7,260.7 C692.2,260.3 693.2,260.1 693.3,259.0 C693.4,257.9 692.4,255.8 692.4,254.2 C692.4,252.7 693.3,251.1 693.3,249.5 C693.3,247.9 692.4,246.3 692.4,244.8 C692.4,243.2 693.3,241.6 693.3,240.0 C693.3,238.4 692.4,236.8 692.4,235.2 C692.4,233.7 693.3,232.1 693.3,230.5 C693.3,228.9 692.4,227.3 692.4,225.8 C692.4,224.2 693.2,221.8 693.3,221.0" fill="#f3cf9f" stroke="#744824" stroke-width="1.2"/>
<path d="M696.5,221.0 C696.7,221.8 697.4,224.2 697.4,225.8 C697.4,227.3 696.5,228.9 696.5,230.5 C696.5,232.1 697.4,233.7 697.4,235.2 C697.4,236.8 696.5,238.4 696.5,240.0 C696.5,241.6 697.4,243.2 697.4,244.8 C697.4,246.3 696.5,247.9 696.5,249.5 C696.5,251.1 697.4,252.7 697.4,254.2 C697.4,255.8 696.4,257.9 696.5,259.0 C696.6,260.1 697.6,260.3 698.1,260.7 C698.6,261.1 699.2,261.5 699.7,261.5 C700.2,261.5 700.8,261.1 701.3,260.7 C701.8,260.3 702.8,260.1 702.9,259.0 C703.0,257.9 702.0,255.8 702.0,254.2 C702.0,252.7 702.9,251.1 702.9,249.5 C702.9,247.9 702.0,246.3 702.0,244.8 C702.0,243.2 702.9,241.6 702.9,240.0 C702.9,238.4 702.0,236.8 702.0,235.2 C702.0,233.7 702.9,232.1 702.9,230.5 C702.9,228.9 702.0,227.3 702.0,225.8 C702.0,224.2 702.8,221.8 702.9,221.0" fill="#f3cf9f" stroke="#744824" stroke-width="1.2"/>
<path d="M706.1,221.0 C706.3,221.8 707.0,224.2 707.0,225.8 C707.0,227.3 706.1,228.9 706.1,230.5 C706.1,232.1 707.0,233.7 707.0,235.2 C707.0,236.8 706.1,238.4 706.1,240.0 C706.1,241.6 707.0,243.2 707.0,244.8 C707.0,246.3 706.1,247.9 706.1,249.5 C706.1,251.1 707.0,252.7 707.0,254.2 C707.0,255.8 706.0,257.9 706.1,259.0 C706.2,260.1 707.2,260.3 707.7,260.7 C708.2,261.1 708.8,261.5 709.3,261.5 C709.8,261.5 710.4,261.1 710.9,260.7 C711.4,260.3 712.4,260.1 712.5,259.0 C712.6,257.9 711.6,255.8 711.6,254.2 C711.6,252.7 712.5,251.1 712.5,249.5 C712.5,247.9 711.6,246.3 711.6,244.8 C711.6,243.2 712.5,241.6 712.5,240.0 C712.5,238.4 711.6,236.8 711.6,235.2 C711.6,233.7 712.5,232.1 712.5,230.5 C712.5,228.9 711.6,227.3 711.6,225.8 C711.6,224.2 712.4,221.8 712.5,221.0" fill="#f3cf9f" stroke="#744824" stroke-width="1.2"/>
<path d="M715.7,221.0 C715.9,221.8 716.6,224.2 716.6,225.8 C716.6,227.3 715.7,228.9 715.7,230.5 C715.7,232.1 716.6,233.7 716.6,235.2 C716.6,236.8 715.7,238.4 715.7,240.0 C715.7,241.6 716.6,243.2 716.6,244.8 C716.6,246.3 715.7,247.9 715.7,249.5 C715.7,251.1 716.6,252.7 716.6,254.2 C716.6,255.8 715.6,257.9 715.7,259.0 C715.8,260.1 716.8,260.3 717.3,260.7 C717.8,261.1 718.4,261.5 718.9,261.5 C719.4,261.5 720.0,261.1 720.5,260.7 C721.0,260.3 722.0,260.1 722.1,259.0 C722.2,257.9 721.2,255.8 721.2,254.2 C721.2,252.7 722.1,251.1 722.1,249.5 C722.1,247.9 721.2,246.3 721.2,244.8 C721.2,243.2 722.1,241.6 722.1,240.0 C722.1,238.4 721.2,236.8 721.2,235.2 C721.2,233.7 722.1,232.1 722.1,230.5 C722.1,228.9 721.2,227.3 721.2,225.8 C721.2,224.2 722.0,221.8 722.1,221.0" fill="#f3cf9f" stroke="#744824" stroke-width="1.2"/>
<path d="M725.3,221.0 C725.5,221.8 726.2,224.2 726.2,225.8 C726.2,227.3 725.3,228.9 725.3,230.5 C725.3,232.1 726.2,233.7 726.2,235.2 C726.2,236.8 725.3,238.4 725.3,240.0 C725.3,241.6 726.2,243.2 726.2,244.8 C726.2,246.3 725.3,247.9 725.3,249.5 C725.3,251.1 726.2,252.7 726.2,254.2 C726.2,255.8 725.2,257.9 725.3,259.0 C725.4,260.1 726.4,260.3 726.9,260.7 C727.4,261.1 728.0,261.5 728.5,261.5 C729.0,261.5 729.6,261.1 730.1,260.7 C730.6,260.3 731.6,260.1 731.7,259.0 C731.8,257.9 730.8,255.8 730.8,254.2 C730.8,252.7 731.7,251.1 731.7,249.5 C731.7,247.9 730.8,246.3 730.8,244.8 C730.8,243.2 731.7,241.6 731.7,240.0 C731.7,238.4 730.8,236.8 730.8,235.2 C730.8,233.7 731.7,232.1 731.7,230.5 C731.7,228.9 730.8,227.3 730.8,225.8 C730.8,224.2 731.6,221.8 731.7,221.0" fill="#f3cf9f" stroke="#744824" stroke-width="1.2"/>
<path d="M734.9,221.0 C735.1,221.8 735.8,224.2 735.8,225.8 C735.8,227.3 734.9,228.9 734.9,230.5 C734.9,232.1 735.8,233.7 735.8,235.2 C735.8,236.8 734.9,238.4 734.9,240.0 C734.9,241.6 735.8,243.2 735.8,244.8 C735.8,246.3 734.9,247.9 734.9,249.5 C734.9,251.1 735.8,252.7 735.8,254.2 C735.8,255.8 734.8,257.9 734.9,259.0 C735.0,260.1 736.0,260.3 736.5,260.7 C737.0,261.1 737.6,261.5 738.1,261.5 C738.6,261.5 739.2,261.1 739.7,260.7 C740.2,260.3 741.2,260.1 741.3,259.0 C741.4,257.9 740.4,255.8 740.4,254.2 C740.4,252.7 741.3,251.1 741.3,249.5 C741.3,247.9 740.4,246.3 740.4,244.8 C740.4,243.2 741.3,241.6 741.3,240.0 C741.3,238.4 740.4,236.8 740.4,235.2 C740.4,233.7 741.3,232.1 741.3,230.5 C741.3,228.9 740.4,227.3 740.4,225.8 C740.4,224.2 741.2,221.8 741.3,221.0" fill="#f3cf9f" stroke="#744824" stroke-width="1.2"/>
<path d="M744.5,221.0 C744.7,221.8 745.4,224.2 745.4,225.8 C745.4,227.3 744.5,228.9 744.5,230.5 C744.5,232.1 745.4,233.7 745.4,235.2 C745.4,236.8 744.5,238.4 744.5,240.0 C744.5,241.6 745.4,243.2 745.4,244.8 C745.4,246.3 744.5,247.9 744.5,249.5 C744.5,251.1 745.4,252.7 745.4,254.2 C745.4,255.8 744.4,257.9 744.5,259.0 C744.6,260.1 745.6,260.3 746.1,260.7 C746.6,261.1 747.2,261.5 747.7,261.5 C748.2,261.5 748.8,261.1 749.3,260.7 C749.8,260.3 750.8,260.1 750.9,259.0 C751.0,257.9 750.0,255.8 750.0,254.2 C750.0,252.7 750.9,251.1 750.9,249.5 C750.9,247.9 750.0,246.3 750.0,244.8 C750.0,243.2 750.9,241.6 750.9,240.0 C750.9,238.4 750.0,236.8 750.0,235.2 C750.0,233.7 750.9,232.1 750.9,230.5 C750.9,228.9 750.0,227.3 750.0,225.8 C750.0,224.2 750.8,221.8 750.9,221.0" fill="#f3cf9f" stroke="#744824" stroke-width="1.2"/>
<path d="M754.1,221.0 C754.3,221.8 755.0,224.2 755.0,225.8 C755.0,227.3 754.1,228.9 754.1,230.5 C754.1,232.1 755.0,233.7 755.0,235.2 C755.0,236.8 754.1,238.4 754.1,240.0 C754.1,241.6 755.0,243.2 755.0,244.8 C755.0,246.3 754.1,247.9 754.1,249.5 C754.1,251.1 755.0,252.7 755.0,254.2 C755.0,255.8 754.0,257.9 754.1,259.0 C754.2,260.1 755.2,260.3 755.7,260.7 C756.2,261.1 756.8,261.5 757.3,261.5 C757.8,261.5 758.4,261.1 758.9,260.7 C759.4,260.3 760.4,260.1 760.5,259.0 C760.6,257.9 759.6,255.8 759.6,254.2 C759.6,252.7 760.5,251.1 760.5,249.5 C760.5,247.9 759.6,246.3 759.6,244.8 C759.6,243.2 760.5,241.6 760.5,240.0 C760.5,238.4 759.6,236.8 759.6,235.2 C759.6,233.7 760.5,232.1 760.5,230.5 C760.5,228.9 759.6,227.3 759.6,225.8 C759.6,224.2 760.4,221.8 760.5,221.0" fill="#f3cf9f" stroke="#744824" stroke-width="1.2"/>
<path d="M763.7,221.0 C763.9,221.8 764.6,224.2 764.6,225.8 C764.6,227.3 763.7,228.9 763.7,230.5 C763.7,232.1 764.6,233.7 764.6,235.2 C764.6,236.8 763.7,238.4 763.7,240.0 C763.7,241.6 764.6,243.2 764.6,244.8 C764.6,246.3 763.7,247.9 763.7,249.5 C763.7,251.1 764.6,252.7 764.6,254.2 C764.6,255.8 763.6,257.9 763.7,259.0 C763.8,260.1 764.8,260.3 765.3,260.7 C765.8,261.1 766.4,261.5 766.9,261.5 C767.4,261.5 768.0,261.1 768.5,260.7 C769.0,260.3 770.0,260.1 770.1,259.0 C770.2,257.9 769.2,255.8 769.2,254.2 C769.2,252.7 770.1,251.1 770.1,249.5 C770.1,247.9 769.2,246.3 769.2,244.8 C769.2,243.2 770.1,241.6 770.1,240.0 C770.1,238.4 769.2,236.8 769.2,235.2 C769.2,233.7 770.1,232.1 770.1,230.5 C770.1,228.9 769.2,227.3 769.2,225.8 C769.2,224.2 770.0,221.8 770.1,221.0" fill="#f3cf9f" stroke="#744824" stroke-width="1.2"/>
<path d="M773.3,221.0 C773.5,221.8 774.2,224.2 774.2,225.8 C774.2,227.3 773.3,228.9 773.3,230.5 C773.3,232.1 774.2,233.7 774.2,235.2 C774.2,236.8 773.3,238.4 773.3,240.0 C773.3,241.6 774.2,243.2 774.2,244.8 C774.2,246.3 773.3,247.9 773.3,249.5 C773.3,251.1 774.2,252.7 774.2,254.2 C774.2,255.8 773.2,257.9 773.3,259.0 C773.4,260.1 774.4,260.3 774.9,260.7 C775.4,261.1 776.0,261.5 776.5,261.5 C777.0,261.5 777.6,261.1 778.1,260.7 C778.6,260.3 779.6,260.1 779.7,259.0 C779.8,257.9 778.8,255.8 778.8,254.2 C778.8,252.7 779.7,251.1 779.7,249.5 C779.7,247.9 778.8,246.3 778.8,244.8 C778.8,243.2 779.7,241.6 779.7,240.0 C779.7,238.4 778.8,236.8 778.8,235.2 C778.8,233.7 779.7,232.1 779.7,230.5 C779.7,228.9 778.8,227.3 778.8,225.8 C778.8,224.2 779.6,221.8 779.7,221.0" fill="#f3cf9f" stroke="#744824" stroke-width="1.2"/>
<path d="M782.9,221.0 C783.1,221.8 783.8,224.2 783.8,225.8 C783.8,227.3 782.9,228.9 782.9,230.5 C782.9,232.1 783.8,233.7 783.8,235.2 C783.8,236.8 782.9,238.4 782.9,240.0 C782.9,241.6 783.8,243.2 783.8,244.8 C783.8,246.3 782.9,247.9 782.9,249.5 C782.9,251.1 783.8,252.7 783.8,254.2 C783.8,255.8 782.8,257.9 782.9,259.0 C783.0,260.1 784.0,260.3 784.5,260.7 C785.0,261.1 785.6,261.5 786.1,261.5 C786.6,261.5 787.2,261.1 787.7,260.7 C788.2,260.3 789.2,260.1 789.3,259.0 C789.4,257.9 788.4,255.8 788.4,254.2 C788.4,252.7 789.3,251.1 789.3,249.5 C789.3,247.9 788.4,246.3 788.4,244.8 C788.4,243.2 789.3,241.6 789.3,240.0 C789.3,238.4 788.4,236.8 788.4,235.2 C788.4,233.7 789.3,232.1 789.3,230.5 C789.3,228.9 788.4,227.3 788.4,225.8 C788.4,224.2 789.2,221.8 789.3,221.0" fill="#f3cf9f" stroke="#744824" stroke-width="1.2"/>
<path d="M792.5,221.0 C792.7,221.8 793.4,224.2 793.4,225.8 C793.4,227.3 792.5,228.9 792.5,230.5 C792.5,232.1 793.4,233.7 793.4,235.2 C793.4,236.8 792.5,238.4 792.5,240.0 C792.5,241.6 793.4,243.2 793.4,244.8 C793.4,246.3 792.5,247.9 792.5,249.5 C792.5,251.1 793.4,252.7 793.4,254.2 C793.4,255.8 792.4,257.9 792.5,259.0 C792.6,260.1 793.6,260.3 794.1,260.7 C794.6,261.1 795.2,261.5 795.7,261.5 C796.2,261.5 796.8,261.1 797.3,260.7 C797.8,260.3 798.8,260.1 798.9,259.0 C799.0,257.9 798.0,255.8 798.0,254.2 C798.0,252.7 798.9,251.1 798.9,249.5 C798.9,247.9 798.0,246.3 798.0,244.8 C798.0,243.2 798.9,241.6 798.9,240.0 C798.9,238.4 798.0,236.8 798.0,235.2 C798.0,233.7 798.9,232.1 798.9,230.5 C798.9,228.9 798.0,227.3 798.0,225.8 C798.0,224.2 798.8,221.8 798.9,221.0" fill="#f3cf9f" stroke="#744824" stroke-width="1.2"/>
<path d="M802.1,221.0 C802.3,221.8 803.0,224.2 803.0,225.8 C803.0,227.3 802.1,228.9 802.1,230.5 C802.1,232.1 803.0,233.7 803.0,235.2 C803.0,236.8 802.1,238.4 802.1,240.0 C802.1,241.6 803.0,243.2 803.0,244.8 C803.0,246.3 802.1,247.9 802.1,249.5 C802.1,251.1 803.0,252.7 803.0,254.2 C803.0,255.8 802.0,257.9 802.1,259.0 C802.2,260.1 803.2,260.3 803.7,260.7 C804.2,261.1 804.8,261.5 805.3,261.5 C805.8,261.5 806.4,261.1 806.9,260.7 C807.4,260.3 808.4,260.1 808.5,259.0 C808.6,257.9 807.6,255.8 807.6,254.2 C807.6,252.7 808.5,251.1 808.5,249.5 C808.5,247.9 807.6,246.3 807.6,244.8 C807.6,243.2 808.5,241.6 808.5,240.0 C808.5,238.4 807.6,236.8 807.6,235.2 C807.6,233.7 808.5,232.1 808.5,230.5 C808.5,228.9 807.6,227.3 807.6,225.8 C807.6,224.2 808.4,221.8 808.5,221.0" fill="#f3cf9f" stroke="#744824" stroke-width="1.2"/>
<path d="M811.7,221.0 C811.9,221.8 812.6,224.2 812.6,225.8 C812.6,227.3 811.7,228.9 811.7,230.5 C811.7,232.1 812.6,233.7 812.6,235.2 C812.6,236.8 811.7,238.4 811.7,240.0 C811.7,241.6 812.6,243.2 812.6,244.8 C812.6,246.3 811.7,247.9 811.7,249.5 C811.7,251.1 812.6,252.7 812.6,254.2 C812.6,255.8 811.6,257.9 811.7,259.0 C811.8,260.1 812.8,260.3 813.3,260.7 C813.8,261.1 814.4,261.5 814.9,261.5 C815.4,261.5 816.0,261.1 816.5,260.7 C817.0,260.3 818.0,260.1 818.1,259.0 C818.2,257.9 817.2,255.8 817.2,254.2 C817.2,252.7 818.1,251.1 818.1,249.5 C818.1,247.9 817.2,246.3 817.2,244.8 C817.2,243.2 818.1,241.6 818.1,240.0 C818.1,238.4 817.2,236.8 817.2,235.2 C817.2,233.7 818.1,232.1 818.1,230.5 C818.1,228.9 817.2,227.3 817.2,225.8 C817.2,224.2 818.0,221.8 818.1,221.0" fill="#f3cf9f" stroke="#744824" stroke-width="1.2"/>
<path d="M821.3,221.0 C821.5,221.8 822.2,224.2 822.2,225.8 C822.2,227.3 821.3,228.9 821.3,230.5 C821.3,232.1 822.2,233.7 822.2,235.2 C822.2,236.8 821.3,238.4 821.3,240.0 C821.3,241.6 822.2,243.2 822.2,244.8 C822.2,246.3 821.3,247.9 821.3,249.5 C821.3,251.1 822.2,252.7 822.2,254.2 C822.2,255.8 821.2,257.9 821.3,259.0 C821.4,260.1 822.4,260.3 822.9,260.7 C823.4,261.1 824.0,261.5 824.5,261.5 C825.0,261.5 825.6,261.1 826.1,260.7 C826.6,260.3 827.6,260.1 827.7,259.0 C827.8,257.9 826.8,255.8 826.8,254.2 C826.8,252.7 827.7,251.1 827.7,249.5 C827.7,247.9 826.8,246.3 826.8,244.8 C826.8,243.2 827.7,241.6 827.7,240.0 C827.7,238.4 826.8,236.8 826.8,235.2 C826.8,233.7 827.7,232.1 827.7,230.5 C827.7,228.9 826.8,227.3 826.8,225.8 C826.8,224.2 827.6,221.8 827.7,221.0" fill="#f3cf9f" stroke="#744824" stroke-width="1.2"/>
<path d="M585.8,305.0 C586.0,304.2 586.7,301.8 586.7,300.2 C586.7,298.7 585.8,297.1 585.8,295.5 C585.8,293.9 586.7,292.3 586.7,290.8 C586.7,289.2 585.8,287.6 585.8,286.0 C585.8,284.4 586.7,282.8 586.7,281.2 C586.7,279.7 585.8,278.1 585.8,276.5 C585.8,274.9 586.7,273.3 586.7,271.8 C586.7,270.2 585.7,268.1 585.8,267.0 C585.9,265.9 586.9,265.7 587.4,265.3 C587.9,264.9 588.5,264.5 589.0,264.5 C589.5,264.5 590.1,264.9 590.6,265.3 C591.1,265.7 592.1,265.9 592.2,267.0 C592.3,268.1 591.3,270.2 591.3,271.8 C591.3,273.3 592.2,274.9 592.2,276.5 C592.2,278.1 591.3,279.7 591.3,281.2 C591.3,282.8 592.2,284.4 592.2,286.0 C592.2,287.6 591.3,289.2 591.3,290.8 C591.3,292.3 592.2,293.9 592.2,295.5 C592.2,297.1 591.3,298.7 591.3,300.2 C591.3,301.8 592.1,304.2 592.2,305.0" fill="#f3cf9f" stroke="#744824" stroke-width="1.2"/>
<path d="M595.4,305.0 C595.6,304.2 596.3,301.8 596.3,300.2 C596.3,298.7 595.4,297.1 595.4,295.5 C595.4,293.9 596.3,292.3 596.3,290.8 C596.3,289.2 595.4,287.6 595.4,286.0 C595.4,284.4 596.3,282.8 596.3,281.2 C596.3,279.7 595.4,278.1 595.4,276.5 C595.4,274.9 596.3,273.3 596.3,271.8 C596.3,270.2 595.3,268.1 595.4,267.0 C595.5,265.9 596.5,265.7 597.0,265.3 C597.5,264.9 598.1,264.5 598.6,264.5 C599.1,264.5 599.7,264.9 600.2,265.3 C600.7,265.7 601.7,265.9 601.8,267.0 C601.9,268.1 600.9,270.2 600.9,271.8 C600.9,273.3 601.8,274.9 601.8,276.5 C601.8,278.1 600.9,279.7 600.9,281.2 C600.9,282.8 601.8,284.4 601.8,286.0 C601.8,287.6 600.9,289.2 600.9,290.8 C600.9,292.3 601.8,293.9 601.8,295.5 C601.8,297.1 600.9,298.7 600.9,300.2 C600.9,301.8 601.7,304.2 601.8,305.0" fill="#f3cf9f" stroke="#744824" stroke-width="1.2"/>
<path d="M605.0,305.0 C605.2,304.2 605.9,301.8 605.9,300.2 C605.9,298.7 605.0,297.1 605.0,295.5 C605.0,293.9 605.9,292.3 605.9,290.8 C605.9,289.2 605.0,287.6 605.0,286.0 C605.0,284.4 605.9,282.8 605.9,281.2 C605.9,279.7 605.0,278.1 605.0,276.5 C605.0,274.9 605.9,273.3 605.9,271.8 C605.9,270.2 604.9,268.1 605.0,267.0 C605.1,265.9 606.1,265.7 606.6,265.3 C607.1,264.9 607.7,264.5 608.2,264.5 C608.7,264.5 609.3,264.9 609.8,265.3 C610.3,265.7 611.3,265.9 611.4,267.0 C611.5,268.1 610.5,270.2 610.5,271.8 C610.5,273.3 611.4,274.9 611.4,276.5 C611.4,278.1 610.5,279.7 610.5,281.2 C610.5,282.8 611.4,284.4 611.4,286.0 C611.4,287.6 610.5,289.2 610.5,290.8 C610.5,292.3 611.4,293.9 611.4,295.5 C611.4,297.1 610.5,298.7 610.5,300.2 C610.5,301.8 611.3,304.2 611.4,305.0" fill="#f3cf9f" stroke="#744824" stroke-width="1.2"/>
<path d="M614.6,305.0 C614.8,304.2 615.5,301.8 615.5,300.2 C615.5,298.7 614.6,297.1 614.6,295.5 C614.6,293.9 615.5,292.3 615.5,290.8 C615.5,289.2 614.6,287.6 614.6,286.0 C614.6,284.4 615.5,282.8 615.5,281.2 C615.5,279.7 614.6,278.1 614.6,276.5 C614.6,274.9 615.5,273.3 615.5,271.8 C615.5,270.2 614.5,268.1 614.6,267.0 C614.7,265.9 615.7,265.7 616.2,265.3 C616.7,264.9 617.3,264.5 617.8,264.5 C618.3,264.5 618.9,264.9 619.4,265.3 C619.9,265.7 620.9,265.9 621.0,267.0 C621.1,268.1 620.1,270.2 620.1,271.8 C620.1,273.3 621.0,274.9 621.0,276.5 C621.0,278.1 620.1,279.7 620.1,281.2 C620.1,282.8 621.0,284.4 621.0,286.0 C621.0,287.6 620.1,289.2 620.1,290.8 C620.1,292.3 621.0,293.9 621.0,295.5 C621.0,297.1 620.1,298.7 620.1,300.2 C620.1,301.8 620.9,304.2 621.0,305.0" fill="#f3cf9f" stroke="#744824" stroke-width="1.2"/>
<path d="M624.2,305.0 C624.4,304.2 625.1,301.8 625.1,300.2 C625.1,298.7 624.2,297.1 624.2,295.5 C624.2,293.9 625.1,292.3 625.1,290.8 C625.1,289.2 624.2,287.6 624.2,286.0 C624.2,284.4 625.1,282.8 625.1,281.2 C625.1,279.7 624.2,278.1 624.2,276.5 C624.2,274.9 625.1,273.3 625.1,271.8 C625.1,270.2 624.1,268.1 624.2,267.0 C624.3,265.9 625.3,265.7 625.8,265.3 C626.3,264.9 626.9,264.5 627.4,264.5 C627.9,264.5 628.5,264.9 629.0,265.3 C629.5,265.7 630.5,265.9 630.6,267.0 C630.7,268.1 629.7,270.2 629.7,271.8 C629.7,273.3 630.6,274.9 630.6,276.5 C630.6,278.1 629.7,279.7 629.7,281.2 C629.7,282.8 630.6,284.4 630.6,286.0 C630.6,287.6 629.7,289.2 629.7,290.8 C629.7,292.3 630.6,293.9 630.6,295.5 C630.6,297.1 629.7,298.7 629.7,300.2 C629.7,301.8 630.5,304.2 630.6,305.0" fill="#f3cf9f" stroke="#744824" stroke-width="1.2"/>
<path d="M633.8,305.0 C634.0,304.2 634.7,301.8 634.7,300.2 C634.7,298.7 633.8,297.1 633.8,295.5 C633.8,293.9 634.7,292.3 634.7,290.8 C634.7,289.2 633.8,287.6 633.8,286.0 C633.8,284.4 634.7,282.8 634.7,281.2 C634.7,279.7 633.8,278.1 633.8,276.5 C633.8,274.9 634.7,273.3 634.7,271.8 C634.7,270.2 633.7,268.1 633.8,267.0 C633.9,265.9 634.9,265.7 635.4,265.3 C635.9,264.9 636.5,264.5 637.0,264.5 C637.5,264.5 638.1,264.9 638.6,265.3 C639.1,265.7 640.1,265.9 640.2,267.0 C640.3,268.1 639.3,270.2 639.3,271.8 C639.3,273.3 640.2,274.9 640.2,276.5 C640.2,278.1 639.3,279.7 639.3,281.2 C639.3,282.8 640.2,284.4 640.2,286.0 C640.2,287.6 639.3,289.2 639.3,290.8 C639.3,292.3 640.2,293.9 640.2,295.5 C640.2,297.1 639.3,298.7 639.3,300.2 C639.3,301.8 640.1,304.2 640.2,305.0" fill="#f3cf9f" stroke="#744824" stroke-width="1.2"/>
<path d="M643.4,305.0 C643.6,304.2 644.3,301.8 644.3,300.2 C644.3,298.7 643.4,297.1 643.4,295.5 C643.4,293.9 644.3,292.3 644.3,290.8 C644.3,289.2 643.4,287.6 643.4,286.0 C643.4,284.4 644.3,282.8 644.3,281.2 C644.3,279.7 643.4,278.1 643.4,276.5 C643.4,274.9 644.3,273.3 644.3,271.8 C644.3,270.2 643.3,268.1 643.4,267.0 C643.5,265.9 644.5,265.7 645.0,265.3 C645.5,264.9 646.1,264.5 646.6,264.5 C647.1,264.5 647.7,264.9 648.2,265.3 C648.7,265.7 649.7,265.9 649.8,267.0 C649.9,268.1 648.9,270.2 648.9,271.8 C648.9,273.3 649.8,274.9 649.8,276.5 C649.8,278.1 648.9,279.7 648.9,281.2 C648.9,282.8 649.8,284.4 649.8,286.0 C649.8,287.6 648.9,289.2 648.9,290.8 C648.9,292.3 649.8,293.9 649.8,295.5 C649.8,297.1 648.9,298.7 648.9,300.2 C648.9,301.8 649.7,304.2 649.8,305.0" fill="#f3cf9f" stroke="#744824" stroke-width="1.2"/>
<path d="M653.0,305.0 C653.2,304.2 653.9,301.8 653.9,300.2 C653.9,298.7 653.0,297.1 653.0,295.5 C653.0,293.9 653.9,292.3 653.9,290.8 C653.9,289.2 653.0,287.6 653.0,286.0 C653.0,284.4 653.9,282.8 653.9,281.2 C653.9,279.7 653.0,278.1 653.0,276.5 C653.0,274.9 653.9,273.3 653.9,271.8 C653.9,270.2 652.9,268.1 653.0,267.0 C653.1,265.9 654.1,265.7 654.6,265.3 C655.1,264.9 655.7,264.5 656.2,264.5 C656.7,264.5 657.3,264.9 657.8,265.3 C658.3,265.7 659.3,265.9 659.4,267.0 C659.5,268.1 658.5,270.2 658.5,271.8 C658.5,273.3 659.4,274.9 659.4,276.5 C659.4,278.1 658.5,279.7 658.5,281.2 C658.5,282.8 659.4,284.4 659.4,286.0 C659.4,287.6 658.5,289.2 658.5,290.8 C658.5,292.3 659.4,293.9 659.4,295.5 C659.4,297.1 658.5,298.7 658.5,300.2 C658.5,301.8 659.3,304.2 659.4,305.0" fill="#f3cf9f" stroke="#744824" stroke-width="1.2"/>
<path d="M662.6,305.0 C662.8,304.2 663.5,301.8 663.5,300.2 C663.5,298.7 662.6,297.1 662.6,295.5 C662.6,293.9 663.5,292.3 663.5,290.8 C663.5,289.2 662.6,287.6 662.6,286.0 C662.6,284.4 663.5,282.8 663.5,281.2 C663.5,279.7 662.6,278.1 662.6,276.5 C662.6,274.9 663.5,273.3 663.5,271.8 C663.5,270.2 662.5,268.1 662.6,267.0 C662.7,265.9 663.7,265.7 664.2,265.3 C664.7,264.9 665.3,264.5 665.8,264.5 C666.3,264.5 666.9,264.9 667.4,265.3 C667.9,265.7 668.9,265.9 669.0,267.0 C669.1,268.1 668.1,270.2 668.1,271.8 C668.1,273.3 669.0,274.9 669.0,276.5 C669.0,278.1 668.1,279.7 668.1,281.2 C668.1,282.8 669.0,284.4 669.0,286.0 C669.0,287.6 668.1,289.2 668.1,290.8 C668.1,292.3 669.0,293.9 669.0,295.5 C669.0,297.1 668.1,298.7 668.1,300.2 C668.1,301.8 668.9,304.2 669.0,305.0" fill="#f3cf9f" stroke="#744824" stroke-width="1.2"/>
<path d="M672.2,305.0 C672.4,304.2 673.1,301.8 673.1,300.2 C673.1,298.7 672.2,297.1 672.2,295.5 C672.2,293.9 673.1,292.3 673.1,290.8 C673.1,289.2 672.2,287.6 672.2,286.0 C672.2,284.4 673.1,282.8 673.1,281.2 C673.1,279.7 672.2,278.1 672.2,276.5 C672.2,274.9 673.1,273.3 673.1,271.8 C673.1,270.2 672.1,268.1 672.2,267.0 C672.3,265.9 673.3,265.7 673.8,265.3 C674.3,264.9 674.9,264.5 675.4,264.5 C675.9,264.5 676.5,264.9 677.0,265.3 C677.5,265.7 678.5,265.9 678.6,267.0 C678.7,268.1 677.7,270.2 677.7,271.8 C677.7,273.3 678.6,274.9 678.6,276.5 C678.6,278.1 677.7,279.7 677.7,281.2 C677.7,282.8 678.6,284.4 678.6,286.0 C678.6,287.6 677.7,289.2 677.7,290.8 C677.7,292.3 678.6,293.9 678.6,295.5 C678.6,297.1 677.7,298.7 677.7,300.2 C677.7,301.8 678.5,304.2 678.6,305.0" fill="#f3cf9f" stroke="#744824" stroke-width="1.2"/>
<path d="M681.8,305.0 C682.0,304.2 682.7,301.8 682.7,300.2 C682.7,298.7 681.8,297.1 681.8,295.5 C681.8,293.9 682.7,292.3 682.7,290.8 C682.7,289.2 681.8,287.6 681.8,286.0 C681.8,284.4 682.7,282.8 682.7,281.2 C682.7,279.7 681.8,278.1 681.8,276.5 C681.8,274.9 682.7,273.3 682.7,271.8 C682.7,270.2 681.7,268.1 681.8,267.0 C681.9,265.9 682.9,265.7 683.4,265.3 C683.9,264.9 684.5,264.5 685.0,264.5 C685.5,264.5 686.1,264.9 686.6,265.3 C687.1,265.7 688.1,265.9 688.2,267.0 C688.3,268.1 687.3,270.2 687.3,271.8 C687.3,273.3 688.2,274.9 688.2,276.5 C688.2,278.1 687.3,279.7 687.3,281.2 C687.3,282.8 688.2,284.4 688.2,286.0 C688.2,287.6 687.3,289.2 687.3,290.8 C687.3,292.3 688.2,293.9 688.2,295.5 C688.2,297.1 687.3,298.7 687.3,300.2 C687.3,301.8 688.1,304.2 688.2,305.0" fill="#f3cf9f" stroke="#744824" stroke-width="1.2"/>
<path d="M691.4,305.0 C691.6,304.2 692.3,301.8 692.3,300.2 C692.3,298.7 691.4,297.1 691.4,295.5 C691.4,293.9 692.3,292.3 692.3,290.8 C692.3,289.2 691.4,287.6 691.4,286.0 C691.4,284.4 692.3,282.8 692.3,281.2 C692.3,279.7 691.4,278.1 691.4,276.5 C691.4,274.9 692.3,273.3 692.3,271.8 C692.3,270.2 691.3,268.1 691.4,267.0 C691.5,265.9 692.5,265.7 693.0,265.3 C693.5,264.9 694.1,264.5 694.6,264.5 C695.1,264.5 695.7,264.9 696.2,265.3 C696.7,265.7 697.7,265.9 697.8,267.0 C697.9,268.1 696.9,270.2 696.9,271.8 C696.9,273.3 697.8,274.9 697.8,276.5 C697.8,278.1 696.9,279.7 696.9,281.2 C696.9,282.8 697.8,284.4 697.8,286.0 C697.8,287.6 696.9,289.2 696.9,290.8 C696.9,292.3 697.8,293.9 697.8,295.5 C697.8,297.1 696.9,298.7 696.9,300.2 C696.9,301.8 697.7,304.2 697.8,305.0" fill="#f3cf9f" stroke="#744824" stroke-width="1.2"/>
<path d="M701.0,305.0 C701.2,304.2 701.9,301.8 701.9,300.2 C701.9,298.7 701.0,297.1 701.0,295.5 C701.0,293.9 701.9,292.3 701.9,290.8 C701.9,289.2 701.0,287.6 701.0,286.0 C701.0,284.4 701.9,282.8 701.9,281.2 C701.9,279.7 701.0,278.1 701.0,276.5 C701.0,274.9 701.9,273.3 701.9,271.8 C701.9,270.2 700.9,268.1 701.0,267.0 C701.1,265.9 702.1,265.7 702.6,265.3 C703.1,264.9 703.7,264.5 704.2,264.5 C704.7,264.5 705.3,264.9 705.8,265.3 C706.3,265.7 707.3,265.9 707.4,267.0 C707.5,268.1 706.5,270.2 706.5,271.8 C706.5,273.3 707.4,274.9 707.4,276.5 C707.4,278.1 706.5,279.7 706.5,281.2 C706.5,282.8 707.4,284.4 707.4,286.0 C707.4,287.6 706.5,289.2 706.5,290.8 C706.5,292.3 707.4,293.9 707.4,295.5 C707.4,297.1 706.5,298.7 706.5,300.2 C706.5,301.8 707.3,304.2 707.4,305.0" fill="#f3cf9f" stroke="#744824" stroke-width="1.2"/>
<path d="M710.6,305.0 C710.8,304.2 711.5,301.8 711.5,300.2 C711.5,298.7 710.6,297.1 710.6,295.5 C710.6,293.9 711.5,292.3 711.5,290.8 C711.5,289.2 710.6,287.6 710.6,286.0 C710.6,284.4 711.5,282.8 711.5,281.2 C711.5,279.7 710.6,278.1 710.6,276.5 C710.6,274.9 711.5,273.3 711.5,271.8 C711.5,270.2 710.5,268.1 710.6,267.0 C710.7,265.9 711.7,265.7 712.2,265.3 C712.7,264.9 713.3,264.5 713.8,264.5 C714.3,264.5 714.9,264.9 715.4,265.3 C715.9,265.7 716.9,265.9 717.0,267.0 C717.1,268.1 716.1,270.2 716.1,271.8 C716.1,273.3 717.0,274.9 717.0,276.5 C717.0,278.1 716.1,279.7 716.1,281.2 C716.1,282.8 717.0,284.4 717.0,286.0 C717.0,287.6 716.1,289.2 716.1,290.8 C716.1,292.3 717.0,293.9 717.0,295.5 C717.0,297.1 716.1,298.7 716.1,300.2 C716.1,301.8 716.9,304.2 717.0,305.0" fill="#f3cf9f" stroke="#744824" stroke-width="1.2"/>
<path d="M720.2,305.0 C720.4,304.2 721.1,301.8 721.1,300.2 C721.1,298.7 720.2,297.1 720.2,295.5 C720.2,293.9 721.1,292.3 721.1,290.8 C721.1,289.2 720.2,287.6 720.2,286.0 C720.2,284.4 721.1,282.8 721.1,281.2 C721.1,279.7 720.2,278.1 720.2,276.5 C720.2,274.9 721.1,273.3 721.1,271.8 C721.1,270.2 720.1,268.1 720.2,267.0 C720.3,265.9 721.3,265.7 721.8,265.3 C722.3,264.9 722.9,264.5 723.4,264.5 C723.9,264.5 724.5,264.9 725.0,265.3 C725.5,265.7 726.5,265.9 726.6,267.0 C726.7,268.1 725.7,270.2 725.7,271.8 C725.7,273.3 726.6,274.9 726.6,276.5 C726.6,278.1 725.7,279.7 725.7,281.2 C725.7,282.8 726.6,284.4 726.6,286.0 C726.6,287.6 725.7,289.2 725.7,290.8 C725.7,292.3 726.6,293.9 726.6,295.5 C726.6,297.1 725.7,298.7 725.7,300.2 C725.7,301.8 726.5,304.2 726.6,305.0" fill="#f3cf9f" stroke="#744824" stroke-width="1.2"/>
<path d="M729.8,305.0 C730.0,304.2 730.7,301.8 730.7,300.2 C730.7,298.7 729.8,297.1 729.8,295.5 C729.8,293.9 730.7,292.3 730.7,290.8 C730.7,289.2 729.8,287.6 729.8,286.0 C729.8,284.4 730.7,282.8 730.7,281.2 C730.7,279.7 729.8,278.1 729.8,276.5 C729.8,274.9 730.7,273.3 730.7,271.8 C730.7,270.2 729.7,268.1 729.8,267.0 C729.9,265.9 730.9,265.7 731.4,265.3 C731.9,264.9 732.5,264.5 733.0,264.5 C733.5,264.5 734.1,264.9 734.6,265.3 C735.1,265.7 736.1,265.9 736.2,267.0 C736.3,268.1 735.3,270.2 735.3,271.8 C735.3,273.3 736.2,274.9 736.2,276.5 C736.2,278.1 735.3,279.7 735.3,281.2 C735.3,282.8 736.2,284.4 736.2,286.0 C736.2,287.6 735.3,289.2 735.3,290.8 C735.3,292.3 736.2,293.9 736.2,295.5 C736.2,297.1 735.3,298.7 735.3,300.2 C735.3,301.8 736.1,304.2 736.2,305.0" fill="#f3cf9f" stroke="#744824" stroke-width="1.2"/>
<path d="M739.4,305.0 C739.6,304.2 740.3,301.8 740.3,300.2 C740.3,298.7 739.4,297.1 739.4,295.5 C739.4,293.9 740.3,292.3 740.3,290.8 C740.3,289.2 739.4,287.6 739.4,286.0 C739.4,284.4 740.3,282.8 740.3,281.2 C740.3,279.7 739.4,278.1 739.4,276.5 C739.4,274.9 740.3,273.3 740.3,271.8 C740.3,270.2 739.3,268.1 739.4,267.0 C739.5,265.9 740.5,265.7 741.0,265.3 C741.5,264.9 742.1,264.5 742.6,264.5 C743.1,264.5 743.7,264.9 744.2,265.3 C744.7,265.7 745.7,265.9 745.8,267.0 C745.9,268.1 744.9,270.2 744.9,271.8 C744.9,273.3 745.8,274.9 745.8,276.5 C745.8,278.1 744.9,279.7 744.9,281.2 C744.9,282.8 745.8,284.4 745.8,286.0 C745.8,287.6 744.9,289.2 744.9,290.8 C744.9,292.3 745.8,293.9 745.8,295.5 C745.8,297.1 744.9,298.7 744.9,300.2 C744.9,301.8 745.7,304.2 745.8,305.0" fill="#f3cf9f" stroke="#744824" stroke-width="1.2"/>
<path d="M749.0,305.0 C749.2,304.2 749.9,301.8 749.9,300.2 C749.9,298.7 749.0,297.1 749.0,295.5 C749.0,293.9 749.9,292.3 749.9,290.8 C749.9,289.2 749.0,287.6 749.0,286.0 C749.0,284.4 749.9,282.8 749.9,281.2 C749.9,279.7 749.0,278.1 749.0,276.5 C749.0,274.9 749.9,273.3 749.9,271.8 C749.9,270.2 748.9,268.1 749.0,267.0 C749.1,265.9 750.1,265.7 750.6,265.3 C751.1,264.9 751.7,264.5 752.2,264.5 C752.7,264.5 753.3,264.9 753.8,265.3 C754.3,265.7 755.3,265.9 755.4,267.0 C755.5,268.1 754.5,270.2 754.5,271.8 C754.5,273.3 755.4,274.9 755.4,276.5 C755.4,278.1 754.5,279.7 754.5,281.2 C754.5,282.8 755.4,284.4 755.4,286.0 C755.4,287.6 754.5,289.2 754.5,290.8 C754.5,292.3 755.4,293.9 755.4,295.5 C755.4,297.1 754.5,298.7 754.5,300.2 C754.5,301.8 755.3,304.2 755.4,305.0" fill="#f3cf9f" stroke="#744824" stroke-width="1.2"/>
<path d="M758.6,305.0 C758.8,304.2 759.5,301.8 759.5,300.2 C759.5,298.7 758.6,297.1 758.6,295.5 C758.6,293.9 759.5,292.3 759.5,290.8 C759.5,289.2 758.6,287.6 758.6,286.0 C758.6,284.4 759.5,282.8 759.5,281.2 C759.5,279.7 758.6,278.1 758.6,276.5 C758.6,274.9 759.5,273.3 759.5,271.8 C759.5,270.2 758.5,268.1 758.6,267.0 C758.7,265.9 759.7,265.7 760.2,265.3 C760.7,264.9 761.3,264.5 761.8,264.5 C762.3,264.5 762.9,264.9 763.4,265.3 C763.9,265.7 764.9,265.9 765.0,267.0 C765.1,268.1 764.1,270.2 764.1,271.8 C764.1,273.3 765.0,274.9 765.0,276.5 C765.0,278.1 764.1,279.7 764.1,281.2 C764.1,282.8 765.0,284.4 765.0,286.0 C765.0,287.6 764.1,289.2 764.1,290.8 C764.1,292.3 765.0,293.9 765.0,295.5 C765.0,297.1 764.1,298.7 764.1,300.2 C764.1,301.8 764.9,304.2 765.0,305.0" fill="#f3cf9f" stroke="#744824" stroke-width="1.2"/>
<path d="M768.2,305.0 C768.4,304.2 769.1,301.8 769.1,300.2 C769.1,298.7 768.2,297.1 768.2,295.5 C768.2,293.9 769.1,292.3 769.1,290.8 C769.1,289.2 768.2,287.6 768.2,286.0 C768.2,284.4 769.1,282.8 769.1,281.2 C769.1,279.7 768.2,278.1 768.2,276.5 C768.2,274.9 769.1,273.3 769.1,271.8 C769.1,270.2 768.1,268.1 768.2,267.0 C768.3,265.9 769.3,265.7 769.8,265.3 C770.3,264.9 770.9,264.5 771.4,264.5 C771.9,264.5 772.5,264.9 773.0,265.3 C773.5,265.7 774.5,265.9 774.6,267.0 C774.7,268.1 773.7,270.2 773.7,271.8 C773.7,273.3 774.6,274.9 774.6,276.5 C774.6,278.1 773.7,279.7 773.7,281.2 C773.7,282.8 774.6,284.4 774.6,286.0 C774.6,287.6 773.7,289.2 773.7,290.8 C773.7,292.3 774.6,293.9 774.6,295.5 C774.6,297.1 773.7,298.7 773.7,300.2 C773.7,301.8 774.5,304.2 774.6,305.0" fill="#f3cf9f" stroke="#744824" stroke-width="1.2"/>
<path d="M777.8,305.0 C778.0,304.2 778.7,301.8 778.7,300.2 C778.7,298.7 777.8,297.1 777.8,295.5 C777.8,293.9 778.7,292.3 778.7,290.8 C778.7,289.2 777.8,287.6 777.8,286.0 C777.8,284.4 778.7,282.8 778.7,281.2 C778.7,279.7 777.8,278.1 777.8,276.5 C777.8,274.9 778.7,273.3 778.7,271.8 C778.7,270.2 777.7,268.1 777.8,267.0 C777.9,265.9 778.9,265.7 779.4,265.3 C779.9,264.9 780.5,264.5 781.0,264.5 C781.5,264.5 782.1,264.9 782.6,265.3 C783.1,265.7 784.1,265.9 784.2,267.0 C784.3,268.1 783.3,270.2 783.3,271.8 C783.3,273.3 784.2,274.9 784.2,276.5 C784.2,278.1 783.3,279.7 783.3,281.2 C783.3,282.8 784.2,284.4 784.2,286.0 C784.2,287.6 783.3,289.2 783.3,290.8 C783.3,292.3 784.2,293.9 784.2,295.5 C784.2,297.1 783.3,298.7 783.3,300.2 C783.3,301.8 784.1,304.2 784.2,305.0" fill="#f3cf9f" stroke="#744824" stroke-width="1.2"/>
<path d="M787.4,305.0 C787.6,304.2 788.3,301.8 788.3,300.2 C788.3,298.7 787.4,297.1 787.4,295.5 C787.4,293.9 788.3,292.3 788.3,290.8 C788.3,289.2 787.4,287.6 787.4,286.0 C787.4,284.4 788.3,282.8 788.3,281.2 C788.3,279.7 787.4,278.1 787.4,276.5 C787.4,274.9 788.3,273.3 788.3,271.8 C788.3,270.2 787.3,268.1 787.4,267.0 C787.5,265.9 788.5,265.7 789.0,265.3 C789.5,264.9 790.1,264.5 790.6,264.5 C791.1,264.5 791.7,264.9 792.2,265.3 C792.7,265.7 793.7,265.9 793.8,267.0 C793.9,268.1 792.9,270.2 792.9,271.8 C792.9,273.3 793.8,274.9 793.8,276.5 C793.8,278.1 792.9,279.7 792.9,281.2 C792.9,282.8 793.8,284.4 793.8,286.0 C793.8,287.6 792.9,289.2 792.9,290.8 C792.9,292.3 793.8,293.9 793.8,295.5 C793.8,297.1 792.9,298.7 792.9,300.2 C792.9,301.8 793.7,304.2 793.8,305.0" fill="#f3cf9f" stroke="#744824" stroke-width="1.2"/>
<path d="M797.0,305.0 C797.2,304.2 797.9,301.8 797.9,300.2 C797.9,298.7 797.0,297.1 797.0,295.5 C797.0,293.9 797.9,292.3 797.9,290.8 C797.9,289.2 797.0,287.6 797.0,286.0 C797.0,284.4 797.9,282.8 797.9,281.2 C797.9,279.7 797.0,278.1 797.0,276.5 C797.0,274.9 797.9,273.3 797.9,271.8 C797.9,270.2 796.9,268.1 797.0,267.0 C797.1,265.9 798.1,265.7 798.6,265.3 C799.1,264.9 799.7,264.5 800.2,264.5 C800.7,264.5 801.3,264.9 801.8,265.3 C802.3,265.7 803.3,265.9 803.4,267.0 C803.5,268.1 802.5,270.2 802.5,271.8 C802.5,273.3 803.4,274.9 803.4,276.5 C803.4,278.1 802.5,279.7 802.5,281.2 C802.5,282.8 803.4,284.4 803.4,286.0 C803.4,287.6 802.5,289.2 802.5,290.8 C802.5,292.3 803.4,293.9 803.4,295.5 C803.4,297.1 802.5,298.7 802.5,300.2 C802.5,301.8 803.3,304.2 803.4,305.0" fill="#f3cf9f" stroke="#744824" stroke-width="1.2"/>
<path d="M806.6,305.0 C806.8,304.2 807.5,301.8 807.5,300.2 C807.5,298.7 806.6,297.1 806.6,295.5 C806.6,293.9 807.5,292.3 807.5,290.8 C807.5,289.2 806.6,287.6 806.6,286.0 C806.6,284.4 807.5,282.8 807.5,281.2 C807.5,279.7 806.6,278.1 806.6,276.5 C806.6,274.9 807.5,273.3 807.5,271.8 C807.5,270.2 806.5,268.1 806.6,267.0 C806.7,265.9 807.7,265.7 808.2,265.3 C808.7,264.9 809.3,264.5 809.8,264.5 C810.3,264.5 810.9,264.9 811.4,265.3 C811.9,265.7 812.9,265.9 813.0,267.0 C813.1,268.1 812.1,270.2 812.1,271.8 C812.1,273.3 813.0,274.9 813.0,276.5 C813.0,278.1 812.1,279.7 812.1,281.2 C812.1,282.8 813.0,284.4 813.0,286.0 C813.0,287.6 812.1,289.2 812.1,290.8 C812.1,292.3 813.0,293.9 813.0,295.5 C813.0,297.1 812.1,298.7 812.1,300.2 C812.1,301.8 812.9,304.2 813.0,305.0" fill="#f3cf9f" stroke="#744824" stroke-width="1.2"/>
<path d="M816.2,305.0 C816.4,304.2 817.1,301.8 817.1,300.2 C817.1,298.7 816.2,297.1 816.2,295.5 C816.2,293.9 817.1,292.3 817.1,290.8 C817.1,289.2 816.2,287.6 816.2,286.0 C816.2,284.4 817.1,282.8 817.1,281.2 C817.1,279.7 816.2,278.1 816.2,276.5 C816.2,274.9 817.1,273.3 817.1,271.8 C817.1,270.2 816.1,268.1 816.2,267.0 C816.3,265.9 817.3,265.7 817.8,265.3 C818.3,264.9 818.9,264.5 819.4,264.5 C819.9,264.5 820.5,264.9 821.0,265.3 C821.5,265.7 822.5,265.9 822.6,267.0 C822.7,268.1 821.7,270.2 821.7,271.8 C821.7,273.3 822.6,274.9 822.6,276.5 C822.6,278.1 821.7,279.7 821.7,281.2 C821.7,282.8 822.6,284.4 822.6,286.0 C822.6,287.6 821.7,289.2 821.7,290.8 C821.7,292.3 822.6,293.9 822.6,295.5 C822.6,297.1 821.7,298.7 821.7,300.2 C821.7,301.8 822.5,304.2 822.6,305.0" fill="#f3cf9f" stroke="#744824" stroke-width="1.2"/>
<path d="M825.8,305.0 C826.0,304.2 826.7,301.8 826.7,300.2 C826.7,298.7 825.8,297.1 825.8,295.5 C825.8,293.9 826.7,292.3 826.7,290.8 C826.7,289.2 825.8,287.6 825.8,286.0 C825.8,284.4 826.7,282.8 826.7,281.2 C826.7,279.7 825.8,278.1 825.8,276.5 C825.8,274.9 826.7,273.3 826.7,271.8 C826.7,270.2 825.7,268.1 825.8,267.0 C825.9,265.9 826.9,265.7 827.4,265.3 C827.9,264.9 828.5,264.5 829.0,264.5 C829.5,264.5 830.1,264.9 830.6,265.3 C831.1,265.7 832.1,265.9 832.2,267.0 C832.3,268.1 831.3,270.2 831.3,271.8 C831.3,273.3 832.2,274.9 832.2,276.5 C832.2,278.1 831.3,279.7 831.3,281.2 C831.3,282.8 832.2,284.4 832.2,286.0 C832.2,287.6 831.3,289.2 831.3,290.8 C831.3,292.3 832.2,293.9 832.2,295.5 C832.2,297.1 831.3,298.7 831.3,300.2 C831.3,301.8 832.1,304.2 832.2,305.0" fill="#f3cf9f" stroke="#744824" stroke-width="1.2"/>
<circle cx="589.3" cy="213.6" r="9.4" fill="url(#head)" stroke="#5e4030" stroke-width="1.2"/>
<circle cx="608.5" cy="213.6" r="9.4" fill="url(#head)" stroke="#5e4030" stroke-width="1.2"/>
<circle cx="627.7" cy="213.6" r="9.4" fill="url(#head)" stroke="#5e4030" stroke-width="1.2"/>
<circle cx="646.9" cy="213.6" r="9.4" fill="url(#head)" stroke="#5e4030" stroke-width="1.2"/>
<circle cx="666.1" cy="213.6" r="9.4" fill="url(#head)" stroke="#5e4030" stroke-width="1.2"/>
<circle cx="685.3" cy="213.6" r="9.4" fill="url(#head)" stroke="#5e4030" stroke-width="1.2"/>
<circle cx="704.5" cy="213.6" r="9.4" fill="url(#head)" stroke="#5e4030" stroke-width="1.2"/>
<circle cx="723.7" cy="213.6" r="9.4" fill="url(#head)" stroke="#5e4030" stroke-width="1.2"/>
<circle cx="742.9" cy="213.6" r="9.4" fill="url(#head)" stroke="#5e4030" stroke-width="1.2"/>
<circle cx="762.1" cy="213.6" r="9.4" fill="url(#head)" stroke="#5e4030" stroke-width="1.2"/>
<circle cx="781.3" cy="213.6" r="9.4" fill="url(#head)" stroke="#5e4030" stroke-width="1.2"/>
<circle cx="800.5" cy="213.6" r="9.4" fill="url(#head)" stroke="#5e4030" stroke-width="1.2"/>
<circle cx="819.7" cy="213.6" r="9.4" fill="url(#head)" stroke="#5e4030" stroke-width="1.2"/>
<circle cx="593.8" cy="312.0" r="9.4" fill="url(#head)" stroke="#5e4030" stroke-width="1.2"/>
<circle cx="613.0" cy="312.0" r="9.4" fill="url(#head)" stroke="#5e4030" stroke-width="1.2"/>
<circle cx="632.2" cy="312.0" r="9.4" fill="url(#head)" stroke="#5e4030" stroke-width="1.2"/>
<circle cx="651.4" cy="312.0" r="9.4" fill="url(#head)" stroke="#5e4030" stroke-width="1.2"/>
<circle cx="670.6" cy="312.0" r="9.4" fill="url(#head)" stroke="#5e4030" stroke-width="1.2"/>
<circle cx="689.8" cy="312.0" r="9.4" fill="url(#head)" stroke="#5e4030" stroke-width="1.2"/>
<circle cx="709.0" cy="312.0" r="9.4" fill="url(#head)" stroke="#5e4030" stroke-width="1.2"/>
<circle cx="728.2" cy="312.0" r="9.4" fill="url(#head)" stroke="#5e4030" stroke-width="1.2"/>
<circle cx="747.4" cy="312.0" r="9.4" fill="url(#head)" stroke="#5e4030" stroke-width="1.2"/>
<circle cx="766.6" cy="312.0" r="9.4" fill="url(#head)" stroke="#5e4030" stroke-width="1.2"/>
<circle cx="785.8" cy="312.0" r="9.4" fill="url(#head)" stroke="#5e4030" stroke-width="1.2"/>
<circle cx="805.0" cy="312.0" r="9.4" fill="url(#head)" stroke="#5e4030" stroke-width="1.2"/>
<circle cx="824.2" cy="312.0" r="9.4" fill="url(#head)" stroke="#5e4030" stroke-width="1.2"/>
</g>
<path d="M94.0,166.5 L113.0,168.5 L133.0,166.5 L140.0,240.0 L125.0,343.0 L110.0,343.0 L92.0,240.0Z" fill="url(#chan)" stroke="#5a3020" stroke-width="1"/>
<path d="M80.8,163.3 C84.9,163.2 90.6,164.6 93.6,166.0 C96.6,167.4 97.6,169.3 98.7,171.7 C99.8,174.1 100.2,177.0 100.0,180.6 C99.8,184.2 98.4,189.7 97.4,193.5 C96.4,197.3 95.0,200.1 94.2,203.7 C93.4,207.3 92.1,211.7 92.7,215.3 C93.3,218.9 96.6,222.9 97.8,225.5 C99.0,228.1 99.9,228.2 99.7,230.6 C99.5,232.9 97.1,235.4 96.5,239.6 C95.9,243.8 95.8,251.8 96.0,256.0 C96.2,260.2 96.2,262.2 97.5,265.0 C98.8,267.8 101.4,270.2 104.0,273.0 C106.6,275.8 111.0,278.0 113.0,282.0 C115.0,286.0 115.1,290.7 115.8,297.0 C116.5,303.3 116.9,314.0 117.0,320.0 C117.1,326.0 117.2,329.5 116.5,333.0 C115.8,336.5 115.1,339.1 113.0,341.0 C110.9,342.9 107.3,343.8 104.0,344.2 C100.7,344.6 96.0,344.7 93.0,343.5 C90.0,342.3 87.9,340.9 86.0,337.0 C84.1,333.1 82.8,327.0 81.5,320.0 C80.2,313.0 80.7,306.7 78.3,295.0 C75.9,283.3 70.5,263.3 67.0,250.0 C63.5,236.7 59.0,223.3 57.5,215.0 C56.0,206.7 57.5,204.7 57.7,200.0 C58.0,195.3 58.1,191.3 59.0,187.0 C59.9,182.7 61.1,177.6 62.8,174.2 C64.5,170.8 66.2,168.3 69.2,166.5 C72.2,164.7 76.7,163.4 80.8,163.3Z" fill="url(#lobe)" stroke="#54402f" stroke-width="1.15"/>
<path d="M140.0,163.5 C144.1,163.2 151.0,163.6 155.0,165.0 C159.0,166.4 161.6,166.6 164.0,172.0 C166.4,177.4 169.1,188.9 169.4,197.7 C169.7,206.5 167.2,216.3 166.0,225.0 C164.8,233.7 163.8,238.3 162.0,250.0 C160.2,261.7 156.9,283.3 155.3,295.0 C153.8,306.7 153.9,313.5 152.7,320.0 C151.5,326.5 149.8,330.2 148.0,334.0 C146.2,337.8 144.7,340.6 142.0,342.5 C139.3,344.4 135.2,345.1 132.0,345.2 C128.8,345.3 125.1,344.5 123.0,343.0 C120.9,341.5 120.2,338.7 119.5,336.0 C118.8,333.3 118.9,333.0 118.9,327.0 C119.0,321.0 119.8,306.8 119.8,300.0 C119.8,293.2 117.6,289.8 119.0,286.0 C120.4,282.2 125.4,280.0 128.0,277.0 C130.6,274.0 132.9,271.5 134.5,268.0 C136.1,264.5 137.3,260.5 137.6,256.0 C137.9,251.5 137.8,245.3 136.3,240.9 C134.8,236.5 130.0,232.4 128.6,229.4 C127.2,226.4 127.2,225.3 128.0,223.0 C128.8,220.7 133.0,218.5 133.7,215.3 C134.4,212.1 133.2,207.8 132.4,203.7 C131.6,199.6 129.7,194.8 129.0,191.0 C128.3,187.2 127.8,184.6 128.0,180.6 C128.2,176.6 128.5,169.8 130.5,167.0 C132.5,164.2 135.9,163.8 140.0,163.5Z" fill="url(#lobe)" stroke="#54402f" stroke-width="1.15"/>
<path d="M117.9,224.9 L133.0,238.0 L132.5,265.0 L117.3,277.6 L101.9,264.0 L101.9,239.0Z" fill="#3b1a12" stroke="#3b1a12" stroke-width="1.0" stroke-linejoin="round"/>
<path d="M116.4,224.9 L131.5,238.0 L131.0,265.0 L115.8,277.6 L100.4,264.0 L100.4,239.0Z" fill="url(#hex)" stroke="#4e241a" stroke-width="1.1" stroke-linejoin="round"/>
<path d="M399.0,167.5 L408.0,169.0 L416.0,167.5 L432.0,250.0 L429.0,342.0 L410.0,340.5 L391.0,342.0 L384.0,250.0Z" fill="url(#chan)" stroke="#5a3020" stroke-width="1"/>
<path d="M390.8,165.3 C394.2,165.0 397.5,165.5 399.7,167.0 C401.9,168.5 403.3,170.9 404.2,174.2 C405.1,177.5 404.9,180.7 405.0,187.0 C405.1,193.3 405.3,206.0 404.9,212.0 C404.5,218.0 405.3,218.4 402.6,222.8 C399.9,227.2 391.1,231.2 388.5,238.2 C385.9,245.2 386.9,256.3 387.0,265.0 C387.1,273.7 388.2,280.6 389.2,290.6 C390.2,300.6 392.4,317.8 393.0,325.0 C393.6,332.2 393.7,330.8 393.0,334.0 C392.3,337.2 391.3,341.6 389.0,344.0 C386.7,346.4 382.8,347.9 379.0,348.6 C375.2,349.3 369.6,348.9 366.0,348.0 C362.4,347.1 359.6,345.5 357.5,343.0 C355.4,340.5 354.4,340.2 353.5,333.0 C352.6,325.8 352.0,307.1 352.2,300.0 C352.4,292.9 353.5,296.4 354.6,290.6 C355.7,284.8 357.0,274.2 359.0,265.0 C361.0,255.8 365.0,244.8 366.7,235.6 C368.4,226.4 368.7,217.4 369.2,210.0 C369.7,202.6 369.0,196.3 369.6,191.0 C370.2,185.7 371.2,181.7 372.8,178.0 C374.4,174.3 376.2,171.1 379.2,169.0 C382.2,166.9 387.4,165.6 390.8,165.3Z" fill="url(#lobe)" stroke="#54402f" stroke-width="1.15"/>
<path d="M423.0,165.3 C425.6,165.3 428.2,165.7 430.8,167.2 C433.4,168.7 436.3,170.9 438.5,174.2 C440.7,177.5 442.6,182.7 444.2,187.0 C445.8,191.3 447.0,195.2 448.0,199.9 C449.0,204.6 449.5,204.2 450.0,215.0 C450.5,225.8 449.9,250.2 451.0,265.0 C452.1,279.8 454.7,292.5 456.4,303.5 C458.1,314.5 460.7,324.4 461.0,331.0 C461.3,337.6 460.2,339.9 458.0,343.0 C455.8,346.1 452.0,348.4 448.0,349.5 C444.0,350.6 437.8,350.2 434.0,349.5 C430.2,348.8 427.1,347.4 425.0,345.0 C422.9,342.6 421.8,339.8 421.5,335.0 C421.2,330.2 422.0,323.1 423.0,316.3 C424.0,309.6 426.9,303.1 427.6,294.5 C428.4,285.9 427.6,274.2 427.5,265.0 C427.4,255.8 429.9,247.0 427.0,239.5 C424.1,232.0 412.9,224.6 410.0,220.0 C407.1,215.4 409.6,217.5 409.6,212.0 C409.7,206.5 410.1,193.5 410.3,187.0 C410.5,180.5 410.0,176.3 410.9,173.0 C411.8,169.7 413.4,168.5 415.4,167.2 C417.4,165.9 420.4,165.3 423.0,165.3Z" fill="url(#lobe)" stroke="#54402f" stroke-width="1.15"/>
<path d="M407.9,226.7 L422.9,240.8 L422.9,265.0 L407.3,278.5 L392.1,265.0 L392.1,240.8Z" fill="#3b1a12" stroke="#3b1a12" stroke-width="1.0" stroke-linejoin="round"/>
<path d="M406.4,226.7 L421.4,240.8 L421.4,265.0 L405.8,278.5 L390.6,265.0 L390.6,240.8Z" fill="url(#hex)" stroke="#4e241a" stroke-width="1.1" stroke-linejoin="round"/>
<path d="M676.0,167.5 L695.0,169.5 L713.0,167.5 L722.0,250.0 L707.0,343.0 L692.0,343.0 L672.0,250.0Z" fill="url(#chan)" stroke="#5a3020" stroke-width="1"/>
<path d="M662.0,163.8 C666.3,164.1 674.2,166.2 677.4,167.7 C680.6,169.2 680.5,170.7 681.3,172.8 C682.1,174.9 682.4,177.7 682.3,180.5 C682.1,183.3 681.5,185.9 680.4,189.5 C679.3,193.1 676.8,198.1 675.9,202.3 C675.0,206.6 675.0,211.6 675.3,215.0 C675.6,218.4 676.5,220.1 677.8,222.7 C679.1,225.3 682.2,228.3 683.0,230.4 C683.8,232.5 683.0,233.6 682.3,235.5 C681.5,237.4 679.2,238.6 678.5,242.0 C677.8,245.4 678.1,252.6 677.8,256.0 C677.5,259.4 675.9,260.3 676.5,262.4 C677.1,264.5 680.2,266.7 681.7,268.8 C683.2,270.9 683.1,272.7 685.5,275.0 C687.9,277.3 694.0,279.4 695.8,282.8 C697.6,286.2 696.0,288.4 696.4,295.6 C696.8,302.8 698.3,319.3 698.3,326.0 C698.3,332.7 697.9,333.3 696.5,336.0 C695.1,338.7 692.8,340.6 690.0,342.0 C687.2,343.4 683.2,344.3 680.0,344.2 C676.8,344.1 673.3,343.2 671.0,341.5 C668.7,339.8 667.6,337.8 666.0,334.0 C664.4,330.2 663.1,326.3 661.5,319.0 C659.9,311.7 659.1,301.5 656.5,290.0 C653.9,278.5 649.0,263.1 646.0,250.0 C643.0,236.9 639.5,219.9 638.3,211.3 C637.1,202.7 638.6,203.2 639.0,198.5 C639.4,193.8 639.8,187.5 640.9,183.0 C642.0,178.5 643.6,174.4 645.4,171.5 C647.2,168.6 649.0,167.1 651.8,165.8 C654.6,164.5 657.7,163.5 662.0,163.8Z" fill="url(#lobe)" stroke="#54402f" stroke-width="1.15"/>
<path d="M720.0,163.5 C724.0,163.1 731.0,163.6 735.0,165.0 C739.0,166.4 741.6,166.2 744.0,172.0 C746.4,177.8 749.2,188.7 749.4,200.0 C749.6,211.3 746.8,225.0 745.0,240.0 C743.2,255.0 740.4,276.8 738.6,290.0 C736.8,303.2 735.5,312.2 734.2,319.0 C732.9,325.8 732.2,327.5 731.0,331.0 C729.8,334.5 729.3,337.8 727.0,340.0 C724.7,342.2 720.3,344.0 717.0,344.5 C713.7,345.0 709.6,344.4 707.0,343.0 C704.4,341.6 702.5,338.5 701.5,336.0 C700.5,333.5 700.9,329.8 700.9,328.0 C700.9,326.2 701.3,329.3 701.5,325.0 C701.7,320.7 702.5,309.0 702.2,302.0 C701.9,295.0 698.5,288.0 699.6,283.0 C700.7,278.0 705.8,275.0 708.6,272.0 C711.4,269.0 714.5,267.7 716.3,265.0 C718.1,262.3 719.1,259.0 719.5,256.0 C719.9,253.0 719.5,250.0 718.8,247.0 C718.0,244.0 716.6,240.8 715.0,238.0 C713.4,235.2 710.1,232.5 709.2,230.4 C708.4,228.3 709.1,227.9 709.9,225.3 C710.6,222.7 713.1,218.4 713.7,215.0 C714.3,211.6 714.2,208.7 713.7,204.9 C713.2,201.1 711.2,196.1 710.5,192.0 C709.8,187.9 709.1,184.6 709.2,180.5 C709.3,176.4 709.2,170.5 711.0,167.7 C712.8,164.9 716.0,163.9 720.0,163.5Z" fill="url(#lobe)" stroke="#54402f" stroke-width="1.15"/>
<path d="M75.9,21.4 L96.8,29.4 L107.1,49.7 L101.1,71.0 L78.7,64.6 L68.0,42.2Z" fill="#3b1a12" stroke="#3b1a12" stroke-width="1.0" stroke-linejoin="round"/>
<path d="M74.6,22.0 L95.5,30.0 L105.8,50.3 L99.8,71.6 L77.4,65.2 L66.7,42.8Z" fill="url(#hex)" stroke="#4e241a" stroke-width="1.1" stroke-linejoin="round"/>
<path d="M34.7,98.7 L49.0,83.5 L75.7,83.5 L89.7,98.7 L75.7,115.5 L48.0,115.5Z" fill="#3b1a12" stroke="#3b1a12" stroke-width="1.0" stroke-linejoin="round"/>
<path d="M34.7,100.2 L49.0,85.0 L75.7,85.0 L89.7,100.2 L75.7,117.0 L48.0,117.0Z" fill="url(#hex)" stroke="#4e241a" stroke-width="1.1" stroke-linejoin="round"/>
<path d="M101.3,97.3 L124.0,97.7 L140.7,114.0 L140.0,137.0 L116.3,137.0 L100.9,121.0Z" fill="#3b1a12" stroke="#3b1a12" stroke-width="1.0" stroke-linejoin="round"/>
<path d="M100.0,98.3 L122.7,98.7 L139.4,115.0 L138.7,138.0 L115.0,138.0 L99.6,122.0Z" fill="url(#hex)" stroke="#4e241a" stroke-width="1.1" stroke-linejoin="round"/>
<path d="M154.7,28.2 L171.2,43.5 L171.2,68.2 L155.2,82.3 L138.2,69.3 L138.2,42.3Z" fill="#3b1a12" stroke="#3b1a12" stroke-width="1.0" stroke-linejoin="round"/>
<path d="M153.2,28.2 L169.7,43.5 L169.7,68.2 L153.7,82.3 L136.8,69.3 L136.8,42.3Z" fill="url(#hex)" stroke="#4e241a" stroke-width="1.1" stroke-linejoin="round"/>
<path d="M152.0,105.0 L167.3,89.8 L193.2,89.8 L207.3,105.0 L193.2,121.6 L167.3,120.3Z" fill="#3b1a12" stroke="#3b1a12" stroke-width="1.0" stroke-linejoin="round"/>
<path d="M152.0,103.4 L167.3,88.2 L193.2,88.2 L207.3,103.4 L193.2,120.0 L167.3,118.7Z" fill="url(#hex)" stroke="#4e241a" stroke-width="1.1" stroke-linejoin="round"/>
<path d="M363.6,53.1 L384.5,61.1 L394.8,81.4 L388.8,102.7 L366.4,96.3 L355.7,73.9Z" fill="#3b1a12" stroke="#3b1a12" stroke-width="1.0" stroke-linejoin="round"/>
<path d="M362.3,53.7 L383.2,61.7 L393.5,82.0 L387.5,103.3 L365.1,96.9 L354.4,74.5Z" fill="url(#hex)" stroke="#4e241a" stroke-width="1.1" stroke-linejoin="round"/>
<path d="M322.4,130.4 L336.7,115.2 L363.4,115.2 L377.4,130.4 L363.4,147.2 L335.7,147.2Z" fill="#3b1a12" stroke="#3b1a12" stroke-width="1.0" stroke-linejoin="round"/>
<path d="M322.4,131.9 L336.7,116.7 L363.4,116.7 L377.4,131.9 L363.4,148.7 L335.7,148.7Z" fill="url(#hex)" stroke="#4e241a" stroke-width="1.1" stroke-linejoin="round"/>
<path d="M442.4,59.9 L458.9,75.2 L458.9,99.9 L442.9,114.0 L425.9,101.0 L425.9,74.0Z" fill="#3b1a12" stroke="#3b1a12" stroke-width="1.0" stroke-linejoin="round"/>
<path d="M440.9,59.9 L457.4,75.2 L457.4,99.9 L441.4,114.0 L424.4,101.0 L424.4,74.0Z" fill="url(#hex)" stroke="#4e241a" stroke-width="1.1" stroke-linejoin="round"/>
<path d="M439.7,136.7 L455.0,121.5 L480.9,121.5 L495.0,136.7 L480.9,153.3 L455.0,152.0Z" fill="#3b1a12" stroke="#3b1a12" stroke-width="1.0" stroke-linejoin="round"/>
<path d="M439.7,135.1 L455.0,119.9 L480.9,119.9 L495.0,135.1 L480.9,151.7 L455.0,150.4Z" fill="url(#hex)" stroke="#4e241a" stroke-width="1.1" stroke-linejoin="round"/>
<path d="M408.1,373.7 L425.5,389.5 L425.5,413.3 L408.4,428.3 L391.2,413.3 L391.2,388.7Z" fill="#3b1a12" stroke="#3b1a12" stroke-width="1.0" stroke-linejoin="round"/>
<path d="M406.6,373.2 L424.0,389.0 L424.0,412.8 L406.9,427.8 L389.7,412.8 L389.7,388.2Z" fill="url(#hex)" stroke="#4e241a" stroke-width="1.1" stroke-linejoin="round"/>
<path d="M704.2,36.0 L726.2,37.4 L726.2,59.9 L710.2,75.7 L687.2,75.7 L686.4,52.4Z" fill="#3b1a12" stroke="#3b1a12" stroke-width="1.0" stroke-linejoin="round"/>
<path d="M703.0,35.0 L725.0,36.4 L725.0,58.9 L709.0,74.7 L686.0,74.7 L685.2,51.4Z" fill="url(#hex)" stroke="#4e241a" stroke-width="1.1" stroke-linejoin="round"/>
<path d="M615.0,91.7 L630.0,75.3 L656.8,75.3 L670.3,91.7 L655.3,108.2 L630.0,108.2Z" fill="#3b1a12" stroke="#3b1a12" stroke-width="1.0" stroke-linejoin="round"/>
<path d="M615.0,93.2 L630.0,76.8 L656.8,76.8 L670.3,93.2 L655.3,109.7 L630.0,109.7Z" fill="url(#hex)" stroke="#4e241a" stroke-width="1.1" stroke-linejoin="round"/>
<path d="M691.2,102.2 L712.1,109.7 L722.5,130.6 L716.5,151.5 L695.7,142.6 L682.8,121.6Z" fill="#3b1a12" stroke="#3b1a12" stroke-width="1.0" stroke-linejoin="round"/>
<path d="M689.7,102.2 L710.6,109.7 L721.0,130.6 L715.0,151.5 L694.2,142.6 L681.3,121.6Z" fill="url(#hex)" stroke="#4e241a" stroke-width="1.1" stroke-linejoin="round"/>
<path d="M739.0,100.8 L754.0,85.0 L779.4,85.0 L793.7,100.8 L779.4,117.3 L754.0,116.6Z" fill="#3b1a12" stroke="#3b1a12" stroke-width="1.0" stroke-linejoin="round"/>
<path d="M739.0,99.2 L754.0,83.4 L779.4,83.4 L793.7,99.2 L779.4,115.7 L754.0,115.0Z" fill="url(#hex)" stroke="#4e241a" stroke-width="1.1" stroke-linejoin="round"/>
<path d="M716.8,383.8 L738.8,383.0 L756.8,399.3 L756.6,422.8 L733.8,422.8 L716.8,406.8Z" fill="#3b1a12" stroke="#3b1a12" stroke-width="1.0" stroke-linejoin="round"/>
<path d="M718.0,383.0 L740.0,382.2 L758.0,398.5 L757.8,422.0 L735.0,422.0 L718.0,406.0Z" fill="url(#hex)" stroke="#4e241a" stroke-width="1.1" stroke-linejoin="round"/>
<line x1="114.8" y1="145.0" x2="114.8" y2="207.8" stroke="#fff" stroke-opacity="0.55" stroke-width="4.6"/>
<path d="M114.8,219.8 L109.3,202.3 L120.3,202.3 Z" fill="none" stroke="#fff" stroke-opacity="0.6" stroke-width="2"/>
<line x1="114.8" y1="145.0" x2="114.8" y2="205.8" stroke="#111" stroke-width="2.4"/>
<path d="M114.8,219.8 L109.4,202.3 L114.8,203.3 L120.2,202.3 Z" fill="#111"/>
<line x1="404.6" y1="290.6" x2="404.6" y2="354.5" stroke="#fff" stroke-opacity="0.55" stroke-width="4.6"/>
<path d="M404.6,366.5 L399.1,349.0 L410.1,349.0 Z" fill="none" stroke="#fff" stroke-opacity="0.6" stroke-width="2"/>
<line x1="404.6" y1="290.6" x2="404.6" y2="352.5" stroke="#111" stroke-width="2.4"/>
<path d="M404.6,366.5 L399.2,349.0 L404.6,350.0 L410.0,349.0 Z" fill="#111"/>
<line x1="242.2" y1="248.8" x2="283.0" y2="248.8" stroke="#111" stroke-width="3.3" stroke-linecap="butt"/>
<path d="M295.0,248.8 L278.0,243.0 L282.0,248.8 L278.0,254.6 Z" fill="#111"/>
<line x1="530.6" y1="248.7" x2="571.8" y2="248.7" stroke="#111" stroke-width="3.3" stroke-linecap="butt"/>
<path d="M583.8,248.7 L566.8,242.9 L570.8,248.7 L566.8,254.5 Z" fill="#111"/>
<text x="85.6" y="90.8" font-size="16" fill="#5e594f">Glucose</text>
<text x="317.6" y="38.8" font-size="16.2" fill="#5e594f">Outside of cell</text>
<text x="317" y="449.3" font-size="16" fill="#5e6268">Inside of cell</text>
</g></svg></body></html>
